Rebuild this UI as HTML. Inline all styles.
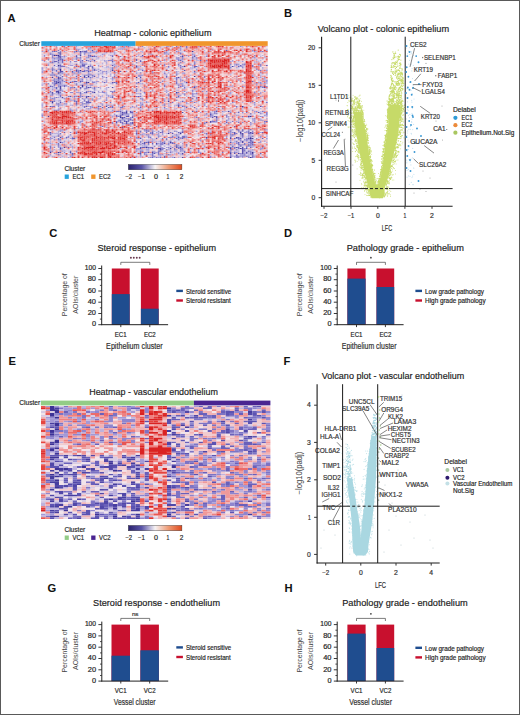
<!DOCTYPE html>
<html><head><meta charset="utf-8"><style>
html,body{margin:0;padding:0;background:#fff;}
body{width:520px;height:715px;overflow:hidden;}
svg{display:block;font-family:"Liberation Sans",sans-serif;}
</style></head><body>
<svg width="520" height="715" viewBox="0 0 520 715">
<rect width="520" height="715" fill="#fff"/>
<text x="7.6" y="21.8" font-size="11.2" text-anchor="start" font-weight="bold" fill="#111">A</text>
<text x="284.0" y="17.3" font-size="11.2" text-anchor="start" font-weight="bold" fill="#111">B</text>
<text x="49.3" y="236.8" font-size="11.2" text-anchor="start" font-weight="bold" fill="#111">C</text>
<text x="284.0" y="236.6" font-size="11.2" text-anchor="start" font-weight="bold" fill="#111">D</text>
<text x="8.5" y="365.0" font-size="11.2" text-anchor="start" font-weight="bold" fill="#111">E</text>
<text x="283.6" y="365.0" font-size="11.2" text-anchor="start" font-weight="bold" fill="#111">F</text>
<text x="47.6" y="592.1" font-size="11.2" text-anchor="start" font-weight="bold" fill="#111">G</text>
<text x="284.4" y="592.0" font-size="11.2" text-anchor="start" font-weight="bold" fill="#111">H</text>
<text x="94.2" y="35.9" font-size="9.6" text-anchor="start" textLength="117.3" lengthAdjust="spacingAndGlyphs" fill="#222" stroke="#222" stroke-width="0.18">Heatmap - colonic epithelium</text>
<text x="317.7" y="31.6" font-size="9.6" text-anchor="start" textLength="131.4" lengthAdjust="spacingAndGlyphs" fill="#222" stroke="#222" stroke-width="0.18">Volcano plot - colonic epithelium</text>
<text x="97.5" y="250.9" font-size="9.6" text-anchor="start" textLength="118.5" lengthAdjust="spacingAndGlyphs" fill="#222" stroke="#222" stroke-width="0.18">Steroid response - epithelium</text>
<text x="346.7" y="250.9" font-size="9.6" text-anchor="start" textLength="117.2" lengthAdjust="spacingAndGlyphs" fill="#222" stroke="#222" stroke-width="0.18">Pathology grade - epithelium</text>
<text x="89.2" y="394.5" font-size="9.6" text-anchor="start" textLength="128.7" lengthAdjust="spacingAndGlyphs" fill="#222" stroke="#222" stroke-width="0.18">Heatmap - vascular endothelium</text>
<text x="321.8" y="379.1" font-size="9.6" text-anchor="start" textLength="142.4" lengthAdjust="spacingAndGlyphs" fill="#222" stroke="#222" stroke-width="0.18">Volcano plot - vascular endothelium</text>
<text x="93.1" y="606.1" font-size="9.6" text-anchor="start" textLength="126.9" lengthAdjust="spacingAndGlyphs" fill="#222" stroke="#222" stroke-width="0.18">Steroid response - endothelium</text>
<text x="342.2" y="606.1" font-size="9.6" text-anchor="start" textLength="125.5" lengthAdjust="spacingAndGlyphs" fill="#222" stroke="#222" stroke-width="0.18">Pathology grade - endothelium</text>
<rect x="111.8" y="268.5" width="17.9" height="56.2" fill="#c8102e"/>
<rect x="111.8" y="294.1" width="17.9" height="30.6" fill="#1f4d8f"/>
<rect x="140.9" y="268.5" width="17.8" height="56.2" fill="#c8102e"/>
<rect x="140.9" y="308.7" width="17.8" height="16.0" fill="#1f4d8f"/>
<line x1="101.7" y1="265.5" x2="101.7" y2="325.1" stroke="#222" stroke-width="1.0"/>
<line x1="101.2" y1="324.7" x2="168.1" y2="324.7" stroke="#222" stroke-width="1.0"/>
<line x1="98.3" y1="324.7" x2="101.7" y2="324.7" stroke="#222" stroke-width="0.9"/>
<line x1="99.9" y1="319.1" x2="101.7" y2="319.1" stroke="#222" stroke-width="0.8"/>
<line x1="98.3" y1="313.5" x2="101.7" y2="313.5" stroke="#222" stroke-width="0.9"/>
<line x1="99.9" y1="307.8" x2="101.7" y2="307.8" stroke="#222" stroke-width="0.8"/>
<line x1="98.3" y1="302.2" x2="101.7" y2="302.2" stroke="#222" stroke-width="0.9"/>
<line x1="99.9" y1="296.6" x2="101.7" y2="296.6" stroke="#222" stroke-width="0.8"/>
<line x1="98.3" y1="291.0" x2="101.7" y2="291.0" stroke="#222" stroke-width="0.9"/>
<line x1="99.9" y1="285.4" x2="101.7" y2="285.4" stroke="#222" stroke-width="0.8"/>
<line x1="98.3" y1="279.7" x2="101.7" y2="279.7" stroke="#222" stroke-width="0.9"/>
<line x1="99.9" y1="274.1" x2="101.7" y2="274.1" stroke="#222" stroke-width="0.8"/>
<line x1="98.3" y1="268.5" x2="101.7" y2="268.5" stroke="#222" stroke-width="0.9"/>
<text x="91.9" y="326.4" font-size="6.3" text-anchor="start" textLength="4.1" lengthAdjust="spacingAndGlyphs" fill="#262626" stroke="#262626" stroke-width="0.18">0</text>
<text x="87.7" y="315.2" font-size="6.3" text-anchor="start" textLength="8.3" lengthAdjust="spacingAndGlyphs" fill="#262626" stroke="#262626" stroke-width="0.18">20</text>
<text x="87.7" y="303.9" font-size="6.3" text-anchor="start" textLength="8.3" lengthAdjust="spacingAndGlyphs" fill="#262626" stroke="#262626" stroke-width="0.18">40</text>
<text x="87.7" y="292.7" font-size="6.3" text-anchor="start" textLength="8.3" lengthAdjust="spacingAndGlyphs" fill="#262626" stroke="#262626" stroke-width="0.18">60</text>
<text x="87.7" y="281.4" font-size="6.3" text-anchor="start" textLength="8.3" lengthAdjust="spacingAndGlyphs" fill="#262626" stroke="#262626" stroke-width="0.18">80</text>
<text x="84.8" y="270.2" font-size="6.3" text-anchor="start" textLength="11.2" lengthAdjust="spacingAndGlyphs" fill="#262626" stroke="#262626" stroke-width="0.18">100</text>
<line x1="120.8" y1="324.7" x2="120.8" y2="327.1" stroke="#222" stroke-width="0.9"/>
<text x="114.8" y="336.8" font-size="6.3" text-anchor="start" textLength="11.8" lengthAdjust="spacingAndGlyphs" fill="#262626" stroke="#262626" stroke-width="0.18">EC1</text>
<line x1="149.8" y1="324.7" x2="149.8" y2="327.1" stroke="#222" stroke-width="0.9"/>
<text x="143.9" y="336.8" font-size="6.3" text-anchor="start" textLength="11.8" lengthAdjust="spacingAndGlyphs" fill="#262626" stroke="#262626" stroke-width="0.18">EC2</text>
<text x="106.1" y="348.6" font-size="8.4" text-anchor="start" textLength="56.6" lengthAdjust="spacingAndGlyphs" fill="#303030" stroke="#303030" stroke-width="0.18">Epithelium cluster</text>
<text transform="translate(66.6,294.7) rotate(-90)" x="0" y="0" font-size="7.2" text-anchor="middle" textLength="43.0" lengthAdjust="spacingAndGlyphs" fill="#444">Percentage of</text>
<text transform="translate(77.6,294.7) rotate(-90)" x="0" y="0" font-size="7.2" text-anchor="middle" textLength="38.0" lengthAdjust="spacingAndGlyphs" fill="#444">AOIs/cluster</text>
<path d="M120.8,264.9 V262.3 H149.8 V264.9" fill="none" stroke="#444" stroke-width="0.7"/>
<circle cx="130.9" cy="257.7" r="0.95" fill="#6a3b50"/>
<circle cx="133.8" cy="257.7" r="0.95" fill="#6a3b50"/>
<circle cx="136.8" cy="257.7" r="0.95" fill="#6a3b50"/>
<circle cx="139.7" cy="257.7" r="0.95" fill="#6a3b50"/>
<rect x="176.3" y="289.7" width="6.6" height="2.4" fill="#1f4d8f"/>
<text x="186.0" y="293.7" font-size="6.6" text-anchor="start" textLength="45.2" lengthAdjust="spacingAndGlyphs" fill="#262626" stroke="#262626" stroke-width="0.18">Steroid sensitive</text>
<rect x="176.3" y="299.3" width="6.6" height="2.4" fill="#c8102e"/>
<text x="186.0" y="303.3" font-size="6.6" text-anchor="start" textLength="44.8" lengthAdjust="spacingAndGlyphs" fill="#262626" stroke="#262626" stroke-width="0.18">Steroid resistant</text>
<rect x="347.4" y="268.5" width="18.2" height="56.2" fill="#c8102e"/>
<rect x="347.4" y="278.6" width="18.2" height="46.1" fill="#1f4d8f"/>
<rect x="376.5" y="268.5" width="17.7" height="56.2" fill="#c8102e"/>
<rect x="376.5" y="287.0" width="17.7" height="37.7" fill="#1f4d8f"/>
<line x1="337.2" y1="265.5" x2="337.2" y2="325.1" stroke="#222" stroke-width="1.0"/>
<line x1="336.7" y1="324.7" x2="403.6" y2="324.7" stroke="#222" stroke-width="1.0"/>
<line x1="333.8" y1="324.7" x2="337.2" y2="324.7" stroke="#222" stroke-width="0.9"/>
<line x1="335.4" y1="319.1" x2="337.2" y2="319.1" stroke="#222" stroke-width="0.8"/>
<line x1="333.8" y1="313.5" x2="337.2" y2="313.5" stroke="#222" stroke-width="0.9"/>
<line x1="335.4" y1="307.8" x2="337.2" y2="307.8" stroke="#222" stroke-width="0.8"/>
<line x1="333.8" y1="302.2" x2="337.2" y2="302.2" stroke="#222" stroke-width="0.9"/>
<line x1="335.4" y1="296.6" x2="337.2" y2="296.6" stroke="#222" stroke-width="0.8"/>
<line x1="333.8" y1="291.0" x2="337.2" y2="291.0" stroke="#222" stroke-width="0.9"/>
<line x1="335.4" y1="285.4" x2="337.2" y2="285.4" stroke="#222" stroke-width="0.8"/>
<line x1="333.8" y1="279.7" x2="337.2" y2="279.7" stroke="#222" stroke-width="0.9"/>
<line x1="335.4" y1="274.1" x2="337.2" y2="274.1" stroke="#222" stroke-width="0.8"/>
<line x1="333.8" y1="268.5" x2="337.2" y2="268.5" stroke="#222" stroke-width="0.9"/>
<text x="327.4" y="326.4" font-size="6.3" text-anchor="start" textLength="4.1" lengthAdjust="spacingAndGlyphs" fill="#262626" stroke="#262626" stroke-width="0.18">0</text>
<text x="323.2" y="315.2" font-size="6.3" text-anchor="start" textLength="8.3" lengthAdjust="spacingAndGlyphs" fill="#262626" stroke="#262626" stroke-width="0.18">20</text>
<text x="323.2" y="303.9" font-size="6.3" text-anchor="start" textLength="8.3" lengthAdjust="spacingAndGlyphs" fill="#262626" stroke="#262626" stroke-width="0.18">40</text>
<text x="323.2" y="292.7" font-size="6.3" text-anchor="start" textLength="8.3" lengthAdjust="spacingAndGlyphs" fill="#262626" stroke="#262626" stroke-width="0.18">60</text>
<text x="323.2" y="281.4" font-size="6.3" text-anchor="start" textLength="8.3" lengthAdjust="spacingAndGlyphs" fill="#262626" stroke="#262626" stroke-width="0.18">80</text>
<text x="320.3" y="270.2" font-size="6.3" text-anchor="start" textLength="11.2" lengthAdjust="spacingAndGlyphs" fill="#262626" stroke="#262626" stroke-width="0.18">100</text>
<line x1="356.5" y1="324.7" x2="356.5" y2="327.1" stroke="#222" stroke-width="0.9"/>
<text x="350.6" y="336.8" font-size="6.3" text-anchor="start" textLength="11.8" lengthAdjust="spacingAndGlyphs" fill="#262626" stroke="#262626" stroke-width="0.18">EC1</text>
<line x1="385.4" y1="324.7" x2="385.4" y2="327.1" stroke="#222" stroke-width="0.9"/>
<text x="379.5" y="336.8" font-size="6.3" text-anchor="start" textLength="11.8" lengthAdjust="spacingAndGlyphs" fill="#262626" stroke="#262626" stroke-width="0.18">EC2</text>
<text x="341.8" y="348.6" font-size="8.4" text-anchor="start" textLength="54.7" lengthAdjust="spacingAndGlyphs" fill="#303030" stroke="#303030" stroke-width="0.18">Epithelium cluster</text>
<text transform="translate(302.3,294.7) rotate(-90)" x="0" y="0" font-size="7.2" text-anchor="middle" textLength="43.0" lengthAdjust="spacingAndGlyphs" fill="#444">Percentage of</text>
<text transform="translate(313.3,294.7) rotate(-90)" x="0" y="0" font-size="7.2" text-anchor="middle" textLength="38.0" lengthAdjust="spacingAndGlyphs" fill="#444">AOIs/cluster</text>
<path d="M356.5,264.9 V262.3 H385.4 V264.9" fill="none" stroke="#444" stroke-width="0.7"/>
<circle cx="370.9" cy="257.7" r="0.9" fill="#444"/>
<rect x="415.4" y="289.7" width="6.6" height="2.4" fill="#1f4d8f"/>
<text x="425.1" y="293.7" font-size="6.6" text-anchor="start" textLength="58.9" lengthAdjust="spacingAndGlyphs" fill="#262626" stroke="#262626" stroke-width="0.18">Low grade pathology</text>
<rect x="415.4" y="299.3" width="6.6" height="2.4" fill="#c8102e"/>
<text x="425.1" y="303.3" font-size="6.6" text-anchor="start" textLength="60.5" lengthAdjust="spacingAndGlyphs" fill="#262626" stroke="#262626" stroke-width="0.18">High grade pathology</text>
<rect x="111.5" y="624.6" width="18.5" height="56.5" fill="#c8102e"/>
<rect x="111.5" y="655.7" width="18.5" height="25.4" fill="#1f4d8f"/>
<rect x="140.4" y="624.6" width="18.5" height="56.5" fill="#c8102e"/>
<rect x="140.4" y="650.3" width="18.5" height="30.8" fill="#1f4d8f"/>
<line x1="101.8" y1="621.6" x2="101.8" y2="681.5" stroke="#222" stroke-width="1.0"/>
<line x1="101.3" y1="681.1" x2="168.2" y2="681.1" stroke="#222" stroke-width="1.0"/>
<line x1="98.4" y1="681.1" x2="101.8" y2="681.1" stroke="#222" stroke-width="0.9"/>
<line x1="100.0" y1="675.5" x2="101.8" y2="675.5" stroke="#222" stroke-width="0.8"/>
<line x1="98.4" y1="669.8" x2="101.8" y2="669.8" stroke="#222" stroke-width="0.9"/>
<line x1="100.0" y1="664.1" x2="101.8" y2="664.1" stroke="#222" stroke-width="0.8"/>
<line x1="98.4" y1="658.5" x2="101.8" y2="658.5" stroke="#222" stroke-width="0.9"/>
<line x1="100.0" y1="652.9" x2="101.8" y2="652.9" stroke="#222" stroke-width="0.8"/>
<line x1="98.4" y1="647.2" x2="101.8" y2="647.2" stroke="#222" stroke-width="0.9"/>
<line x1="100.0" y1="641.6" x2="101.8" y2="641.6" stroke="#222" stroke-width="0.8"/>
<line x1="98.4" y1="635.9" x2="101.8" y2="635.9" stroke="#222" stroke-width="0.9"/>
<line x1="100.0" y1="630.2" x2="101.8" y2="630.2" stroke="#222" stroke-width="0.8"/>
<line x1="98.4" y1="624.6" x2="101.8" y2="624.6" stroke="#222" stroke-width="0.9"/>
<text x="92.0" y="682.8" font-size="6.3" text-anchor="start" textLength="4.1" lengthAdjust="spacingAndGlyphs" fill="#262626" stroke="#262626" stroke-width="0.18">0</text>
<text x="87.8" y="671.5" font-size="6.3" text-anchor="start" textLength="8.3" lengthAdjust="spacingAndGlyphs" fill="#262626" stroke="#262626" stroke-width="0.18">20</text>
<text x="87.8" y="660.2" font-size="6.3" text-anchor="start" textLength="8.3" lengthAdjust="spacingAndGlyphs" fill="#262626" stroke="#262626" stroke-width="0.18">40</text>
<text x="87.8" y="648.9" font-size="6.3" text-anchor="start" textLength="8.3" lengthAdjust="spacingAndGlyphs" fill="#262626" stroke="#262626" stroke-width="0.18">60</text>
<text x="87.8" y="637.6" font-size="6.3" text-anchor="start" textLength="8.3" lengthAdjust="spacingAndGlyphs" fill="#262626" stroke="#262626" stroke-width="0.18">80</text>
<text x="84.9" y="626.3" font-size="6.3" text-anchor="start" textLength="11.2" lengthAdjust="spacingAndGlyphs" fill="#262626" stroke="#262626" stroke-width="0.18">100</text>
<line x1="120.8" y1="681.1" x2="120.8" y2="683.5" stroke="#222" stroke-width="0.9"/>
<text x="114.8" y="693.2" font-size="6.3" text-anchor="start" textLength="11.8" lengthAdjust="spacingAndGlyphs" fill="#262626" stroke="#262626" stroke-width="0.18">VC1</text>
<line x1="149.7" y1="681.1" x2="149.7" y2="683.5" stroke="#222" stroke-width="0.9"/>
<text x="143.8" y="693.2" font-size="6.3" text-anchor="start" textLength="11.8" lengthAdjust="spacingAndGlyphs" fill="#262626" stroke="#262626" stroke-width="0.18">VC2</text>
<text x="113.8" y="705.0" font-size="8.4" text-anchor="start" textLength="41.6" lengthAdjust="spacingAndGlyphs" fill="#303030" stroke="#303030" stroke-width="0.18">Vessel cluster</text>
<text transform="translate(66.8,651.0) rotate(-90)" x="0" y="0" font-size="7.2" text-anchor="middle" textLength="43.0" lengthAdjust="spacingAndGlyphs" fill="#444">Percentage of</text>
<text transform="translate(77.8,651.0) rotate(-90)" x="0" y="0" font-size="7.2" text-anchor="middle" textLength="38.0" lengthAdjust="spacingAndGlyphs" fill="#444">AOIs/cluster</text>
<path d="M120.8,621.0 V618.4 H149.7 V621.0" fill="none" stroke="#444" stroke-width="0.7"/>
<text x="131.9" y="615.8" font-size="6.0" text-anchor="start" textLength="6.6" lengthAdjust="spacingAndGlyphs" fill="#303030" stroke="#303030" stroke-width="0.18">ns</text>
<rect x="176.3" y="646.2" width="6.6" height="2.4" fill="#1f4d8f"/>
<text x="186.0" y="650.2" font-size="6.6" text-anchor="start" textLength="45.2" lengthAdjust="spacingAndGlyphs" fill="#262626" stroke="#262626" stroke-width="0.18">Steroid sensitive</text>
<rect x="176.3" y="655.8" width="6.6" height="2.4" fill="#c8102e"/>
<text x="186.0" y="659.8" font-size="6.6" text-anchor="start" textLength="44.8" lengthAdjust="spacingAndGlyphs" fill="#262626" stroke="#262626" stroke-width="0.18">Steroid resistant</text>
<rect x="347.4" y="624.6" width="18.2" height="56.5" fill="#c8102e"/>
<rect x="347.4" y="633.6" width="18.2" height="47.5" fill="#1f4d8f"/>
<rect x="376.5" y="624.6" width="17.7" height="56.5" fill="#c8102e"/>
<rect x="376.5" y="648.0" width="17.7" height="33.1" fill="#1f4d8f"/>
<line x1="337.2" y1="621.6" x2="337.2" y2="681.5" stroke="#222" stroke-width="1.0"/>
<line x1="336.7" y1="681.1" x2="403.6" y2="681.1" stroke="#222" stroke-width="1.0"/>
<line x1="333.8" y1="681.1" x2="337.2" y2="681.1" stroke="#222" stroke-width="0.9"/>
<line x1="335.4" y1="675.5" x2="337.2" y2="675.5" stroke="#222" stroke-width="0.8"/>
<line x1="333.8" y1="669.8" x2="337.2" y2="669.8" stroke="#222" stroke-width="0.9"/>
<line x1="335.4" y1="664.1" x2="337.2" y2="664.1" stroke="#222" stroke-width="0.8"/>
<line x1="333.8" y1="658.5" x2="337.2" y2="658.5" stroke="#222" stroke-width="0.9"/>
<line x1="335.4" y1="652.9" x2="337.2" y2="652.9" stroke="#222" stroke-width="0.8"/>
<line x1="333.8" y1="647.2" x2="337.2" y2="647.2" stroke="#222" stroke-width="0.9"/>
<line x1="335.4" y1="641.6" x2="337.2" y2="641.6" stroke="#222" stroke-width="0.8"/>
<line x1="333.8" y1="635.9" x2="337.2" y2="635.9" stroke="#222" stroke-width="0.9"/>
<line x1="335.4" y1="630.2" x2="337.2" y2="630.2" stroke="#222" stroke-width="0.8"/>
<line x1="333.8" y1="624.6" x2="337.2" y2="624.6" stroke="#222" stroke-width="0.9"/>
<text x="327.4" y="682.8" font-size="6.3" text-anchor="start" textLength="4.1" lengthAdjust="spacingAndGlyphs" fill="#262626" stroke="#262626" stroke-width="0.18">0</text>
<text x="323.2" y="671.5" font-size="6.3" text-anchor="start" textLength="8.3" lengthAdjust="spacingAndGlyphs" fill="#262626" stroke="#262626" stroke-width="0.18">20</text>
<text x="323.2" y="660.2" font-size="6.3" text-anchor="start" textLength="8.3" lengthAdjust="spacingAndGlyphs" fill="#262626" stroke="#262626" stroke-width="0.18">40</text>
<text x="323.2" y="648.9" font-size="6.3" text-anchor="start" textLength="8.3" lengthAdjust="spacingAndGlyphs" fill="#262626" stroke="#262626" stroke-width="0.18">60</text>
<text x="323.2" y="637.6" font-size="6.3" text-anchor="start" textLength="8.3" lengthAdjust="spacingAndGlyphs" fill="#262626" stroke="#262626" stroke-width="0.18">80</text>
<text x="320.3" y="626.3" font-size="6.3" text-anchor="start" textLength="11.2" lengthAdjust="spacingAndGlyphs" fill="#262626" stroke="#262626" stroke-width="0.18">100</text>
<line x1="356.5" y1="681.1" x2="356.5" y2="683.5" stroke="#222" stroke-width="0.9"/>
<text x="350.6" y="693.2" font-size="6.3" text-anchor="start" textLength="11.8" lengthAdjust="spacingAndGlyphs" fill="#262626" stroke="#262626" stroke-width="0.18">VC1</text>
<line x1="385.4" y1="681.1" x2="385.4" y2="683.5" stroke="#222" stroke-width="0.9"/>
<text x="379.5" y="693.2" font-size="6.3" text-anchor="start" textLength="11.8" lengthAdjust="spacingAndGlyphs" fill="#262626" stroke="#262626" stroke-width="0.18">VC2</text>
<text x="349.2" y="705.0" font-size="8.4" text-anchor="start" textLength="42.8" lengthAdjust="spacingAndGlyphs" fill="#303030" stroke="#303030" stroke-width="0.18">Vessel cluster</text>
<text transform="translate(302.3,651.0) rotate(-90)" x="0" y="0" font-size="7.2" text-anchor="middle" textLength="43.0" lengthAdjust="spacingAndGlyphs" fill="#444">Percentage of</text>
<text transform="translate(313.3,651.0) rotate(-90)" x="0" y="0" font-size="7.2" text-anchor="middle" textLength="38.0" lengthAdjust="spacingAndGlyphs" fill="#444">AOIs/cluster</text>
<path d="M356.5,621.0 V618.4 H385.4 V621.0" fill="none" stroke="#444" stroke-width="0.7"/>
<circle cx="370.9" cy="613.8" r="0.9" fill="#444"/>
<rect x="415.4" y="646.6" width="6.6" height="2.4" fill="#1f4d8f"/>
<text x="425.1" y="650.6" font-size="6.6" text-anchor="start" textLength="58.9" lengthAdjust="spacingAndGlyphs" fill="#262626" stroke="#262626" stroke-width="0.18">Low grade pathology</text>
<rect x="415.4" y="656.2" width="6.6" height="2.4" fill="#c8102e"/>
<text x="425.1" y="660.2" font-size="6.6" text-anchor="start" textLength="60.5" lengthAdjust="spacingAndGlyphs" fill="#262626" stroke="#262626" stroke-width="0.18">High grade pathology</text>
<path d="M361.1 128.4h0M392.9 102.5h0M387.3 101.0h0M352.2 139.7h0M385.7 138.7h0M403.0 118.0h0M371.7 154.4h0M391.8 99.8h0M352.0 109.9h0M369.6 179.1h0M364.8 160.8h0M349.8 101.5h0M361.6 165.1h0M358.9 155.3h0M381.9 176.8h0M398.2 154.2h0M374.5 170.1h0M359.2 107.2h0M347.4 110.7h0M390.3 163.8h0M373.5 185.2h0M389.6 156.2h0M384.4 181.5h0M368.2 163.4h0M395.4 161.7h0M360.7 124.3h0M349.1 97.3h0M359.3 107.1h0M353.2 108.3h0M368.9 184.8h0M397.7 151.6h0M368.0 184.0h0M403.2 132.0h0M350.7 110.5h0M358.2 119.0h0M355.6 122.1h0M403.1 133.0h0M390.7 166.1h0M371.9 164.6h0M392.2 175.3h0M351.2 135.4h0M355.7 160.3h0M353.3 116.5h0M349.0 100.4h0M347.1 105.5h0M377.2 185.1h0M354.4 121.0h0M403.9 107.7h0M352.7 143.0h0M351.0 105.5h0M360.0 180.4h0M376.4 193.0h0M362.5 150.9h0M385.9 195.8h0M350.8 121.9h0M392.1 174.5h0M364.3 129.0h0M387.5 196.4h0M380.7 179.3h0M352.5 148.3h0M350.5 97.9h0M387.6 166.3h0M390.8 191.5h0M353.3 132.6h0M358.2 115.3h0M382.5 187.7h0M381.7 162.3h0M394.3 163.0h0M360.7 172.3h0M372.7 176.3h0M369.7 195.1h0M376.8 192.5h0M361.8 108.1h0M373.7 178.1h0M379.9 196.0h0M352.7 151.5h0M383.2 195.0h0M377.5 191.2h0M364.0 180.1h0M359.3 125.2h0M350.1 121.7h0M370.0 188.7h0M389.1 155.1h0M383.3 189.5h0M360.5 148.9h0M361.1 113.9h0M359.5 112.8h0M362.6 152.3h0M383.3 152.2h0M358.0 152.7h0M388.2 174.5h0M386.3 173.3h0M390.3 158.1h0M365.8 166.4h0M396.8 144.2h0M379.1 185.3h0M397.9 152.6h0M354.2 109.1h0M347.8 102.5h0M396.1 164.0h0M397.8 110.9h0M403.4 109.7h0M392.9 117.6h0M399.3 145.2h0M355.7 111.6h0M354.8 129.9h0M366.8 169.4h0M357.1 140.4h0M381.6 159.3h0M390.4 196.5h0M347.3 105.8h0M360.5 175.2h0M400.2 138.5h0M364.9 121.6h0M382.8 153.8h0M394.0 100.9h0M397.6 102.5h0M374.0 177.6h0M394.5 101.9h0M402.6 129.9h0M357.7 122.6h0M350.4 119.6h0M351.4 100.2h0M390.5 126.4h0M358.3 146.5h0M346.9 96.9h0M382.3 170.5h0M384.5 143.9h0M368.1 179.3h0M368.8 181.0h0M385.8 165.8h0M387.6 180.7h0M350.6 136.7h0M359.1 108.4h0M349.1 121.3h0M387.9 181.7h0M353.4 124.0h0M359.6 142.3h0M403.5 122.1h0M371.0 151.3h0M348.1 126.9h0M359.1 134.3h0M385.7 115.7h0M355.2 122.2h0M351.2 99.3h0M395.3 119.0h0M391.3 172.3h0M366.9 185.5h0M375.3 196.4h0M370.2 161.3h0M387.2 186.9h0M368.4 178.7h0M398.4 147.0h0M392.3 180.1h0M383.9 165.3h0M352.0 98.2h0M396.2 105.8h0M393.2 159.7h0M366.9 145.4h0M388.2 172.1h0M368.7 162.9h0M352.5 121.0h0M370.2 170.1h0M369.5 195.5h0M398.1 144.3h0M381.9 158.5h0M359.4 110.2h0M385.3 126.4h0M356.9 101.2h0M384.8 166.3h0M360.9 148.2h0M389.7 107.2h0M374.1 195.7h0M402.8 142.3h0M354.8 141.3h0M372.5 192.4h0M403.1 109.6h0M395.2 108.7h0M378.2 186.3h0M361.8 187.5h0M353.1 95.4h0M354.7 126.1h0M384.9 127.6h0M380.7 172.3h0M389.8 190.4h0M355.5 124.9h0M379.7 197.9h0M351.2 139.1h0M391.4 105.5h0M366.8 191.4h0M359.0 147.6h0M388.3 193.5h0M398.0 160.0h0M382.3 151.6h0M370.5 170.4h0M355.7 161.4h0M370.4 190.5h0M363.2 130.4h0M374.1 195.6h0M392.5 126.0h0M350.4 112.2h0M365.6 188.3h0M381.8 188.3h0M348.2 109.4h0M353.2 130.2h0M401.9 121.6h0M364.9 172.2h0M358.6 149.0h0M361.4 101.4h0M397.4 108.0h0M365.4 183.9h0M355.8 120.6h0M389.3 193.3h0M356.9 97.2h0M372.2 187.3h0M360.0 95.0h0M393.8 180.0h0M350.4 120.6h0M400.7 148.8h0M392.7 169.3h0M383.4 142.1h0M374.6 175.6h0M357.2 161.5h0M398.4 120.9h0M355.3 106.5h0M357.3 155.0h0M359.1 156.9h0M396.0 142.5h0M365.4 186.0h0M398.5 120.4h0M357.8 126.7h0M360.4 164.5h0M384.1 163.7h0M352.8 98.5h0M370.3 165.3h0M382.4 171.1h0M376.8 194.9h0M361.4 118.8h0M394.5 125.4h0M354.3 114.3h0M382.7 163.5h0M368.9 135.5h0M347.7 109.6h0M401.7 135.5h0M395.5 170.5h0M366.8 128.9h0M369.3 171.9h0M355.6 134.0h0M351.7 112.4h0M386.9 131.2h0M368.8 194.3h0M384.3 179.6h0M352.3 100.1h0M368.4 189.7h0M368.9 187.4h0M377.6 178.6h0M360.2 98.6h0M402.1 121.5h0M367.4 129.9h0M367.4 158.5h0M348.3 127.6h0M389.8 172.8h0M366.4 192.2h0M402.1 143.9h0M357.7 134.8h0M385.8 145.8h0M391.9 177.7h0M384.0 174.6h0M363.6 127.9h0M358.5 103.1h0M348.1 120.5h0M371.4 151.9h0M378.9 186.0h0M354.5 103.7h0M360.8 168.1h0M397.3 137.9h0M390.5 172.0h0M391.4 107.5h0M367.0 153.4h0M351.4 115.5h0M396.4 110.8h0M367.8 128.6h0M367.4 147.3h0M382.0 162.3h0M399.8 143.9h0M367.0 189.2h0M362.7 107.3h0M388.1 155.1h0M365.3 184.2h0M379.9 175.1h0M384.9 156.4h0M352.9 133.0h0M397.5 121.3h0M353.0 116.0h0M361.5 164.9h0M395.7 116.0h0M352.7 101.5h0M383.1 151.7h0M393.3 111.9h0M366.1 124.2h0M391.8 127.2h0M403.9 137.9h0M363.3 132.5h0M363.4 116.0h0M391.6 138.6h0M364.0 185.9h0M397.9 96.5h0M372.9 188.7h0M387.2 133.2h0M402.6 124.2h0M359.8 106.2h0M365.0 194.6h0M382.4 192.1h0M393.4 100.5h0M388.6 188.1h0M389.9 111.5h0M400.5 136.7h0M354.0 113.8h0M354.3 148.3h0M402.1 120.4h0M399.8 99.2h0M388.9 98.9h0M392.8 156.8h0M359.4 126.5h0M392.4 138.9h0M362.7 140.2h0M366.3 145.4h0M361.4 175.3h0M353.6 143.7h0M359.0 139.4h0M364.1 147.5h0M400.1 103.5h0M361.6 147.7h0M386.9 133.9h0M388.4 183.3h0M376.7 178.9h0M400.9 145.7h0M402.7 112.0h0M358.3 101.7h0M390.8 111.4h0M368.1 179.0h0M366.6 189.8h0M352.4 147.1h0M363.5 113.8h0M382.9 165.0h0M367.8 175.8h0M370.7 160.5h0M398.8 152.2h0M397.4 105.8h0M389.3 135.6h0M379.8 197.0h0M361.0 173.8h0M372.0 171.6h0M403.7 121.1h0M386.9 155.3h0M348.8 95.2h0M363.5 158.5h0M365.5 187.2h0M355.2 162.3h0M355.8 131.6h0M396.4 118.1h0M394.4 116.0h0M390.4 108.9h0M357.6 110.4h0M382.0 184.7h0M359.9 122.2h0M365.1 152.9h0M398.2 140.7h0M386.3 120.6h0M356.8 149.7h0M386.9 101.0h0M384.1 151.7h0M395.0 115.6h0M383.5 161.1h0M349.1 126.9h0M387.0 186.6h0M399.7 95.7h0M391.9 142.9h0M351.5 118.3h0M357.7 99.0h0M392.3 166.6h0M393.5 122.4h0M382.4 176.2h0M384.3 161.1h0M365.7 185.6h0M403.0 119.3h0M373.1 171.9h0M366.2 128.8h0M392.9 160.0h0M377.2 195.8h0M387.3 166.9h0M384.5 169.6h0M387.0 116.8h0M362.1 188.8h0M392.4 106.0h0M347.4 109.6h0M392.1 166.3h0M367.7 170.9h0M400.5 132.4h0M377.3 186.8h0M375.7 189.2h0M347.7 116.2h0M387.0 182.3h0M381.6 180.0h0M358.9 105.3h0M354.7 116.1h0M350.8 97.2h0M362.5 168.7h0M389.0 194.3h0M361.7 158.7h0M390.2 140.0h0M383.3 167.6h0M375.2 183.8h0M350.3 112.5h0M378.4 173.5h0M366.9 145.6h0M353.1 114.0h0M376.5 180.7h0M361.3 124.2h0M363.9 146.3h0M398.7 103.3h0M384.1 176.1h0M367.3 136.3h0M386.9 103.9h0M363.4 116.2h0M368.8 146.6h0M357.2 119.1h0M390.0 172.7h0M351.6 130.9h0M389.1 181.8h0M360.3 112.5h0M361.9 154.7h0M364.6 186.2h0M401.0 126.1h0M351.0 110.9h0M387.9 128.6h0M367.5 128.8h0M374.2 170.1h0M362.5 105.5h0M385.2 176.9h0M387.6 115.2h0M347.7 116.3h0M397.8 136.1h0M391.5 146.6h0M393.3 109.6h0M386.4 171.3h0M389.3 154.1h0M401.8 118.5h0M393.3 174.7h0M388.0 165.0h0M386.8 127.2h0M398.1 138.2h0M362.2 159.9h0M391.2 141.9h0M383.2 164.6h0M387.2 162.4h0M382.9 145.5h0M367.4 151.0h0M375.6 191.9h0M395.1 154.2h0M398.7 147.8h0M370.3 148.7h0M392.8 116.6h0M375.3 173.6h0M354.1 131.6h0M357.8 136.2h0M390.5 138.3h0M361.7 122.3h0M377.7 191.8h0M362.6 177.6h0M400.6 108.3h0M364.9 160.3h0M392.1 118.3h0M395.5 160.8h0M361.7 143.2h0M392.5 107.9h0M366.9 182.6h0M351.0 121.1h0M391.9 95.3h0M356.4 120.2h0M396.9 139.1h0M401.1 132.3h0M402.4 100.9h0M373.1 175.8h0M354.7 160.2h0M378.3 193.0h0M350.5 105.5h0M360.8 175.0h0M376.8 188.1h0M388.1 186.8h0M394.2 163.9h0M372.2 181.4h0M390.4 149.7h0M379.0 185.9h0M356.5 119.1h0M348.9 101.0h0M361.9 145.6h0M375.6 183.9h0M396.3 143.2h0M367.4 181.6h0M373.6 193.9h0M365.8 160.5h0M385.7 165.3h0M382.1 196.1h0M374.6 187.4h0M370.3 159.4h0M359.3 132.7h0M365.7 174.4h0M400.4 138.5h0M392.8 125.2h0M361.5 146.9h0M387.7 195.4h0M354.3 129.1h0M396.2 155.4h0M402.0 99.1h0M358.2 151.2h0M359.9 95.6h0M395.7 157.7h0M384.8 188.7h0M391.6 159.6h0M367.9 165.1h0M384.6 142.2h0M360.6 113.7h0M380.4 189.2h0M386.6 179.7h0M355.5 121.6h0M360.8 127.8h0M372.2 191.2h0M358.6 99.1h0M389.7 154.3h0M355.2 96.5h0M382.3 191.6h0M362.6 137.5h0M347.4 116.9h0M389.2 95.5h0M377.6 194.5h0M358.7 108.3h0M388.9 120.0h0M399.1 100.2h0M376.9 183.1h0M389.0 159.7h0M379.2 191.0h0M357.1 168.9h0M381.6 162.0h0M388.1 127.0h0M361.5 183.7h0M393.0 132.9h0M370.1 164.7h0M396.7 132.4h0M365.5 138.1h0M383.9 192.3h0M366.7 125.1h0M385.4 167.4h0M396.6 157.4h0M361.6 156.9h0M373.9 186.5h0M396.3 157.0h0M352.9 124.2h0M400.2 138.5h0M376.6 186.4h0M387.1 178.6h0M400.4 123.2h0M386.0 165.5h0M400.4 103.8h0M402.7 115.6h0M398.0 119.1h0M356.0 142.9h0M386.8 172.4h0M400.0 104.0h0M402.1 119.0h0M382.7 186.2h0M356.9 155.7h0M392.4 113.6h0M362.7 153.1h0M363.8 110.3h0M361.6 133.5h0M369.0 176.1h0M385.0 130.5h0M401.7 98.5h0M387.5 145.1h0M375.0 175.3h0M395.4 174.0h0M351.3 121.2h0M347.8 113.6h0M390.3 152.4h0M374.9 192.6h0M355.6 156.6h0M372.3 193.8h0M392.7 161.0h0M352.4 135.5h0M377.7 194.5h0M351.9 99.0h0M388.9 188.0h0M399.0 99.8h0M381.2 161.6h0M402.9 109.9h0M366.5 164.7h0M363.5 173.1h0M356.6 121.5h0M349.2 112.4h0M368.7 164.8h0M363.6 115.1h0M401.5 117.7h0M369.5 186.5h0M401.2 105.0h0M360.6 159.7h0M370.6 179.8h0M347.7 109.7h0M381.8 168.5h0M368.2 184.7h0M361.2 111.0h0M358.1 129.5h0M387.1 127.8h0M378.1 195.8h0M364.2 163.8h0M351.7 124.5h0M404.0 132.5h0M367.1 190.3h0M374.7 187.3h0M385.5 125.2h0M361.5 178.1h0M396.0 95.2h0M363.1 114.1h0M388.1 117.5h0M398.7 113.6h0M348.6 115.3h0M358.8 157.7h0M398.6 116.2h0M380.5 178.6h0M393.7 101.8h0M371.3 169.3h0M401.4 129.5h0M369.2 145.8h0M387.8 144.1h0M392.4 114.2h0M357.1 111.8h0M394.6 95.5h0M365.7 148.1h0M382.5 179.1h0M370.1 168.3h0M403.2 101.3h0M392.9 146.0h0M370.9 150.3h0M349.1 118.0h0M386.0 120.8h0M389.8 104.9h0M396.8 96.8h0M383.7 148.9h0M375.6 184.6h0M355.0 107.7h0M355.6 123.8h0M401.5 109.1h0M399.4 110.2h0M402.9 111.9h0M366.1 135.0h0M370.3 149.1h0M362.4 175.0h0M367.8 129.5h0M391.7 177.9h0M369.3 182.3h0M378.2 193.7h0M390.8 138.5h0M360.5 149.7h0M354.4 147.0h0M390.5 194.9h0M396.9 160.2h0M372.9 186.1h0M390.5 122.4h0M393.9 150.9h0M393.5 120.8h0M367.8 192.9h0M365.8 161.7h0M378.6 193.5h0M385.5 143.0h0M351.6 107.8h0M354.4 136.9h0M401.2 104.0h0M393.0 157.8h0M394.1 115.7h0M390.7 151.4h0M352.4 127.0h0M363.2 147.8h0M359.0 96.2h0M394.6 119.6h0M390.8 124.3h0M359.2 174.5h0M361.8 184.7h0M363.9 135.0h0M362.3 106.3h0M363.3 171.1h0M396.5 131.3h0M384.9 182.5h0M392.3 171.1h0M397.0 143.9h0M377.5 189.2h0M397.0 95.4h0M393.7 146.3h0M401.4 138.0h0M362.2 157.6h0M388.7 142.2h0" fill="none" stroke="#d4e38e" stroke-width="1.00" stroke-linecap="round"/>
<path d="M397.4 75.3h0M396.2 83.0h0M390.4 115.1h0M388.0 111.7h0M391.3 84.8h0M400.9 109.6h0M395.0 105.8h0M397.2 110.6h0M399.4 117.3h0M392.7 83.3h0M397.3 92.1h0M396.0 117.6h0M400.4 76.8h0M389.1 96.3h0M396.0 107.0h0M395.2 117.8h0M389.2 104.5h0M392.8 101.9h0M392.7 72.8h0M393.6 115.2h0M392.3 105.1h0M394.3 115.2h0M400.9 81.9h0M391.5 116.0h0M391.3 76.2h0M392.9 105.8h0M398.2 58.9h0M400.2 66.9h0M402.4 74.4h0M394.5 114.6h0M400.2 62.9h0M397.6 83.9h0M393.6 102.0h0M393.9 87.7h0M398.5 70.5h0M394.7 87.3h0M394.1 57.3h0M397.5 95.6h0M391.8 92.0h0M397.8 111.9h0M392.1 98.2h0M393.5 95.9h0M398.5 106.4h0M389.8 100.5h0M399.3 99.7h0M398.6 56.9h0M399.1 97.2h0M393.3 86.1h0M395.6 73.0h0M392.2 94.9h0M395.5 105.1h0M392.7 73.4h0M391.2 87.5h0M393.7 65.6h0M400.5 107.2h0M399.3 102.9h0M400.7 73.8h0M394.4 114.1h0M403.0 79.0h0M398.6 107.9h0M394.5 87.4h0M399.8 116.0h0M400.5 116.2h0M389.2 104.8h0M393.4 90.6h0M394.1 114.7h0M397.8 85.1h0M397.2 63.9h0M398.2 83.9h0M395.4 108.4h0M400.3 87.4h0M389.3 102.3h0M390.3 109.0h0M389.9 105.8h0M400.8 99.6h0M400.8 86.4h0M396.9 112.8h0M391.2 88.7h0M387.9 114.4h0M388.9 104.0h0M397.2 105.3h0M395.9 110.6h0M394.9 88.4h0M401.0 115.0h0M396.7 102.2h0M400.6 109.1h0M398.9 83.6h0M395.4 86.6h0M395.1 81.7h0M394.8 64.4h0M397.8 79.2h0M392.3 113.6h0M390.7 88.8h0M402.9 88.6h0M393.8 67.3h0M395.4 63.3h0M392.6 109.3h0M401.3 92.8h0M399.0 76.4h0M395.3 52.0h0M393.8 91.8h0M393.0 89.8h0M388.3 117.1h0M393.0 98.7h0M397.0 94.0h0M392.0 99.9h0M398.6 101.4h0M401.2 102.1h0M399.2 93.9h0M390.6 117.3h0M390.0 112.5h0M398.8 82.9h0M394.4 104.0h0M389.3 111.2h0M388.9 108.5h0M392.3 91.9h0M395.8 66.4h0M402.2 68.9h0M391.6 108.8h0M392.0 105.6h0M402.3 82.0h0M396.6 95.8h0M401.5 88.5h0M392.8 109.8h0M390.5 108.4h0M391.5 117.6h0M400.5 55.8h0M389.9 111.8h0M389.5 96.3h0M395.7 64.2h0M389.6 109.5h0M391.6 83.1h0M402.7 82.7h0M392.3 99.2h0M391.8 66.5h0M396.3 93.7h0M393.9 98.2h0M402.9 77.3h0M395.6 75.0h0M387.6 117.9h0M391.2 112.8h0M393.5 74.4h0M388.5 111.6h0M402.0 70.1h0M399.6 100.2h0M402.9 89.5h0M399.1 92.1h0M393.9 97.9h0M398.4 90.9h0M396.5 92.0h0M393.1 81.4h0M394.9 112.9h0M401.2 84.9h0M388.6 108.7h0M399.0 106.2h0M393.9 58.8h0M391.4 79.7h0M396.8 117.8h0M393.3 84.4h0M395.2 71.8h0M397.1 62.1h0M394.3 91.3h0M393.0 104.8h0M402.1 88.5h0M397.1 116.0h0M393.4 94.6h0M393.5 100.9h0M401.4 80.4h0M402.2 81.2h0M398.6 94.9h0M398.5 101.8h0M395.0 97.8h0M394.3 96.4h0M398.4 117.9h0M394.4 66.4h0M395.5 108.1h0M391.0 77.4h0M398.8 108.7h0M393.2 66.0h0M395.0 85.6h0M398.1 82.2h0M390.5 86.9h0M401.8 79.1h0M398.6 78.4h0M389.0 108.4h0M394.9 104.0h0M392.9 95.2h0M392.3 62.5h0M400.8 102.9h0M391.0 96.0h0M397.3 70.3h0M392.2 111.8h0M390.9 75.4h0M392.2 92.9h0M399.1 78.1h0M400.0 117.7h0M402.9 82.8h0M391.1 85.9h0M400.8 63.9h0M402.4 89.9h0M396.6 114.1h0M396.0 71.3h0M395.7 89.7h0M398.7 74.2h0M399.8 107.0h0M396.9 85.5h0M395.4 61.8h0M402.4 83.1h0M394.3 114.0h0M399.0 87.9h0M390.7 100.5h0M400.9 68.4h0M397.7 102.9h0M392.8 105.0h0M402.5 80.3h0M393.3 113.8h0M391.0 95.5h0M394.7 103.4h0M400.3 102.5h0M391.9 92.5h0M398.6 107.2h0M393.3 98.2h0M396.7 115.6h0M397.9 111.3h0M396.1 104.2h0M389.3 114.2h0M398.0 96.0h0M398.8 102.9h0M398.9 113.9h0M388.5 103.5h0M396.4 107.1h0M397.9 56.4h0M390.7 105.6h0M392.5 115.0h0M396.2 110.3h0M403.8 83.5h0M390.4 106.1h0M401.0 79.8h0M394.9 108.4h0M399.9 113.0h0M392.5 115.0h0M394.3 92.2h0M400.6 95.4h0M402.5 73.5h0M397.3 106.4h0M398.3 99.0h0M389.9 110.4h0M390.3 88.4h0M396.9 100.3h0M392.4 101.4h0M397.2 104.3h0M397.2 115.4h0M398.7 105.8h0M398.6 59.4h0M391.4 69.8h0M402.5 75.0h0M396.6 106.6h0M392.2 100.7h0M395.0 112.2h0M402.0 72.8h0M397.4 100.8h0M389.8 104.5h0M401.8 93.1h0M398.8 96.4h0M397.7 113.8h0M400.6 75.5h0M394.7 57.3h0M396.5 94.7h0M399.4 103.2h0M398.8 95.0h0M400.0 110.9h0M393.1 90.9h0M400.5 90.2h0M393.5 62.9h0M399.1 73.2h0M392.5 106.7h0M391.2 92.0h0M388.9 104.5h0M399.4 63.3h0M398.9 106.8h0M398.2 50.1h0M395.9 83.3h0M398.8 92.1h0M400.9 104.3h0M388.5 117.0h0M394.7 97.6h0M400.1 114.4h0M389.7 98.4h0M392.8 92.1h0M391.4 69.4h0M391.6 79.9h0M399.7 117.3h0M401.3 81.3h0M393.8 62.7h0M397.5 111.6h0M393.4 116.6h0M394.7 89.0h0M398.6 106.1h0M394.5 110.0h0M398.2 95.1h0M398.2 93.5h0M396.6 105.7h0M388.9 104.2h0M401.0 64.8h0M401.0 95.0h0M391.4 112.3h0M397.1 116.1h0M390.5 104.5h0M387.8 112.1h0M401.0 86.9h0M395.4 68.4h0M394.4 104.8h0M391.9 93.5h0M399.4 107.5h0M388.7 101.8h0M396.3 84.4h0M397.7 106.6h0M399.9 95.7h0M399.6 78.9h0M401.4 106.6h0M392.2 112.5h0M400.0 102.2h0M403.2 85.6h0M398.9 85.2h0M393.2 113.7h0M401.2 96.3h0M389.9 117.3h0M391.9 100.7h0M398.4 89.4h0M392.8 96.6h0M396.8 115.9h0M390.9 101.9h0M399.9 79.1h0M392.4 113.3h0M398.8 107.9h0M391.1 67.4h0M390.0 111.3h0M398.5 89.1h0M391.9 63.6h0M399.4 73.5h0M391.8 103.2h0M391.5 84.6h0M392.2 103.7h0M391.5 101.5h0M393.3 84.7h0M390.9 108.5h0M389.8 99.2h0M392.6 81.7h0M395.9 93.7h0M397.7 114.2h0M401.6 73.7h0M393.7 53.7h0M392.1 78.7h0M399.0 76.1h0M390.8 114.4h0M403.3 83.8h0M395.8 117.4h0M389.5 94.8h0M399.4 59.3h0M392.9 90.5h0M399.4 87.3h0M401.6 88.7h0M399.3 115.7h0M395.9 93.7h0M399.4 84.7h0M396.7 99.9h0M399.3 95.0h0M391.5 103.0h0M390.5 115.1h0M399.7 115.3h0M393.4 99.5h0M390.3 101.7h0M394.0 63.0h0M396.7 106.5h0M401.1 97.3h0M392.5 101.6h0M396.2 105.5h0M395.9 109.3h0M391.8 67.1h0M398.2 60.1h0M387.8 117.1h0M400.9 113.4h0M396.9 71.5h0M396.5 77.2h0M396.5 71.9h0M395.3 113.0h0M389.7 104.1h0M391.5 103.4h0M396.4 94.4h0M397.2 61.5h0M392.5 92.4h0M401.4 91.0h0M398.4 69.8h0M392.5 103.6h0M389.6 98.5h0M392.9 80.3h0M397.3 83.5h0M398.6 97.9h0M390.8 91.3h0M393.0 92.6h0M399.7 116.7h0M398.5 80.6h0M391.4 78.6h0M400.2 54.6h0M399.5 68.2h0M401.5 85.2h0M392.2 71.7h0M389.2 116.0h0M390.5 99.4h0M389.1 115.1h0M393.7 71.7h0M403.5 80.8h0M392.4 107.8h0M393.1 100.1h0M395.2 72.7h0M397.3 117.3h0M391.7 104.9h0M400.9 74.6h0M397.4 100.1h0M399.8 102.8h0M393.7 71.8h0M391.9 63.9h0M391.3 99.9h0M396.7 84.3h0M396.9 109.6h0M394.3 98.2h0M393.3 117.5h0M400.6 97.7h0M395.0 118.0h0M399.8 101.2h0M390.6 112.7h0M394.5 114.8h0M393.9 104.2h0M396.6 83.9h0M391.8 100.4h0M390.6 111.3h0M398.3 98.5h0M388.5 112.8h0M391.4 79.0h0M397.3 103.8h0M399.8 71.5h0M393.4 91.3h0M392.1 63.3h0M396.6 70.1h0M403.0 82.0h0M397.3 61.9h0M393.0 115.7h0M393.3 99.0h0M393.2 112.4h0M400.8 99.5h0M398.7 89.3h0M395.1 114.1h0M388.8 104.0h0M396.9 81.6h0M392.6 110.7h0M396.4 113.1h0M391.9 103.0h0M393.7 85.7h0M390.4 105.5h0M390.3 104.4h0M402.4 86.6h0M393.7 112.8h0M399.7 100.4h0M402.6 89.8h0M392.9 51.9h0M396.9 97.6h0M401.5 95.1h0M393.4 116.5h0M396.9 117.6h0M389.5 99.6h0M389.5 95.6h0M396.0 103.4h0M396.1 109.7h0M395.4 112.0h0M400.2 114.9h0M395.2 70.1h0M398.6 111.3h0M401.3 105.5h0M399.6 70.3h0M395.8 111.5h0M388.9 113.3h0M394.2 55.2h0M394.0 109.0h0M393.2 117.9h0M398.3 104.6h0M397.9 58.1h0M394.8 117.2h0M399.8 65.4h0M388.4 110.5h0M401.8 72.0h0M399.2 57.6h0M397.9 116.0h0M401.7 85.3h0M398.5 95.7h0M390.0 112.6h0M395.3 86.8h0M396.2 101.3h0M389.5 116.7h0M392.8 115.7h0M391.2 70.0h0M398.0 73.2h0M390.9 115.8h0M396.4 62.4h0M397.1 106.6h0M401.2 112.9h0M388.9 97.9h0M402.9 77.9h0M389.8 87.8h0M395.8 111.2h0M389.1 116.7h0M395.8 117.6h0M401.5 73.1h0M393.0 57.9h0M400.3 89.2h0M397.3 76.9h0M391.9 90.3h0M394.7 53.8h0M394.7 93.4h0M403.1 83.9h0M397.4 111.7h0M391.9 59.6h0M396.8 107.3h0M390.2 91.8h0M395.3 98.2h0M394.7 94.9h0M399.7 54.4h0M395.3 63.6h0M392.4 78.1h0M394.6 105.0h0M394.6 55.9h0M399.4 88.8h0M393.6 96.7h0M396.6 108.5h0M397.6 109.0h0M398.8 74.6h0M391.8 117.7h0M399.7 103.0h0M396.3 115.9h0M392.4 87.6h0M394.7 81.8h0M398.2 83.7h0M398.9 77.3h0M398.8 97.3h0M399.2 97.6h0M391.5 99.2h0M394.3 73.1h0M398.1 100.8h0M397.2 95.3h0M394.7 64.1h0M398.0 103.7h0M393.9 108.7h0M402.1 70.0h0M392.5 107.7h0M393.7 110.4h0M393.4 102.1h0M393.8 111.2h0M393.0 89.7h0M395.2 75.3h0M399.9 74.0h0M397.0 95.6h0M391.0 111.6h0M394.0 88.2h0M391.7 83.7h0M400.2 64.8h0M394.7 89.1h0M399.0 103.7h0M403.3 78.8h0M393.1 80.3h0M396.9 78.3h0M401.1 74.0h0M392.8 109.4h0M396.9 91.0h0M395.5 73.3h0M397.7 94.4h0M401.3 80.0h0M389.2 99.3h0M396.8 115.2h0M396.6 82.8h0M398.0 66.1h0M391.7 90.9h0M397.2 70.0h0M398.5 81.8h0M399.7 91.2h0M399.9 87.7h0M390.6 93.7h0M397.3 106.1h0M391.0 71.7h0M401.3 108.9h0M397.9 104.7h0M400.9 90.9h0M392.8 109.3h0M397.1 76.4h0M394.2 112.3h0M391.1 103.1h0M400.4 72.7h0M397.7 74.4h0M397.9 90.1h0M392.1 83.7h0M393.2 108.7h0M397.1 60.8h0M397.4 81.3h0M401.6 83.3h0M390.5 113.1h0M395.9 101.7h0M391.7 98.9h0M394.1 93.4h0M393.7 56.0h0M401.4 102.6h0M393.1 113.2h0M394.5 106.2h0M401.7 76.4h0M396.4 94.3h0M393.0 88.2h0M389.1 108.5h0M401.1 109.6h0M391.9 80.9h0M398.1 97.9h0M397.8 93.0h0M394.0 89.8h0M398.3 56.1h0M388.1 113.5h0M395.8 83.1h0M395.9 74.8h0M391.9 115.8h0M393.4 106.3h0M392.2 67.5h0M401.8 79.4h0M400.3 78.8h0M399.8 113.7h0M395.4 87.3h0M402.3 79.1h0M399.1 89.0h0M389.3 112.7h0M389.2 98.1h0M396.0 56.9h0M393.6 58.6h0M393.2 114.1h0M389.4 108.4h0M396.5 67.4h0M400.0 83.3h0M401.8 76.9h0M399.5 116.7h0M391.2 114.0h0M399.7 93.3h0M397.7 66.1h0M399.7 80.4h0M390.6 94.2h0M398.1 93.5h0M397.0 99.8h0M396.7 87.9h0M400.7 114.5h0M393.8 117.5h0M399.0 113.7h0M399.4 107.0h0M394.7 62.8h0M392.5 107.4h0M391.3 65.7h0M396.2 97.7h0M399.4 56.7h0M399.1 97.8h0M401.0 86.5h0M393.5 85.8h0M396.7 102.5h0M398.8 112.5h0M396.5 113.2h0M398.2 113.6h0M400.4 80.3h0M400.9 60.1h0M395.7 53.3h0M392.8 89.0h0M390.2 117.8h0M398.9 115.6h0M389.8 88.6h0M397.8 66.3h0M395.0 86.0h0M396.2 104.0h0" fill="none" stroke="#c6da68" stroke-width="1.20" stroke-linecap="round"/>
<path d="M360.9 114.2h0M356.3 108.7h0M358.5 112.7h0M359.9 107.9h0M358.6 116.1h0M361.0 112.0h0M357.7 106.5h0M360.7 111.5h0M358.6 103.0h0M354.1 113.4h0M355.7 113.6h0M356.0 109.3h0M360.6 117.0h0M358.3 103.6h0M355.5 116.6h0M355.1 97.4h0M355.6 114.1h0M355.6 113.8h0M360.5 115.1h0M359.7 112.9h0M361.6 114.3h0M361.1 114.3h0M358.7 111.0h0M355.6 108.5h0M356.0 115.6h0M354.6 110.8h0M356.1 112.9h0M355.1 113.9h0M358.7 103.7h0M357.0 97.6h0M354.3 110.7h0M360.0 110.6h0M353.9 105.9h0M357.9 113.3h0M357.7 102.2h0M357.1 110.0h0M361.7 116.3h0M359.5 108.5h0M355.0 112.9h0M358.2 117.8h0M360.9 114.5h0M359.4 116.3h0M355.6 107.3h0M358.0 116.4h0M357.3 115.2h0M358.5 104.2h0M357.3 112.6h0M361.6 115.6h0M354.3 104.0h0M357.5 107.4h0M357.6 117.6h0M357.4 109.0h0M359.8 105.8h0M354.0 100.6h0M357.2 107.8h0M355.3 110.4h0M355.7 109.8h0M354.7 101.1h0M357.4 113.9h0M356.5 110.4h0M357.9 107.7h0M359.3 113.2h0M357.3 101.1h0M356.3 111.9h0M359.5 104.3h0M354.2 115.3h0M358.2 104.5h0M357.5 112.6h0M355.5 113.0h0M358.6 112.8h0M358.7 112.1h0M354.9 108.7h0M357.2 98.6h0M354.3 117.0h0M354.8 103.1h0M354.2 115.8h0M354.8 102.0h0M354.4 104.1h0M358.2 113.4h0M354.3 115.5h0M355.8 117.6h0M354.9 96.9h0M356.2 99.3h0M354.6 113.5h0M355.0 114.9h0M357.4 112.8h0M358.3 112.5h0M355.0 117.1h0M356.1 111.9h0M358.2 105.0h0M357.2 116.5h0M358.8 106.4h0M353.9 108.0h0M354.8 117.0h0M358.2 112.0h0M357.7 116.3h0M356.0 113.9h0M356.3 116.3h0M357.9 110.6h0M359.4 105.1h0M354.0 112.1h0M356.8 106.8h0M358.9 107.3h0M357.3 115.3h0M359.7 108.5h0M360.1 107.3h0M355.7 98.7h0M358.0 116.3h0M359.1 111.3h0M357.7 102.6h0M361.4 113.7h0M358.6 112.4h0M358.4 110.3h0M358.5 106.9h0M357.1 105.5h0M356.2 104.6h0M354.9 117.4h0M356.7 111.9h0M356.2 109.0h0M356.2 102.3h0M357.5 113.5h0M354.9 114.9h0M360.2 117.7h0M354.4 109.6h0M354.6 112.1h0M357.0 103.5h0M358.7 105.7h0M356.8 116.9h0M356.1 110.0h0M356.3 98.7h0M355.4 107.3h0M357.9 102.1h0M354.6 99.6h0M356.8 112.7h0M359.3 105.4h0M358.6 117.5h0" fill="none" stroke="#c6da68" stroke-width="1.20" stroke-linecap="round"/>
<path d="M353.7,112.0 L354.8,124.0 L356.0,135.0 L357.5,140.0 L360.4,157.0 L363.0,165.0 L365.1,175.0 L367.3,183.0 L368.6,188.6 L369.9,195.0 L371.6,198.3 L382.9,198.3 L384.6,195.0 L384.6,188.6 L386.3,183.0 L388.9,175.0 L390.7,165.0 L393.0,157.0 L397.0,140.0 L398.1,135.0 L399.2,124.0 L400.4,112.0 L400.4,105.0 L389.4,105.0 L388.8,112.0 L388.3,124.0 L387.1,135.0 L385.8,140.0 L383.6,157.0 L382.9,165.0 L381.1,175.0 L378.5,183.0 L376.8,186.6 L375.1,183.0 L372.9,175.0 L370.8,165.0 L369.5,157.0 L367.1,140.0 L366.3,135.0 L364.0,124.0 L361.2,112.0Z" fill="#c6da68"/>
<path d="M367.7 137.0h0M385.9 134.9h0M385.1 144.7h0M386.9 132.6h0M359.2 152.7h0M360.9 106.7h0M401.1 120.5h0M364.2 124.1h0M365.0 127.2h0M393.3 167.7h0M361.5 163.4h0M388.1 125.0h0M379.0 179.7h0M385.1 195.2h0M354.4 133.1h0M366.9 182.2h0M371.0 163.3h0M352.7 109.8h0M389.6 178.2h0M365.7 127.4h0M402.8 108.4h0M355.2 133.9h0M396.5 142.3h0M382.8 161.1h0M358.5 149.5h0M353.5 116.9h0M369.7 149.8h0M402.0 104.1h0M388.6 113.9h0M364.4 175.8h0M360.0 166.8h0M391.3 166.6h0M370.9 163.9h0M353.0 113.0h0M386.2 137.4h0M369.1 153.6h0M399.1 132.0h0M386.3 183.8h0M379.7 176.4h0M362.4 111.4h0M366.5 131.2h0M358.7 152.2h0M391.3 177.2h0M355.3 130.8h0M367.7 136.0h0M403.3 114.9h0M366.2 133.0h0M384.0 149.8h0M371.8 167.3h0M387.7 183.6h0M399.5 126.6h0M374.1 177.7h0M369.0 193.5h0M379.0 178.6h0M385.5 139.8h0M401.2 108.7h0M382.6 165.2h0M379.8 178.3h0M353.5 101.0h0M362.2 175.6h0M388.4 115.2h0M400.1 127.0h0M380.4 175.9h0M398.1 147.2h0M398.8 135.3h0M395.4 154.6h0M398.2 151.3h0M371.8 169.3h0M365.7 182.4h0M375.3 179.9h0M389.1 107.4h0M365.8 131.2h0M385.0 188.2h0M369.5 154.2h0M400.5 133.6h0M361.5 112.0h0M362.8 112.2h0M369.2 193.0h0M354.5 121.5h0M369.0 151.2h0M382.3 165.4h0M381.4 171.3h0M372.3 169.3h0M359.6 103.9h0M358.9 159.8h0M389.2 182.8h0M358.4 147.4h0M367.2 195.5h0M359.4 100.6h0M402.4 110.9h0M399.1 132.8h0M401.2 117.1h0M395.0 157.2h0M390.5 171.1h0M364.5 190.9h0M398.9 151.9h0M353.5 124.6h0M369.3 154.4h0M396.7 156.0h0M400.3 124.9h0M359.6 101.8h0M386.7 135.6h0M388.1 123.0h0M368.1 189.3h0M371.5 167.6h0M384.3 196.8h0M400.0 144.5h0M369.1 151.7h0M394.9 150.3h0M375.9 181.8h0M394.8 154.2h0M388.1 102.4h0M358.5 155.8h0M363.0 118.0h0M369.9 157.4h0M363.9 169.2h0M401.5 124.8h0M351.3 116.9h0M381.3 173.2h0M357.6 141.9h0M393.2 157.0h0M362.8 167.4h0M364.2 121.6h0M365.4 130.6h0M362.3 115.7h0M364.2 177.2h0M387.3 109.8h0M388.4 110.2h0M371.6 165.0h0M373.4 173.6h0M384.4 145.8h0M363.1 118.1h0M396.2 153.3h0M355.6 131.9h0M383.2 161.2h0M364.3 119.7h0M369.4 195.5h0M380.7 172.3h0M359.4 103.5h0M389.2 102.6h0M375.5 183.0h0M400.6 125.5h0M352.1 100.4h0M355.6 148.6h0M387.6 129.0h0M373.4 175.6h0M370.9 150.8h0M386.7 189.1h0M381.6 171.4h0M379.1 180.6h0M370.4 161.2h0M355.4 151.6h0M367.9 133.0h0M387.0 187.6h0M359.7 100.4h0M389.6 178.5h0M364.8 176.8h0M386.8 181.7h0M358.6 150.1h0M354.9 131.5h0M396.4 156.4h0M389.6 175.1h0M364.5 172.8h0M365.8 131.5h0M357.8 142.2h0M373.7 174.4h0M385.3 140.1h0M402.2 130.0h0M380.9 171.5h0M352.4 107.5h0M352.7 130.2h0M381.4 170.9h0M388.0 120.0h0M387.4 122.1h0M367.8 138.3h0M394.6 161.3h0M362.6 116.7h0M387.7 129.3h0M397.7 146.7h0M394.3 156.8h0M353.0 135.5h0M353.3 112.3h0M388.3 121.6h0M358.6 147.9h0M364.2 125.1h0M354.8 125.2h0M366.0 131.5h0M401.7 101.9h0M372.8 171.6h0M400.3 119.9h0M384.4 148.6h0M361.9 111.4h0M382.4 161.0h0M353.1 136.7h0M386.4 183.9h0M401.2 107.4h0M401.1 119.4h0M390.6 179.4h0M386.9 125.2h0M362.5 165.3h0M365.2 177.3h0M362.2 113.2h0M396.4 150.9h0M363.6 173.0h0M354.5 123.5h0M361.1 107.5h0M352.0 108.5h0M383.2 157.4h0M383.8 154.9h0M400.6 107.8h0M369.8 151.4h0M387.8 181.4h0M380.9 174.6h0M387.1 193.1h0M363.1 173.7h0M400.2 122.4h0M387.6 121.5h0M382.2 168.5h0M384.5 196.0h0M371.4 164.9h0M384.9 145.6h0M354.8 129.9h0M362.3 116.7h0M386.5 133.8h0M353.5 113.0h0M394.0 154.3h0M386.8 131.0h0M396.1 147.8h0M363.1 120.0h0M367.7 138.7h0M393.7 155.8h0M382.8 162.3h0M401.9 103.5h0M383.1 151.8h0M386.2 136.3h0M399.8 127.5h0M367.1 186.7h0M364.9 126.3h0M399.7 120.4h0M360.5 107.3h0M362.9 176.9h0M354.3 125.0h0M400.0 115.9h0M394.5 155.7h0M356.8 145.5h0M399.4 125.6h0M394.5 159.1h0M352.9 116.0h0M388.0 113.3h0M357.5 145.6h0M381.5 169.7h0M387.8 191.1h0M368.7 195.5h0M387.6 124.9h0M363.7 187.8h0M362.2 110.2h0M362.8 118.0h0M369.5 195.5h0M372.7 172.8h0M367.9 189.8h0M352.8 104.6h0M361.0 107.4h0M363.7 169.5h0M383.6 150.0h0M368.2 143.3h0M379.0 180.6h0M360.0 105.1h0M395.2 161.7h0M401.1 112.1h0M373.8 173.9h0M353.6 111.5h0M387.7 112.6h0M351.2 101.0h0M404.0 110.8h0M383.4 158.8h0M380.7 174.8h0M361.6 163.3h0M361.1 110.4h0M400.3 134.6h0M357.0 156.4h0M367.0 135.7h0M394.0 156.0h0M369.8 156.5h0M384.1 145.9h0M387.5 130.5h0M374.6 179.6h0M387.7 124.8h0M359.3 151.7h0M367.1 134.5h0M388.2 181.2h0M389.0 106.9h0M401.2 102.4h0M384.8 142.8h0M362.3 115.5h0M357.7 156.8h0M364.4 121.1h0M393.8 155.6h0M395.9 153.8h0M364.9 127.3h0M388.5 119.2h0M369.6 149.4h0M352.4 108.5h0M381.8 168.0h0M360.2 103.5h0M378.7 181.0h0M387.2 116.0h0M393.0 162.6h0M360.7 108.5h0M401.7 114.0h0M361.6 168.3h0M366.7 185.0h0M355.2 132.2h0M356.9 145.0h0M387.0 187.8h0M404.5 107.3h0M357.7 147.7h0M361.5 168.3h0M387.2 131.7h0M365.4 126.7h0M362.8 169.3h0M360.9 163.8h0M399.3 126.3h0M352.3 129.6h0M395.4 147.2h0M382.1 168.2h0M384.4 146.8h0M363.4 167.5h0M400.6 130.1h0M372.0 168.9h0M385.8 137.3h0M400.7 103.8h0M401.8 127.4h0M383.0 163.2h0M378.5 180.9h0M389.2 173.4h0M354.2 135.1h0M376.6 184.9h0M367.7 185.3h0M386.2 134.7h0M354.5 125.1h0M372.4 165.0h0M358.7 149.9h0M395.5 148.7h0M373.0 174.0h0M404.6 105.1h0M364.8 183.0h0M367.1 137.7h0M382.3 159.0h0M352.8 131.7h0M380.8 175.5h0M401.0 107.4h0M366.9 135.3h0M361.7 161.6h0M383.2 154.4h0M387.1 194.0h0M388.8 176.7h0M389.5 180.0h0M382.9 161.0h0M399.9 131.6h0M373.4 175.8h0M359.9 106.0h0M401.6 107.5h0M377.9 182.9h0M372.1 161.2h0M387.5 126.9h0M357.3 146.4h0M374.3 177.5h0M402.9 105.7h0M388.1 104.4h0M362.9 114.2h0M368.0 142.2h0M385.7 139.0h0M349.9 118.5h0M369.0 153.2h0M371.2 165.6h0M369.0 151.7h0M371.0 165.0h0M384.6 144.3h0M381.7 169.7h0M353.4 110.9h0M353.4 117.8h0M367.1 188.1h0M353.1 123.8h0M370.3 156.1h0M378.9 178.6h0M371.1 163.7h0M361.3 108.9h0M361.4 162.0h0M390.1 175.1h0M369.0 149.8h0M353.6 120.4h0M386.6 192.8h0M386.0 184.8h0M400.7 112.6h0M377.0 184.8h0M356.4 141.2h0M370.1 153.2h0M395.8 155.7h0M387.6 128.5h0M387.0 120.3h0M369.9 153.8h0M395.5 150.7h0M353.3 119.7h0M387.0 122.5h0M353.2 103.1h0M361.9 110.9h0M358.4 149.0h0M376.9 185.6h0M401.0 118.1h0M375.5 181.6h0M353.0 119.4h0M364.0 171.3h0M353.6 102.1h0M381.9 163.4h0M359.2 150.6h0M374.7 181.0h0M364.2 121.0h0M387.9 121.2h0M387.7 116.8h0M372.2 166.2h0M380.3 174.1h0M403.4 125.4h0M399.2 132.8h0M391.2 165.9h0M399.2 138.3h0M382.9 163.5h0M359.1 101.3h0M403.6 109.4h0M352.6 121.8h0M380.5 173.1h0M395.1 153.6h0M383.8 149.2h0M363.0 166.9h0M390.5 167.2h0M353.7 134.3h0M387.9 109.0h0M387.5 117.8h0M374.1 178.3h0M387.0 132.5h0M372.5 170.5h0M368.3 138.0h0M363.7 121.7h0M371.4 164.2h0M401.0 101.2h0M367.3 193.0h0M351.7 106.2h0M356.4 150.2h0M387.7 126.3h0M387.6 122.6h0M360.9 162.8h0M369.0 153.2h0M353.3 117.8h0M361.3 106.1h0M365.4 127.4h0M391.1 172.2h0M387.3 126.9h0M383.7 151.5h0M400.8 116.3h0M387.8 182.4h0M402.3 135.6h0M353.3 119.5h0M364.9 173.9h0M361.3 112.0h0M361.1 108.2h0M397.6 147.8h0M363.7 181.8h0M383.0 154.8h0M362.3 116.5h0M370.4 159.6h0M381.0 174.5h0M378.5 182.2h0M361.2 161.3h0M381.2 170.0h0M361.6 113.6h0M383.1 161.3h0M372.6 169.3h0M364.3 172.7h0M369.0 149.5h0M353.7 120.0h0M387.2 126.1h0M401.1 100.8h0M368.8 150.3h0M371.8 165.1h0M401.8 107.1h0M376.8 185.8h0M364.4 185.5h0M365.9 181.2h0M398.4 145.2h0M390.2 177.9h0M381.5 171.3h0M367.5 138.8h0M399.1 125.3h0M378.4 182.1h0M382.9 155.6h0M359.3 100.7h0M358.2 145.3h0M402.3 124.7h0M388.8 177.4h0M400.5 124.9h0M361.8 166.0h0M400.5 110.3h0M399.7 124.2h0M372.1 168.9h0M357.8 151.1h0M382.5 156.3h0M354.4 133.0h0M357.4 154.6h0M364.1 123.4h0M358.1 143.6h0M368.0 186.2h0M386.2 130.6h0M402.3 125.2h0M365.7 130.1h0M376.2 185.6h0M400.2 117.7h0M365.0 182.4h0M393.2 158.0h0M361.1 106.1h0M387.4 126.1h0M383.7 152.2h0M401.5 110.9h0M366.2 189.2h0M389.1 183.8h0M358.4 148.7h0M364.3 124.6h0M361.6 111.9h0M351.1 108.8h0M365.9 185.3h0M388.8 178.0h0M365.1 179.5h0M401.2 104.5h0M360.8 173.2h0M388.3 109.2h0M360.9 165.2h0M356.8 146.2h0M381.7 167.0h0M400.8 105.9h0M370.5 157.3h0M381.2 173.3h0M352.4 120.7h0M394.8 150.5h0M384.1 149.3h0M370.6 156.2h0M377.3 185.5h0M380.3 176.1h0M365.8 130.4h0M369.5 147.6h0M386.8 136.0h0M365.7 189.7h0M401.1 136.4h0M374.6 178.0h0M368.3 140.3h0M383.8 145.0h0M362.5 174.3h0M355.7 135.8h0M363.1 117.2h0M388.3 112.8h0M371.4 166.5h0M400.6 102.3h0M366.6 128.5h0M361.0 167.5h0M359.2 153.2h0M365.2 127.5h0M360.4 157.4h0M351.4 117.4h0M389.0 103.8h0M400.5 116.9h0M373.8 176.6h0M361.7 113.6h0M365.4 178.1h0M374.5 177.4h0M353.3 104.1h0M362.8 174.1h0M353.5 127.1h0M387.7 115.0h0M359.5 103.8h0M380.7 169.7h0M352.6 119.1h0M402.6 100.9h0M395.1 150.0h0M369.0 153.1h0M365.9 132.5h0M390.9 172.5h0M397.5 144.3h0M390.9 172.2h0M354.4 137.6h0M370.8 163.4h0M387.5 111.0h0M393.0 164.3h0M397.4 155.3h0M381.7 156.3h0M353.5 118.4h0M372.0 164.7h0M397.8 147.2h0M403.5 108.7h0M389.4 101.3h0M385.7 140.6h0M364.4 184.1h0M400.6 111.3h0M363.8 121.3h0M394.2 168.6h0M384.9 141.4h0M359.1 100.0h0M365.9 178.4h0M387.6 129.1h0M388.9 110.7h0M355.6 139.3h0M370.7 197.0h0M349.9 117.5h0M363.8 175.4h0M370.1 152.3h0M369.9 158.6h0M384.7 142.4h0M361.2 108.7h0M379.8 178.8h0M386.2 137.0h0M351.3 101.5h0M362.4 117.0h0M367.4 185.0h0M387.2 192.2h0M366.8 183.0h0M362.6 175.3h0M388.2 108.1h0M387.8 117.4h0M372.7 165.3h0M367.4 140.6h0M354.6 127.1h0M386.7 187.1h0M371.7 169.0h0M400.9 130.2h0M389.0 104.1h0M395.6 152.6h0M383.8 151.0h0M402.7 119.2h0M381.9 167.4h0M352.2 106.1h0M388.7 105.8h0M352.0 122.1h0M388.3 101.3h0M369.5 156.5h0M387.1 134.1h0M400.2 132.5h0M390.7 178.6h0M368.4 147.7h0M353.8 121.8h0M370.0 147.7h0M367.5 139.4h0M401.5 110.2h0M367.6 185.1h0M363.2 118.7h0M399.0 125.9h0M399.7 132.6h0M398.8 130.1h0M387.3 109.9h0M362.8 178.2h0M357.7 146.9h0M381.4 171.3h0M363.0 112.7h0M373.2 173.2h0M385.0 193.2h0M387.9 118.6h0M383.4 157.7h0M386.6 130.5h0M368.3 192.1h0M372.4 172.5h0M378.0 181.4h0M393.4 157.8h0M375.1 177.9h0M402.9 106.2h0M381.2 172.3h0M354.5 121.6h0M387.9 112.1h0M365.1 125.7h0M391.1 172.6h0M368.1 142.4h0M389.4 175.5h0M387.7 128.9h0M390.7 166.5h0M398.7 132.0h0M390.7 173.7h0M401.6 113.6h0M386.4 136.6h0M369.7 151.1h0M381.7 169.6h0M398.3 138.5h0M389.6 101.8h0M359.2 150.7h0M400.5 103.5h0M366.8 185.9h0M395.9 152.2h0M393.2 162.2h0M404.0 111.3h0M399.7 131.0h0M374.5 173.3h0M396.6 150.8h0M383.5 155.1h0M387.2 133.2h0M392.3 166.1h0M385.4 135.8h0M364.6 126.2h0M385.0 138.1h0M382.8 148.8h0M355.7 140.0h0M402.0 108.8h0M370.1 156.9h0M387.2 132.7h0M362.5 116.9h0M381.6 166.7h0M380.5 172.8h0M396.7 146.9h0M361.3 163.1h0M375.2 180.0h0M355.7 136.1h0M381.9 167.1h0M386.5 128.5h0M366.9 195.3h0M353.2 121.8h0M391.1 165.4h0M352.5 106.9h0M361.9 113.0h0M384.9 135.3h0M385.2 140.8h0M387.5 112.8h0M351.3 113.6h0M360.7 160.0h0M389.6 171.5h0M389.7 171.1h0M370.7 160.2h0M401.2 121.4h0M387.2 130.1h0M398.2 140.9h0M385.5 194.2h0M387.8 189.2h0M369.7 151.6h0M355.8 134.5h0M398.2 134.9h0M382.5 165.3h0M387.1 180.6h0M384.7 146.3h0M368.8 146.1h0M381.0 171.4h0M385.5 136.4h0M400.6 136.6h0M367.1 137.0h0M384.6 142.0h0M368.4 190.1h0M389.9 169.7h0M355.4 140.9h0M361.1 170.0h0M384.1 148.4h0M397.5 144.4h0M392.8 160.8h0M373.1 174.8h0M383.5 157.9h0M371.6 165.8h0M374.8 175.9h0M350.4 127.2h0M367.8 135.2h0M367.7 135.6h0M402.3 105.9h0M380.1 176.7h0M390.2 174.2h0M366.7 137.0h0M378.0 182.6h0M385.3 143.4h0M387.1 134.7h0M388.3 117.9h0M372.8 171.8h0M381.5 172.0h0M378.8 181.8h0M382.0 156.3h0M401.7 100.9h0M371.4 159.8h0M358.6 157.9h0M371.4 160.5h0M401.8 112.8h0M365.7 130.1h0M388.0 126.0h0M368.7 191.2h0M371.1 162.1h0M360.7 165.0h0M363.4 170.2h0M387.7 104.7h0M361.8 167.0h0M356.0 139.7h0M386.5 185.1h0M380.6 173.1h0M371.1 163.6h0M397.9 138.6h0M392.3 165.9h0M366.4 133.4h0M398.9 134.4h0M362.9 118.2h0M362.8 175.0h0M357.1 147.2h0M352.4 121.5h0M366.4 129.4h0M374.4 176.8h0M354.0 144.4h0M361.0 108.9h0M400.4 119.0h0M388.5 105.0h0M395.2 149.9h0M365.6 125.5h0M358.1 158.0h0M368.7 147.9h0M389.1 107.5h0M388.6 109.6h0M400.0 145.6h0M377.1 184.6h0M382.8 152.0h0M391.1 168.4h0M387.2 124.5h0M401.1 101.6h0M356.7 143.5h0M380.9 171.8h0M393.5 160.4h0M388.4 115.9h0M353.8 121.3h0M369.2 152.4h0M357.0 145.1h0M353.5 108.9h0M362.3 114.6h0M387.9 115.9h0M377.9 185.0h0M388.2 108.2h0M372.9 173.4h0M390.5 169.9h0M387.1 187.0h0M375.3 182.3h0M354.6 124.8h0M398.9 134.2h0M361.6 110.2h0M403.0 128.2h0M352.7 126.2h0M367.7 187.2h0M401.2 127.5h0M400.7 141.6h0M382.4 167.1h0M390.7 166.7h0" fill="none" stroke="#c6da68" stroke-width="1.20" stroke-linecap="round"/>
<path d="M407.5 53.8h0M406.5 118.9h0M406.8 162.9h0M409.3 184.4h0M411.9 102.1h0M407.5 101.8h0M410.9 164.9h0M413.1 87.1h0M406.2 136.4h0M411.5 133.9h0M412.4 157.8h0M411.0 159.1h0M407.0 177.2h0M411.3 53.7h0M407.3 133.0h0M408.4 175.9h0M408.2 110.5h0M410.0 176.3h0M408.4 169.4h0M411.8 122.5h0M413.6 168.1h0M412.0 119.1h0M406.4 72.0h0M411.2 57.0h0M411.1 90.3h0M409.1 159.3h0M412.7 148.4h0M409.6 117.7h0M413.9 174.3h0M410.9 51.4h0M413.2 46.6h0M406.9 135.5h0M407.6 149.3h0M411.5 64.0h0M413.3 184.7h0M411.3 182.4h0M412.4 108.6h0M412.6 176.1h0M411.6 52.1h0M409.0 142.1h0M408.9 64.2h0M409.6 60.4h0M409.8 54.4h0M411.8 70.9h0M413.5 55.5h0M411.1 133.3h0M407.6 130.9h0M410.4 129.3h0M407.5 109.1h0M412.7 129.6h0M407.9 88.4h0M413.0 47.7h0M409.8 114.4h0M409.4 40.4h0M406.9 162.1h0M409.6 82.3h0M409.6 47.6h0M406.7 160.2h0M412.1 68.6h0M408.5 51.1h0M408.5 115.6h0M412.0 113.4h0M412.8 184.7h0M410.5 46.3h0M407.1 137.5h0M407.0 170.4h0M406.4 48.0h0M414.0 99.0h0M410.4 126.4h0M406.9 88.7h0M409.0 147.0h0M412.3 140.7h0M407.4 106.9h0M413.3 65.3h0M408.8 129.3h0M414.0 43.7h0M411.5 106.9h0M410.2 161.9h0M406.8 126.7h0M408.5 149.5h0M411.7 100.3h0M407.2 150.9h0M411.6 121.7h0M412.0 177.6h0M408.0 140.0h0M412.5 78.6h0M413.2 85.5h0M413.6 124.4h0M413.8 168.2h0M412.3 93.7h0" fill="none" stroke="#c9e3f2" stroke-width="1.20" stroke-linecap="round"/>
<line x1="350.8" y1="36.7" x2="350.8" y2="206.2" stroke="#1a1a1a" stroke-width="1.0"/>
<line x1="405.2" y1="36.7" x2="405.2" y2="206.2" stroke="#1a1a1a" stroke-width="1.0"/>
<line x1="321.6" y1="188.6" x2="365.0" y2="188.6" stroke="#1a1a1a" stroke-width="1.0"/>
<line x1="365.0" y1="188.6" x2="389.0" y2="188.6" stroke="#1a1a1a" stroke-width="1.0" stroke-dasharray="3,2"/>
<line x1="389.0" y1="188.6" x2="452.6" y2="188.6" stroke="#1a1a1a" stroke-width="1.0"/>
<path d="M407.3 56.1h0M416.2 56.1h0M418.5 62.3h0M406.7 67.3h0M408.4 76.8h0M407.8 87.5h0M409.5 89.7h0M412.9 88.0h0M411.7 94.7h0M407.8 107.0h0M412.3 107.0h0M406.5 46.0h0M409.5 52.0h0M406.2 72.0h0M410.5 82.0h0M407.5 98.0h0M406.8 113.0h0M413.0 117.0h0M409.2 121.0h0M406.5 127.0h0M411.0 125.0h0M417.0 128.5h0M406.3 137.0h0M408.5 146.0h0M414.5 152.0h0M407.3 156.0h0M406.5 168.0h0M410.5 171.0h0M418.5 181.0h0M412.5 115.5h0M421.0 136.0h0M419.0 84.0h0M406.0 93.0h0M406.5 150.0h0M410.0 160.0h0M415.0 143.0h0" fill="none" stroke="#3a98d4" stroke-width="1.90" stroke-linecap="round"/>
<path d="M422.9 57.3h0M426.0 63.4h0M435.8 75.7h0M442.0 106.0h0M442.5 140.0h0M423.0 171.0h0M420.0 189.5h0M426.0 191.5h0M436.0 121.0h0M331.0 122.0h0M336.0 100.0h0M345.0 139.0h0M336.0 182.0h0M352.8 165.0h0M342.0 192.0h0M414.0 193.0h0M430.0 178.0h0" fill="none" stroke="#a8a8a8" stroke-width="1.20" stroke-linecap="round"/>
<text x="410.0" y="46.9" font-size="6.4" text-anchor="start" textLength="16.6" lengthAdjust="spacingAndGlyphs" fill="#333" stroke="#333" stroke-width="0.18">CES2</text>
<text x="424.0" y="60.0" font-size="6.4" text-anchor="start" textLength="31.8" lengthAdjust="spacingAndGlyphs" fill="#333" stroke="#333" stroke-width="0.18">SELENBP1</text>
<text x="413.8" y="71.8" font-size="6.4" text-anchor="start" textLength="19.2" lengthAdjust="spacingAndGlyphs" fill="#333" stroke="#333" stroke-width="0.18">KRT19</text>
<text x="437.7" y="78.2" font-size="6.4" text-anchor="start" textLength="19.5" lengthAdjust="spacingAndGlyphs" fill="#333" stroke="#333" stroke-width="0.18">FABP1</text>
<text x="422.3" y="86.6" font-size="6.4" text-anchor="start" textLength="20.3" lengthAdjust="spacingAndGlyphs" fill="#333" stroke="#333" stroke-width="0.18">FXYD3</text>
<text x="421.5" y="94.3" font-size="6.4" text-anchor="start" textLength="23.4" lengthAdjust="spacingAndGlyphs" fill="#333" stroke="#333" stroke-width="0.18">LGALS4</text>
<text x="420.8" y="118.5" font-size="6.4" text-anchor="start" textLength="19.0" lengthAdjust="spacingAndGlyphs" fill="#333" stroke="#333" stroke-width="0.18">KRT20</text>
<text x="433.2" y="131.4" font-size="6.4" text-anchor="start" textLength="12.4" lengthAdjust="spacingAndGlyphs" fill="#333" stroke="#333" stroke-width="0.18">CA1</text>
<text x="410.2" y="143.8" font-size="6.4" text-anchor="start" textLength="27.3" lengthAdjust="spacingAndGlyphs" fill="#333" stroke="#333" stroke-width="0.18">GUCA2A</text>
<text x="419.0" y="166.9" font-size="6.4" text-anchor="start" textLength="27.2" lengthAdjust="spacingAndGlyphs" fill="#333" stroke="#333" stroke-width="0.18">SLC26A2</text>
<text x="330.0" y="99.2" font-size="6.4" text-anchor="start" textLength="18.5" lengthAdjust="spacingAndGlyphs" fill="#333" stroke="#333" stroke-width="0.18">L1TD1</text>
<text x="325.0" y="115.0" font-size="6.4" text-anchor="start" textLength="24.2" lengthAdjust="spacingAndGlyphs" fill="#333" stroke="#333" stroke-width="0.18">RETNLB</text>
<text x="325.0" y="125.8" font-size="6.4" text-anchor="start" textLength="22.0" lengthAdjust="spacingAndGlyphs" fill="#333" stroke="#333" stroke-width="0.18">SPINK4</text>
<text x="321.5" y="137.2" font-size="6.4" text-anchor="start" textLength="18.5" lengthAdjust="spacingAndGlyphs" fill="#333" stroke="#333" stroke-width="0.18">CCL24</text>
<text x="323.5" y="155.4" font-size="6.4" text-anchor="start" textLength="20.3" lengthAdjust="spacingAndGlyphs" fill="#333" stroke="#333" stroke-width="0.18">REG3A</text>
<text x="326.6" y="170.5" font-size="6.4" text-anchor="start" textLength="22.2" lengthAdjust="spacingAndGlyphs" fill="#333" stroke="#333" stroke-width="0.18">REG3G</text>
<text x="325.7" y="195.7" font-size="6.4" text-anchor="start" textLength="27.7" lengthAdjust="spacingAndGlyphs" fill="#333" stroke="#333" stroke-width="0.18">SINHCAF</text>
<line x1="414.6" y1="48.2" x2="410.0" y2="66.9" stroke="#333" stroke-width="0.6"/>
<line x1="420.8" y1="73.8" x2="414.6" y2="81.0" stroke="#333" stroke-width="0.6"/>
<line x1="412.8" y1="84.6" x2="421.5" y2="84.6" stroke="#333" stroke-width="0.6"/>
<line x1="413.0" y1="87.7" x2="420.8" y2="91.5" stroke="#333" stroke-width="0.6"/>
<line x1="420.2" y1="106.3" x2="430.2" y2="113.3" stroke="#333" stroke-width="0.6"/>
<line x1="424.2" y1="145.6" x2="434.0" y2="153.1" stroke="#333" stroke-width="0.6"/>
<line x1="413.6" y1="158.8" x2="418.5" y2="163.5" stroke="#333" stroke-width="0.6"/>
<line x1="338.5" y1="99.6" x2="338.5" y2="101.8" stroke="#333" stroke-width="0.6"/>
<line x1="327.7" y1="130.0" x2="332.3" y2="126.9" stroke="#333" stroke-width="0.6"/>
<line x1="338.5" y1="140.0" x2="333.4" y2="148.5" stroke="#333" stroke-width="0.6"/>
<line x1="344.2" y1="139.2" x2="345.4" y2="166.0" stroke="#333" stroke-width="0.6"/>
<path d="M422.6 57.7h0M435.8 75.8h0M342.3 132.3h0M446.8 129.5h0" fill="none" stroke="#555" stroke-width="1.00" stroke-linecap="round"/>
<line x1="321.6" y1="36.7" x2="321.6" y2="206.7" stroke="#1a1a1a" stroke-width="1.1"/>
<line x1="321.1" y1="206.2" x2="452.6" y2="206.2" stroke="#1a1a1a" stroke-width="1.1"/>
<line x1="318.6" y1="47.8" x2="321.6" y2="47.8" stroke="#333" stroke-width="1.0"/>
<text x="307.9" y="50.0" font-size="6.5" text-anchor="start" textLength="7.3" lengthAdjust="spacingAndGlyphs" fill="#303030" stroke="#303030" stroke-width="0.18">20</text>
<line x1="318.6" y1="85.3" x2="321.6" y2="85.3" stroke="#333" stroke-width="1.0"/>
<text x="308.2" y="87.5" font-size="6.5" text-anchor="start" textLength="7.0" lengthAdjust="spacingAndGlyphs" fill="#303030" stroke="#303030" stroke-width="0.18">15</text>
<line x1="318.6" y1="122.8" x2="321.6" y2="122.8" stroke="#333" stroke-width="1.0"/>
<text x="307.9" y="125.0" font-size="6.5" text-anchor="start" textLength="7.3" lengthAdjust="spacingAndGlyphs" fill="#303030" stroke="#303030" stroke-width="0.18">10</text>
<line x1="318.6" y1="160.3" x2="321.6" y2="160.3" stroke="#333" stroke-width="1.0"/>
<text x="311.6" y="162.5" font-size="6.5" text-anchor="start" textLength="3.6" lengthAdjust="spacingAndGlyphs" fill="#303030" stroke="#303030" stroke-width="0.18">5</text>
<line x1="318.6" y1="197.7" x2="321.6" y2="197.7" stroke="#333" stroke-width="1.0"/>
<text x="311.4" y="199.9" font-size="6.5" text-anchor="start" textLength="3.8" lengthAdjust="spacingAndGlyphs" fill="#303030" stroke="#303030" stroke-width="0.18">0</text>
<line x1="324.0" y1="206.2" x2="324.0" y2="208.8" stroke="#333" stroke-width="1.0"/>
<text x="320.5" y="217.8" font-size="6.4" text-anchor="start" textLength="7.0" lengthAdjust="spacingAndGlyphs" fill="#303030" stroke="#303030" stroke-width="0.18">−2</text>
<line x1="351.0" y1="206.2" x2="351.0" y2="208.8" stroke="#333" stroke-width="1.0"/>
<text x="347.7" y="217.8" font-size="6.4" text-anchor="start" textLength="6.6" lengthAdjust="spacingAndGlyphs" fill="#303030" stroke="#303030" stroke-width="0.18">−1</text>
<line x1="377.8" y1="206.2" x2="377.8" y2="208.8" stroke="#333" stroke-width="1.0"/>
<text x="375.9" y="217.8" font-size="6.4" text-anchor="start" textLength="3.8" lengthAdjust="spacingAndGlyphs" fill="#303030" stroke="#303030" stroke-width="0.18">0</text>
<line x1="404.9" y1="206.2" x2="404.9" y2="208.8" stroke="#333" stroke-width="1.0"/>
<text x="403.5" y="217.8" font-size="6.4" text-anchor="start" textLength="2.8" lengthAdjust="spacingAndGlyphs" fill="#303030" stroke="#303030" stroke-width="0.18">1</text>
<line x1="432.0" y1="206.2" x2="432.0" y2="208.8" stroke="#333" stroke-width="1.0"/>
<text x="430.1" y="217.8" font-size="6.4" text-anchor="start" textLength="3.8" lengthAdjust="spacingAndGlyphs" fill="#303030" stroke="#303030" stroke-width="0.18">2</text>
<text transform="translate(302.6,120.8) rotate(-90)" x="0" y="0" font-size="8.2" text-anchor="middle" textLength="42.4" lengthAdjust="spacingAndGlyphs" fill="#444">−log10(padj)</text>
<text x="381.8" y="230.8" font-size="9.0" text-anchor="start" textLength="10.4" lengthAdjust="spacingAndGlyphs" fill="#303030" stroke="#303030" stroke-width="0.18">LFC</text>
<text x="453.0" y="111.6" font-size="6.8" text-anchor="start" textLength="22.7" lengthAdjust="spacingAndGlyphs" fill="#262626" stroke="#262626" stroke-width="0.18">Delabel</text>
<circle cx="455.4" cy="117.8" r="2.1" fill="#2e9bd6"/>
<text x="461.5" y="119.9" font-size="6.4" text-anchor="start" textLength="10.8" lengthAdjust="spacingAndGlyphs" fill="#262626" stroke="#262626" stroke-width="0.18">EC1</text>
<circle cx="455.4" cy="125.2" r="2.1" fill="#ec8a3a"/>
<text x="461.5" y="127.3" font-size="6.4" text-anchor="start" textLength="10.8" lengthAdjust="spacingAndGlyphs" fill="#262626" stroke="#262626" stroke-width="0.18">EC2</text>
<circle cx="455.4" cy="132.7" r="2.1" fill="#a9c760"/>
<text x="461.5" y="134.8" font-size="6.4" text-anchor="start" textLength="52.7" lengthAdjust="spacingAndGlyphs" fill="#262626" stroke="#262626" stroke-width="0.18">Epithelium.Not.Sig</text>
<path d="M373.5 498.6h0M364.7 494.1h0M348.7 505.2h0M350.5 480.8h0M358.5 515.7h0M361.3 507.9h0M346.2 484.9h0M357.9 540.1h0M375.0 490.0h0M371.1 537.9h0M373.3 492.2h0M349.8 479.5h0M362.4 539.6h0M364.6 521.1h0M353.7 490.4h0M374.7 496.9h0M352.7 459.2h0M368.7 470.5h0M347.9 473.8h0M347.5 513.6h0M373.3 480.5h0M348.2 477.2h0M353.5 525.1h0M351.9 503.4h0M358.3 529.3h0M365.3 487.0h0M367.1 491.1h0M364.1 469.4h0M357.4 546.1h0M355.0 507.8h0M349.9 543.6h0M371.4 471.2h0M353.3 529.9h0M372.6 523.2h0M350.3 467.0h0M360.9 546.1h0M368.3 461.6h0M351.0 523.5h0M372.8 478.5h0M350.2 546.8h0M359.7 535.7h0M346.6 501.8h0M369.3 474.0h0M364.3 543.5h0M355.4 554.2h0M358.1 506.6h0M367.2 465.9h0M348.4 490.5h0M371.9 468.2h0M365.7 458.6h0M347.2 473.6h0M362.4 502.0h0M363.6 510.9h0M355.3 487.7h0M349.6 532.3h0M368.3 487.9h0M362.1 491.4h0M360.2 518.7h0M365.4 494.2h0M353.8 506.2h0M356.4 491.4h0M363.2 523.4h0M356.9 499.5h0M364.3 488.9h0M358.8 507.5h0M370.3 488.8h0M375.9 486.2h0M366.9 523.5h0M359.0 515.6h0M363.4 517.9h0M362.3 530.9h0M365.8 555.1h0M362.5 539.0h0M365.7 551.3h0M361.9 496.1h0M365.1 544.2h0M361.3 499.4h0M352.6 492.4h0M375.4 487.5h0M345.4 493.5h0M355.5 538.6h0M342.0 453.2h0M353.9 544.9h0M364.3 500.2h0M374.2 518.4h0M343.4 459.9h0M344.2 480.7h0M360.1 535.6h0M357.4 536.3h0M369.3 512.2h0M358.6 514.0h0M353.2 506.6h0M354.5 500.0h0M357.2 538.4h0M363.4 492.9h0M368.8 503.6h0M352.7 485.0h0M370.5 467.6h0M362.5 526.6h0M360.3 529.3h0M358.5 526.3h0M361.9 524.0h0M354.5 496.5h0M368.0 466.0h0M350.9 544.1h0M353.2 512.6h0M373.3 471.2h0M348.9 522.7h0M356.8 511.8h0M372.7 508.0h0M366.5 519.5h0M352.1 480.8h0M366.4 520.6h0M366.9 498.2h0M373.8 464.8h0M362.9 545.0h0M348.0 466.5h0M365.4 491.1h0M353.8 552.9h0M359.8 538.0h0M349.1 479.0h0M376.1 476.1h0M349.7 548.0h0M369.6 496.7h0M365.8 551.8h0M344.2 477.7h0M366.4 491.7h0M375.6 469.6h0M353.8 518.4h0M368.7 474.3h0M365.7 497.0h0M365.8 497.6h0M365.3 507.2h0M359.1 516.7h0M368.8 509.0h0M350.4 523.9h0M344.9 488.5h0M364.6 531.5h0M350.2 524.7h0M361.0 526.0h0M373.8 503.9h0M350.6 493.3h0M359.3 531.6h0M363.6 555.1h0M357.0 528.7h0M376.6 494.6h0M361.2 510.2h0M363.5 509.9h0M359.3 532.1h0M373.7 479.9h0M371.3 453.4h0M349.6 475.9h0M349.5 528.6h0M368.5 474.5h0M363.0 530.9h0M355.5 512.5h0M357.1 518.6h0M371.0 464.7h0M359.8 547.7h0M363.5 527.6h0M368.8 523.4h0M375.7 473.1h0M376.6 496.0h0M347.4 486.5h0M349.2 501.9h0M357.4 527.6h0M365.4 493.2h0M346.3 500.7h0M353.4 541.6h0M357.3 549.1h0M352.3 464.9h0M370.4 537.4h0M344.6 474.5h0M364.3 519.0h0M357.1 525.5h0M355.0 494.2h0M373.7 469.5h0M348.1 496.3h0M368.6 464.8h0M350.5 509.7h0M369.3 467.3h0M365.6 466.2h0M349.5 474.3h0M362.5 532.4h0M364.5 524.5h0M348.8 496.3h0M362.5 542.3h0M359.0 538.4h0M366.1 494.8h0M349.4 475.9h0M350.3 508.3h0M358.6 517.1h0M350.9 542.5h0M348.5 510.5h0M362.0 525.2h0M375.8 476.2h0M365.1 487.3h0M365.7 499.3h0M359.8 514.1h0M344.0 462.6h0M369.7 507.9h0M367.5 543.8h0M376.1 462.2h0M368.0 512.7h0M351.5 496.1h0M371.9 525.6h0M366.2 504.9h0M347.9 452.0h0M349.0 531.9h0M360.8 526.6h0M353.9 510.0h0M362.9 531.9h0M348.7 456.0h0M372.9 521.7h0M348.8 471.3h0M349.3 487.3h0M359.4 543.5h0M359.2 510.2h0M345.6 477.1h0M363.6 524.3h0M368.3 462.5h0M359.9 508.4h0M375.4 454.8h0M347.0 459.3h0M363.3 538.3h0M365.0 459.6h0M370.6 513.8h0M363.3 546.9h0M360.6 545.8h0M355.0 547.3h0M371.3 531.7h0M347.6 496.0h0M366.1 479.1h0M364.7 545.0h0M345.3 482.0h0M371.1 537.8h0M368.7 479.7h0M374.2 489.0h0M349.7 521.9h0M344.8 469.4h0M349.9 510.5h0M349.0 543.0h0M365.7 451.0h0M353.1 509.1h0M362.3 515.6h0M368.7 538.9h0M361.8 548.8h0M357.1 507.6h0M347.7 467.8h0M365.2 507.7h0M351.5 450.4h0M371.9 460.2h0M358.0 538.9h0M364.3 551.0h0M372.9 485.9h0M364.1 522.1h0M351.8 525.9h0M366.3 460.6h0M348.1 479.9h0M369.5 494.2h0M354.1 508.2h0M364.6 536.3h0M347.1 487.2h0M342.7 459.5h0M363.1 494.1h0M357.8 530.1h0M371.7 495.6h0M367.3 462.8h0M351.8 529.1h0M366.5 453.6h0M363.2 476.6h0M353.7 493.5h0M362.0 532.9h0M342.3 459.0h0M375.4 478.5h0M352.2 460.5h0M348.2 512.2h0M348.9 456.0h0M374.8 456.1h0M346.4 450.2h0M369.8 514.6h0M353.4 496.0h0M369.2 498.7h0M367.0 512.1h0M370.0 502.2h0M356.8 555.8h0M364.1 553.3h0M348.9 482.3h0M348.6 495.2h0M362.4 500.9h0M361.4 519.8h0M348.8 476.4h0M356.5 521.6h0M348.1 514.1h0M371.5 503.8h0M347.3 497.2h0M364.7 518.5h0M350.1 459.0h0M361.8 531.7h0M347.5 491.3h0M358.2 544.4h0M349.4 480.4h0M371.4 452.7h0M350.1 478.0h0M368.3 548.9h0M357.8 542.6h0M368.2 483.0h0M352.8 473.0h0M354.7 520.7h0M358.4 542.5h0M374.1 474.7h0M356.9 550.5h0M355.6 484.1h0M368.7 552.8h0M374.8 501.9h0M373.5 495.7h0M351.8 480.1h0M344.7 467.4h0M377.0 461.3h0M368.0 537.0h0M355.7 522.8h0M346.3 463.5h0M365.4 487.8h0M373.9 475.2h0M359.6 548.8h0M373.2 501.7h0M349.8 474.2h0M350.1 451.2h0M356.1 520.7h0M347.7 505.9h0M364.3 528.7h0M367.9 531.6h0M357.6 535.7h0M360.8 549.8h0M357.0 528.1h0M368.6 459.5h0M354.7 489.9h0M358.1 517.9h0M371.5 469.6h0M372.5 531.2h0M356.7 523.7h0M351.1 510.1h0M371.6 534.7h0M364.2 522.7h0M372.8 524.8h0M352.6 529.2h0M370.1 454.8h0M351.1 491.8h0M360.2 545.2h0M366.6 530.4h0M371.0 476.4h0M361.6 552.5h0M361.6 546.0h0M350.5 518.9h0M361.0 543.7h0M345.6 472.8h0M363.0 535.0h0M347.5 490.8h0M349.8 523.2h0M357.1 490.9h0M356.9 490.8h0M354.2 526.4h0M348.4 473.9h0M354.4 517.9h0M368.0 468.4h0M364.7 520.6h0M347.5 490.6h0M361.0 515.9h0M361.7 553.5h0M365.2 507.1h0M369.1 488.8h0M363.0 496.3h0M348.1 499.9h0M368.5 505.6h0M367.2 502.9h0M349.8 554.1h0M365.6 510.3h0M348.1 492.3h0M361.3 533.9h0M348.7 509.8h0M373.1 527.8h0M360.5 546.4h0M365.4 461.6h0M358.3 522.9h0M351.7 455.7h0M359.1 504.6h0M359.2 533.1h0M348.8 490.9h0M346.2 474.1h0M368.4 470.0h0M370.4 509.4h0M376.1 466.6h0M361.4 539.0h0M353.0 518.0h0M373.0 524.0h0M372.0 533.8h0M361.8 486.4h0M356.3 534.7h0M353.6 496.8h0M352.3 533.5h0M357.5 531.7h0M366.2 482.5h0M354.2 480.7h0M358.9 535.8h0M346.1 452.9h0M348.3 517.2h0M349.7 540.4h0M345.4 459.1h0M364.0 511.4h0M354.0 504.6h0M364.0 461.6h0M357.5 547.8h0M345.6 470.0h0M372.0 517.9h0M357.6 553.3h0M350.7 487.3h0M360.4 553.2h0M365.9 484.2h0M352.9 526.2h0M346.9 497.5h0M355.1 546.2h0M361.2 521.0h0M369.0 471.9h0M360.8 512.1h0M372.8 503.7h0M359.5 527.9h0M362.0 493.4h0M357.0 531.2h0M354.6 478.3h0M368.5 515.7h0M360.7 509.8h0M352.2 490.1h0M365.1 491.8h0M372.9 478.5h0M354.6 495.5h0M366.6 465.8h0M362.6 535.5h0M351.3 541.4h0M360.9 546.9h0M360.8 534.9h0M350.3 522.9h0M360.5 540.2h0M367.0 495.3h0M376.3 477.3h0M347.7 460.1h0M357.1 554.4h0M350.7 518.0h0M353.6 464.4h0M362.5 552.4h0M361.1 523.0h0M364.2 479.0h0M363.9 545.4h0M351.2 469.4h0M368.2 509.0h0M360.1 545.8h0M364.5 513.6h0M364.9 499.1h0M371.6 489.4h0M356.0 501.9h0M350.1 494.0h0M374.3 464.6h0M359.1 552.4h0M361.3 494.8h0M346.5 486.3h0M363.2 479.2h0M351.5 541.9h0M368.6 460.7h0M350.9 503.1h0M352.8 503.6h0M358.9 539.1h0M349.7 516.9h0M367.4 451.0h0M354.1 479.5h0M374.4 465.4h0M366.2 497.6h0M358.2 536.8h0M355.2 524.6h0M350.0 469.4h0M349.3 527.7h0M369.6 497.7h0M369.0 515.7h0M366.6 550.6h0M352.7 535.6h0M371.4 525.4h0M351.2 532.0h0M354.9 519.7h0M351.3 479.2h0M359.6 517.2h0M369.3 544.8h0M373.1 514.9h0M358.0 529.1h0M375.2 452.5h0M350.4 491.0h0M358.9 539.2h0M351.2 471.4h0M368.5 476.6h0M344.3 470.5h0M355.2 543.2h0M347.6 490.1h0M362.4 554.8h0M368.9 542.6h0M365.6 527.0h0M373.1 525.9h0M373.6 469.1h0M365.5 496.9h0M376.5 491.5h0M372.1 475.7h0M359.1 547.5h0M366.5 544.2h0M365.0 539.0h0M376.7 470.4h0M353.9 550.3h0M365.2 475.4h0M353.6 531.2h0M358.0 553.1h0M363.2 479.1h0M361.7 521.8h0M362.3 484.9h0M369.0 549.6h0M359.4 528.8h0M355.8 490.4h0M349.0 520.4h0M351.2 518.8h0M350.3 455.1h0M366.4 478.4h0M366.7 534.7h0M358.7 514.1h0M359.5 547.8h0M353.0 459.1h0M350.4 483.6h0M374.4 453.7h0M354.7 482.6h0M360.2 535.8h0M357.4 551.1h0M359.4 554.0h0M365.6 544.4h0M350.7 453.0h0M342.7 451.5h0M357.7 511.8h0M375.2 497.9h0M354.9 553.0h0M362.9 534.2h0M365.7 485.6h0M354.5 526.6h0M359.8 526.6h0M351.2 468.3h0M371.1 521.4h0M343.2 474.8h0M365.7 487.3h0M355.4 534.3h0M357.7 522.5h0M346.4 492.4h0M369.3 519.1h0M367.9 541.5h0M364.7 538.8h0M343.5 467.1h0M345.6 461.8h0M363.9 509.7h0M359.6 544.8h0M348.1 512.5h0M343.1 473.4h0M375.4 452.7h0M349.3 541.5h0M354.1 540.9h0M363.0 524.3h0M350.5 465.9h0M352.5 546.0h0M352.9 505.6h0M347.8 503.2h0M363.4 494.4h0M369.0 507.0h0M373.7 486.8h0M356.6 555.7h0M370.6 497.7h0M373.8 508.3h0M346.7 487.4h0M354.5 475.8h0M366.9 508.9h0M358.1 505.3h0M354.6 494.6h0M363.7 542.1h0M367.8 494.9h0M346.2 471.5h0M367.5 477.3h0M349.2 516.3h0M367.9 532.8h0M354.3 514.6h0M365.6 538.3h0M348.5 516.9h0M352.7 539.7h0M372.2 492.4h0M360.8 541.9h0M347.1 476.4h0M371.5 460.9h0M357.9 502.1h0M365.5 476.0h0M349.8 478.7h0M372.8 480.1h0M348.9 473.9h0M349.7 492.4h0M350.7 467.5h0M368.8 517.2h0M358.3 504.4h0M350.1 506.5h0M367.8 490.0h0M357.8 535.2h0M347.1 478.8h0M367.8 492.0h0M361.8 541.3h0M367.3 496.3h0M371.7 477.3h0M368.8 526.6h0M369.6 551.4h0M355.2 487.0h0M363.3 538.4h0M364.5 493.8h0M346.0 467.6h0M351.0 494.3h0M347.6 453.7h0M352.1 455.7h0M372.1 519.2h0M347.0 502.4h0M364.7 511.1h0M370.9 464.0h0M353.0 499.6h0M373.7 510.8h0M368.5 458.0h0M355.3 494.1h0M351.6 496.8h0M343.1 465.7h0M344.9 490.3h0M370.9 464.5h0M369.3 553.9h0M349.0 523.3h0M372.5 465.7h0M351.4 481.5h0M364.0 548.6h0M349.1 506.6h0M360.9 525.4h0M345.6 475.2h0M345.7 473.9h0M351.8 520.3h0M346.0 494.4h0M349.8 459.6h0M351.9 455.2h0M353.0 515.1h0M346.1 495.3h0M344.9 466.6h0M351.7 485.1h0M372.7 471.2h0" fill="none" stroke="#c4e4ea" stroke-width="1.10" stroke-linecap="round"/>
<path d="M375.0 444.3h0M371.9 441.3h0M371.5 456.3h0M375.7 442.8h0M375.6 466.6h0M372.4 427.7h0M372.0 470.3h0M369.1 472.4h0M372.8 430.7h0M375.5 474.7h0M375.5 443.4h0M370.5 468.7h0M376.2 445.3h0M369.2 467.2h0M372.3 469.9h0M371.6 463.3h0M372.1 456.2h0M375.3 463.4h0M374.9 436.4h0M369.7 466.0h0M373.8 414.4h0M375.0 450.1h0M372.4 440.3h0M376.0 428.2h0M372.9 457.5h0M368.5 470.0h0M375.8 457.8h0M374.3 422.9h0M374.7 431.1h0M373.6 452.5h0M375.6 432.2h0M376.2 453.9h0M371.0 455.2h0M371.4 469.7h0M375.5 455.8h0M374.2 470.6h0M375.3 429.3h0M373.8 473.9h0M368.3 464.2h0M374.4 417.9h0M371.4 466.4h0M372.7 443.8h0M375.5 473.3h0M375.7 441.0h0M373.9 418.0h0M374.1 459.1h0M368.5 462.2h0M370.2 454.2h0M375.6 447.1h0M371.7 435.6h0M374.0 453.6h0M376.3 419.4h0M374.9 415.6h0M373.9 442.7h0M376.0 466.4h0M368.7 467.9h0M373.4 421.2h0M373.5 436.1h0M370.9 471.2h0M373.1 439.1h0M373.7 462.7h0M372.0 439.1h0M372.2 474.9h0M373.2 446.6h0M369.9 468.3h0M376.6 427.5h0M370.4 443.4h0M370.6 442.1h0M373.3 444.5h0M375.3 420.3h0M374.7 446.4h0M374.3 444.4h0M375.2 456.1h0M376.2 443.7h0M370.4 469.4h0M369.3 462.6h0M374.2 427.4h0M371.7 470.9h0M374.2 430.6h0M374.5 450.0h0M371.7 449.6h0M374.7 473.3h0M371.2 471.5h0M373.7 453.5h0M370.1 468.8h0M375.1 433.3h0M371.3 452.9h0M371.8 454.6h0M375.1 415.0h0M367.6 475.0h0M370.7 447.1h0M373.9 449.0h0M374.0 423.4h0M374.6 426.3h0M369.3 460.4h0M374.6 445.9h0M372.9 426.6h0M375.6 437.1h0M375.4 434.8h0M373.1 433.3h0M371.7 457.4h0M368.7 471.1h0M375.2 439.0h0M375.1 417.9h0M375.8 441.9h0M373.0 430.2h0M376.0 445.1h0M373.2 442.4h0M371.4 471.3h0M375.3 435.4h0M373.4 450.9h0M375.2 435.0h0M371.5 446.3h0M370.4 443.2h0M376.3 463.0h0M372.3 456.8h0M371.9 456.9h0M369.3 460.9h0M370.1 452.9h0M372.8 470.6h0M375.0 448.3h0M373.5 453.6h0M373.6 461.3h0M372.7 468.3h0M372.2 432.9h0M376.7 427.6h0M370.3 468.6h0M371.9 449.2h0M370.0 451.7h0M375.1 433.3h0M373.6 464.0h0M367.9 464.6h0M376.2 465.3h0M367.4 468.9h0M371.2 462.4h0M372.2 460.8h0M371.3 446.0h0M374.9 423.2h0M369.2 467.8h0M375.9 470.0h0M369.3 455.6h0M369.0 456.2h0M370.7 462.1h0M372.7 474.7h0M374.1 448.1h0M371.4 435.8h0M372.8 425.4h0M376.4 460.1h0M369.5 464.7h0M375.9 437.2h0M374.4 432.2h0M372.9 474.0h0M374.1 442.6h0M372.3 470.0h0M373.2 443.1h0M374.1 433.8h0M371.4 440.8h0M375.5 467.9h0M372.9 449.9h0M374.4 432.1h0M370.1 448.8h0M370.7 451.3h0M375.2 471.0h0M375.0 445.8h0M371.5 457.1h0M373.1 458.8h0M373.1 437.4h0M373.3 441.2h0M374.0 452.9h0M376.0 452.4h0M371.6 453.8h0M374.8 441.7h0M367.8 474.7h0M371.1 450.3h0M371.6 474.9h0M372.5 436.2h0M368.2 468.3h0M376.5 447.6h0M370.8 440.6h0M376.3 428.6h0M370.3 467.9h0M375.9 457.6h0M372.7 436.0h0M374.1 420.3h0M367.8 464.2h0M371.2 445.0h0M375.7 426.6h0M370.2 467.6h0M373.5 423.2h0M376.6 433.2h0M375.3 438.0h0M376.4 419.3h0M370.5 473.6h0M371.8 442.2h0M370.5 453.8h0M376.1 465.4h0M369.5 463.9h0M370.1 450.4h0M370.1 465.5h0M375.0 445.3h0M369.6 457.0h0M372.5 458.3h0M374.0 434.3h0M373.4 439.7h0M373.6 474.3h0M372.1 432.6h0M375.1 444.5h0M374.2 469.8h0M375.4 467.1h0M374.1 461.2h0M376.4 441.0h0M376.5 448.8h0M372.7 460.9h0M374.9 425.8h0M372.1 434.5h0M374.7 471.4h0M373.4 444.4h0M375.6 417.9h0M368.7 473.3h0M370.7 452.7h0M371.9 439.8h0M372.6 447.1h0M374.4 420.3h0M368.7 456.8h0M376.3 418.0h0M374.7 446.3h0M368.8 467.4h0M371.7 440.2h0M367.2 471.2h0M375.8 447.1h0M376.1 429.2h0M371.0 456.0h0M376.2 424.2h0M368.5 470.0h0M376.0 450.4h0M372.0 474.6h0M371.8 442.7h0M376.5 448.2h0M374.1 459.7h0M373.9 464.6h0M373.5 418.2h0M374.5 460.6h0M376.4 436.5h0M374.2 427.9h0M375.1 458.9h0M374.6 433.7h0M373.4 447.5h0M374.7 465.6h0M373.1 463.3h0M372.1 440.0h0M375.3 433.7h0M375.4 453.5h0M367.0 474.7h0M375.8 426.1h0M373.9 454.6h0M371.7 451.5h0M373.8 453.4h0M369.1 457.4h0M375.6 468.1h0M373.6 474.7h0M373.5 446.3h0M370.9 473.0h0M372.7 446.8h0M372.7 470.3h0M370.8 446.6h0M373.5 463.9h0M370.6 443.8h0M373.3 438.5h0M372.9 445.6h0M371.2 444.7h0M374.3 448.1h0M371.2 459.5h0M371.3 449.6h0M375.4 452.2h0M374.8 463.8h0M374.3 430.7h0M373.8 415.1h0M374.6 462.6h0M376.8 423.9h0M372.9 462.8h0M369.1 459.0h0M368.8 457.6h0M374.1 431.8h0M373.7 447.9h0M372.1 466.1h0M371.4 444.7h0M374.5 457.9h0M376.6 431.5h0M375.1 425.3h0M375.6 418.5h0M376.0 418.2h0M373.2 417.6h0M375.7 458.6h0M372.8 423.2h0M375.4 420.4h0M370.0 453.9h0M369.2 474.3h0M376.5 454.3h0M372.2 449.6h0M374.2 470.0h0M374.5 437.4h0M373.3 422.5h0M368.4 469.6h0M374.0 471.6h0M373.3 426.6h0M375.8 450.5h0M375.5 430.3h0M372.8 449.3h0M375.1 442.5h0M370.6 443.9h0M374.1 425.5h0M369.8 471.0h0M375.9 447.3h0M372.2 453.3h0M371.4 441.4h0M368.4 462.6h0M374.2 452.2h0M372.2 453.8h0M372.0 449.1h0M371.1 473.6h0M375.1 464.1h0M371.2 454.8h0M370.9 463.0h0M375.8 443.7h0M371.7 468.3h0M370.4 473.2h0M374.8 446.1h0M369.7 454.8h0M371.6 467.2h0M370.5 453.3h0M376.4 455.5h0M372.7 454.6h0M376.4 460.0h0M373.9 447.7h0M373.8 455.6h0M369.0 453.8h0M369.5 463.8h0M371.0 473.9h0M375.5 450.4h0M373.6 468.8h0M371.5 451.5h0M370.6 443.6h0M376.0 465.4h0M374.1 424.1h0M376.1 422.6h0M371.7 446.9h0M374.1 415.0h0M373.5 465.0h0M368.8 468.9h0M373.2 458.5h0M370.0 468.8h0M370.6 452.7h0M374.2 470.0h0M375.0 461.5h0M368.6 458.0h0M376.6 441.1h0M374.9 441.6h0M369.4 451.6h0M374.8 452.3h0M371.6 460.0h0M373.1 434.4h0M374.2 439.2h0M367.1 470.7h0M376.4 435.2h0M373.5 463.9h0M374.1 454.3h0M376.4 451.0h0M373.7 427.5h0M374.4 463.5h0M373.4 460.8h0M376.5 414.4h0M375.4 471.7h0M371.7 465.6h0M372.8 428.3h0M374.1 422.2h0M376.1 432.0h0M375.7 445.0h0M372.8 458.4h0M374.4 468.3h0M372.2 472.6h0M370.0 457.5h0M371.8 449.0h0M372.4 467.0h0M374.3 456.6h0M371.3 472.2h0M374.3 417.4h0M373.8 440.2h0M369.1 456.2h0M369.7 449.7h0M374.1 463.4h0M370.3 456.3h0M375.1 451.1h0M351.1 482.3h0M348.3 477.4h0M351.2 472.9h0M349.7 485.2h0M349.4 470.9h0M347.3 473.3h0M349.6 467.1h0M348.8 493.4h0M352.7 490.6h0M348.4 472.9h0M351.0 483.0h0M347.4 465.1h0M347.0 471.6h0M348.9 482.6h0M352.6 494.4h0M349.6 457.4h0M346.3 470.8h0M351.1 497.3h0M348.5 460.9h0M352.0 494.9h0M351.1 488.5h0M350.2 483.9h0M346.5 460.7h0M352.9 498.4h0M355.0 499.4h0M353.8 489.1h0M351.5 497.4h0M351.7 482.4h0M350.3 489.9h0M351.8 477.4h0M351.5 478.7h0M348.3 483.1h0M348.9 461.8h0M348.0 480.9h0M350.5 497.0h0M352.0 492.0h0M348.4 484.1h0M347.7 456.3h0M353.8 492.2h0M355.4 500.0h0M354.2 493.0h0M348.1 463.0h0M349.1 452.7h0M349.9 483.3h0M350.6 471.8h0M348.2 468.4h0M352.7 496.6h0M354.1 498.2h0M351.2 487.5h0M347.9 446.0h0M350.2 473.1h0M348.7 468.5h0M348.4 455.3h0M349.5 494.3h0M346.2 467.0h0M347.4 480.4h0M351.7 497.2h0M350.0 464.9h0M347.9 484.3h0M353.4 490.0h0M348.7 453.9h0M348.6 481.8h0M351.2 491.2h0M354.5 496.9h0M348.9 478.5h0M347.5 451.9h0M349.9 455.6h0M349.0 474.2h0M354.1 499.6h0M350.2 496.7h0M348.0 484.8h0M351.0 497.7h0M349.5 485.5h0M350.8 499.8h0M353.8 498.5h0M353.0 489.4h0M348.0 481.2h0M354.8 495.6h0M348.2 471.7h0M348.2 477.2h0M349.8 469.2h0M352.5 498.9h0M349.3 487.2h0M352.2 489.5h0M349.3 488.8h0M352.1 479.9h0M349.0 492.5h0M350.0 475.0h0M349.2 448.0h0M350.1 493.8h0M348.1 477.2h0M348.1 457.5h0M348.0 474.5h0M349.0 483.0h0M351.0 494.5h0M350.5 462.6h0M348.6 479.0h0M347.8 466.9h0M349.9 474.5h0M350.2 493.3h0M348.9 476.6h0M349.8 462.5h0M350.5 488.3h0M348.2 476.2h0M355.2 499.4h0M352.1 489.2h0M348.0 451.3h0M351.2 486.3h0M353.5 487.5h0M352.0 498.3h0M351.2 473.3h0M346.1 465.5h0M347.8 483.8h0M350.5 468.3h0M354.0 496.4h0M348.3 483.3h0M347.5 463.9h0M347.4 444.5h0M348.3 461.9h0M348.9 494.6h0M349.1 456.6h0M350.5 492.3h0M346.6 469.5h0M349.3 473.3h0M349.4 471.0h0M348.4 483.3h0M350.1 461.2h0M348.1 484.0h0M353.5 492.8h0M355.4 499.8h0M347.1 449.0h0M349.6 478.3h0M348.3 466.7h0M351.4 483.1h0M349.5 453.6h0M347.6 478.8h0M350.3 476.2h0M349.2 484.7h0M351.2 489.5h0M346.4 466.5h0M348.2 489.2h0M351.3 495.6h0M350.2 488.5h0M348.1 468.7h0M347.1 478.0h0M349.4 497.4h0M351.8 492.7h0M346.6 456.8h0M349.5 486.0h0M353.4 487.5h0M352.4 479.9h0M352.1 497.4h0M350.2 479.9h0M349.4 489.9h0M350.5 484.0h0M349.6 482.8h0M350.1 465.8h0M346.7 454.1h0M352.2 489.3h0M349.9 456.5h0M351.5 499.9h0M351.6 489.9h0M350.3 470.3h0M348.1 487.4h0M348.2 488.4h0M352.5 484.9h0M349.3 493.8h0M352.9 489.9h0M349.0 475.9h0M349.5 483.0h0M348.0 458.7h0M347.9 463.3h0M347.5 461.5h0M346.4 460.6h0M353.2 493.6h0M351.3 494.8h0M347.3 448.8h0M351.0 496.8h0M346.1 447.5h0M350.5 469.6h0M354.0 498.9h0" fill="none" stroke="#a9d7e1" stroke-width="1.20" stroke-linecap="round"/>
<path d="M347.0,478.3 L348.3,490.0 L349.7,502.0 L350.8,513.0 L351.8,523.0 L352.1,533.0 L352.5,544.0 L353.2,552.0 L356.0,555.5 L365.0,555.5 L367.9,552.0 L368.6,544.0 L370.4,533.0 L372.0,523.0 L373.0,513.0 L374.2,502.0 L375.1,490.0 L376.0,478.3 L376.2,470.0 L376.4,461.5 L376.6,450.0 L376.7,436.0 L371.3,436.0 L369.5,450.0 L368.0,461.5 L367.1,470.0 L366.3,478.3 L365.6,490.0 L364.8,502.0 L363.2,513.0 L361.8,523.0 L361.2,533.0 L360.2,538.0 L360.7,533.0 L359.5,523.0 L357.8,513.0 L356.0,502.0 L354.1,490.0 L352.2,478.3Z" fill="#a9d7e1"/>
<line x1="342.6" y1="384.2" x2="342.6" y2="563.0" stroke="#1a1a1a" stroke-width="1.0"/>
<line x1="377.7" y1="384.2" x2="377.7" y2="563.0" stroke="#1a1a1a" stroke-width="1.0"/>
<line x1="317.1" y1="506.2" x2="347.0" y2="506.2" stroke="#1a1a1a" stroke-width="1.0"/>
<line x1="347.0" y1="506.2" x2="376.0" y2="506.2" stroke="#1a1a1a" stroke-width="1.0" stroke-dasharray="3,2.2"/>
<line x1="376.0" y1="506.2" x2="439.7" y2="506.2" stroke="#1a1a1a" stroke-width="1.0"/>
<path d="M378.6 397.0h0M379.8 410.0h0M378.9 414.0h0M379.5 418.0h0M378.7 422.0h0M380.2 426.0h0M379.2 430.0h0M378.9 434.0h0M380.5 437.0h0M379.0 441.0h0M380.8 445.0h0M379.4 449.0h0" fill="none" stroke="#9ccc7c" stroke-width="1.40" stroke-linecap="round"/>
<path d="M378.8 452.0h0M378.6 458.0h0M379.0 464.0h0M378.7 470.0h0M378.8 476.0h0M379.1 482.0h0M378.6 488.0h0M379.0 494.0h0M378.7 500.0h0" fill="none" stroke="#3a5a3a" stroke-width="1.10" stroke-linecap="round"/>
<path d="M396.0 409.0h0M402.0 395.0h0M398.0 470.0h0M385.0 485.0h0M392.0 503.0h0M396.0 516.0h0M389.0 530.0h0M401.0 545.0h0M384.0 552.0h0M410.0 522.0h0M414.0 538.0h0M425.0 515.0h0M430.0 540.0h0M433.0 548.0h0M352.0 548.0h0M321.0 548.0h0M330.0 520.0h0M335.0 535.0h0M324.0 530.0h0M346.0 444.0h0" fill="none" stroke="#b9c9cc" stroke-width="1.10" stroke-linecap="round"/>
<text x="348.8" y="403.8" font-size="6.4" text-anchor="start" textLength="25.8" lengthAdjust="spacingAndGlyphs" fill="#333" stroke="#333" stroke-width="0.18">UNC5CL</text>
<text x="342.1" y="411.2" font-size="6.4" text-anchor="start" textLength="27.3" lengthAdjust="spacingAndGlyphs" fill="#333" stroke="#333" stroke-width="0.18">SLC39A5</text>
<text x="380.0" y="400.8" font-size="6.4" text-anchor="start" textLength="22.3" lengthAdjust="spacingAndGlyphs" fill="#333" stroke="#333" stroke-width="0.18">TRIM15</text>
<text x="381.2" y="411.5" font-size="6.4" text-anchor="start" textLength="21.8" lengthAdjust="spacingAndGlyphs" fill="#333" stroke="#333" stroke-width="0.18">OR9G4</text>
<text x="388.0" y="418.5" font-size="6.4" text-anchor="start" textLength="15.0" lengthAdjust="spacingAndGlyphs" fill="#333" stroke="#333" stroke-width="0.18">KLK2</text>
<text x="393.8" y="424.3" font-size="6.4" text-anchor="start" textLength="22.4" lengthAdjust="spacingAndGlyphs" fill="#333" stroke="#333" stroke-width="0.18">LAMA3</text>
<text x="387.7" y="431.2" font-size="6.4" text-anchor="start" textLength="23.8" lengthAdjust="spacingAndGlyphs" fill="#333" stroke="#333" stroke-width="0.18">HEXIM2</text>
<text x="390.8" y="437.0" font-size="6.4" text-anchor="start" textLength="20.0" lengthAdjust="spacingAndGlyphs" fill="#333" stroke="#333" stroke-width="0.18">CHST5</text>
<text x="392.0" y="442.8" font-size="6.4" text-anchor="start" textLength="27.7" lengthAdjust="spacingAndGlyphs" fill="#333" stroke="#333" stroke-width="0.18">NECTIN3</text>
<text x="391.2" y="452.3" font-size="6.4" text-anchor="start" textLength="24.5" lengthAdjust="spacingAndGlyphs" fill="#333" stroke="#333" stroke-width="0.18">SCUBE2</text>
<text x="384.3" y="457.7" font-size="6.4" text-anchor="start" textLength="24.7" lengthAdjust="spacingAndGlyphs" fill="#333" stroke="#333" stroke-width="0.18">CRABP2</text>
<text x="381.5" y="465.4" font-size="6.4" text-anchor="start" textLength="17.4" lengthAdjust="spacingAndGlyphs" fill="#333" stroke="#333" stroke-width="0.18">MAL2</text>
<text x="379.2" y="476.5" font-size="6.4" text-anchor="start" textLength="27.8" lengthAdjust="spacingAndGlyphs" fill="#333" stroke="#333" stroke-width="0.18">WNT10A</text>
<text x="405.8" y="487.0" font-size="6.4" text-anchor="start" textLength="22.7" lengthAdjust="spacingAndGlyphs" fill="#333" stroke="#333" stroke-width="0.18">VWA5A</text>
<text x="379.2" y="496.5" font-size="6.4" text-anchor="start" textLength="23.1" lengthAdjust="spacingAndGlyphs" fill="#333" stroke="#333" stroke-width="0.18">NKX1-2</text>
<text x="388.0" y="512.3" font-size="6.4" text-anchor="start" textLength="28.6" lengthAdjust="spacingAndGlyphs" fill="#333" stroke="#333" stroke-width="0.18">PLA2G10</text>
<text x="324.6" y="430.8" font-size="6.4" text-anchor="start" textLength="31.6" lengthAdjust="spacingAndGlyphs" fill="#333" stroke="#333" stroke-width="0.18">HLA-DRB1</text>
<text x="320.0" y="439.2" font-size="6.4" text-anchor="start" textLength="19.2" lengthAdjust="spacingAndGlyphs" fill="#333" stroke="#333" stroke-width="0.18">HLA-A</text>
<text x="315.0" y="453.0" font-size="6.4" text-anchor="start" textLength="25.0" lengthAdjust="spacingAndGlyphs" fill="#333" stroke="#333" stroke-width="0.18">COL6A2</text>
<text x="322.3" y="467.7" font-size="6.4" text-anchor="start" textLength="17.7" lengthAdjust="spacingAndGlyphs" fill="#333" stroke="#333" stroke-width="0.18">TIMP1</text>
<text x="323.0" y="480.0" font-size="6.4" text-anchor="start" textLength="17.8" lengthAdjust="spacingAndGlyphs" fill="#333" stroke="#333" stroke-width="0.18">SOD2</text>
<text x="327.7" y="490.0" font-size="6.4" text-anchor="start" textLength="11.5" lengthAdjust="spacingAndGlyphs" fill="#333" stroke="#333" stroke-width="0.18">IL32</text>
<text x="321.5" y="496.6" font-size="6.4" text-anchor="start" textLength="19.0" lengthAdjust="spacingAndGlyphs" fill="#333" stroke="#333" stroke-width="0.18">IGHG1</text>
<text x="322.6" y="510.0" font-size="6.4" text-anchor="start" textLength="12.4" lengthAdjust="spacingAndGlyphs" fill="#333" stroke="#333" stroke-width="0.18">TNC</text>
<text x="327.7" y="524.6" font-size="6.4" text-anchor="start" textLength="12.3" lengthAdjust="spacingAndGlyphs" fill="#333" stroke="#333" stroke-width="0.18">C1R</text>
<line x1="370.0" y1="404.6" x2="377.0" y2="414.6" stroke="#333" stroke-width="0.6"/>
<line x1="363.0" y1="410.8" x2="377.7" y2="436.2" stroke="#333" stroke-width="0.6"/>
<line x1="383.8" y1="402.3" x2="378.8" y2="407.0" stroke="#333" stroke-width="0.6"/>
<line x1="383.8" y1="413.0" x2="379.2" y2="420.8" stroke="#333" stroke-width="0.6"/>
<line x1="388.5" y1="418.5" x2="380.0" y2="425.4" stroke="#333" stroke-width="0.6"/>
<line x1="393.0" y1="423.0" x2="380.0" y2="428.5" stroke="#333" stroke-width="0.6"/>
<line x1="387.0" y1="430.0" x2="380.0" y2="434.6" stroke="#333" stroke-width="0.6"/>
<line x1="390.0" y1="434.6" x2="379.2" y2="436.2" stroke="#333" stroke-width="0.6"/>
<line x1="391.5" y1="439.7" x2="379.2" y2="437.7" stroke="#333" stroke-width="0.6"/>
<line x1="390.8" y1="448.5" x2="379.2" y2="441.5" stroke="#333" stroke-width="0.6"/>
<line x1="383.8" y1="453.5" x2="379.2" y2="447.0" stroke="#333" stroke-width="0.6"/>
<line x1="381.0" y1="462.0" x2="379.2" y2="460.5" stroke="#333" stroke-width="0.6"/>
<line x1="384.5" y1="490.5" x2="379.0" y2="488.0" stroke="#333" stroke-width="0.6"/>
<line x1="391.5" y1="506.0" x2="389.0" y2="503.5" stroke="#333" stroke-width="0.6"/>
<line x1="337.0" y1="442.3" x2="341.5" y2="447.0" stroke="#333" stroke-width="0.6"/>
<line x1="339.5" y1="433.0" x2="341.5" y2="440.0" stroke="#333" stroke-width="0.6"/>
<line x1="322.3" y1="502.0" x2="329.2" y2="498.5" stroke="#333" stroke-width="0.6"/>
<line x1="333.0" y1="520.0" x2="340.8" y2="505.4" stroke="#333" stroke-width="0.6"/>
<line x1="335.0" y1="507.5" x2="342.3" y2="502.3" stroke="#333" stroke-width="0.6"/>
<line x1="317.1" y1="384.2" x2="317.1" y2="563.5" stroke="#1a1a1a" stroke-width="1.1"/>
<line x1="316.6" y1="563.0" x2="439.7" y2="563.0" stroke="#1a1a1a" stroke-width="1.1"/>
<line x1="314.1" y1="405.2" x2="317.1" y2="405.2" stroke="#333" stroke-width="1.0"/>
<text x="306.9" y="407.4" font-size="6.5" text-anchor="start" textLength="3.8" lengthAdjust="spacingAndGlyphs" fill="#303030" stroke="#303030" stroke-width="0.18">4</text>
<line x1="314.1" y1="442.4" x2="317.1" y2="442.4" stroke="#333" stroke-width="1.0"/>
<text x="306.9" y="444.6" font-size="6.5" text-anchor="start" textLength="3.8" lengthAdjust="spacingAndGlyphs" fill="#303030" stroke="#303030" stroke-width="0.18">3</text>
<line x1="314.1" y1="479.8" x2="317.1" y2="479.8" stroke="#333" stroke-width="1.0"/>
<text x="306.9" y="482.0" font-size="6.5" text-anchor="start" textLength="3.8" lengthAdjust="spacingAndGlyphs" fill="#303030" stroke="#303030" stroke-width="0.18">2</text>
<line x1="314.1" y1="517.3" x2="317.1" y2="517.3" stroke="#333" stroke-width="1.0"/>
<text x="307.9" y="519.5" font-size="6.5" text-anchor="start" textLength="2.8" lengthAdjust="spacingAndGlyphs" fill="#303030" stroke="#303030" stroke-width="0.18">1</text>
<line x1="314.1" y1="554.4" x2="317.1" y2="554.4" stroke="#333" stroke-width="1.0"/>
<text x="306.9" y="556.6" font-size="6.5" text-anchor="start" textLength="3.8" lengthAdjust="spacingAndGlyphs" fill="#303030" stroke="#303030" stroke-width="0.18">0</text>
<line x1="325.7" y1="563.0" x2="325.7" y2="565.6" stroke="#333" stroke-width="1.0"/>
<text x="322.2" y="574.6" font-size="6.4" text-anchor="start" textLength="7.0" lengthAdjust="spacingAndGlyphs" fill="#303030" stroke="#303030" stroke-width="0.18">−2</text>
<line x1="360.8" y1="563.0" x2="360.8" y2="565.6" stroke="#333" stroke-width="1.0"/>
<text x="358.9" y="574.6" font-size="6.4" text-anchor="start" textLength="3.8" lengthAdjust="spacingAndGlyphs" fill="#303030" stroke="#303030" stroke-width="0.18">0</text>
<line x1="396.0" y1="563.0" x2="396.0" y2="565.6" stroke="#333" stroke-width="1.0"/>
<text x="394.1" y="574.6" font-size="6.4" text-anchor="start" textLength="3.8" lengthAdjust="spacingAndGlyphs" fill="#303030" stroke="#303030" stroke-width="0.18">2</text>
<line x1="431.2" y1="563.0" x2="431.2" y2="565.6" stroke="#333" stroke-width="1.0"/>
<text x="429.3" y="574.6" font-size="6.4" text-anchor="start" textLength="3.8" lengthAdjust="spacingAndGlyphs" fill="#303030" stroke="#303030" stroke-width="0.18">4</text>
<text transform="translate(301.8,473.1) rotate(-90)" x="0" y="0" font-size="8.2" text-anchor="middle" textLength="42.6" lengthAdjust="spacingAndGlyphs" fill="#444">−log10(padj)</text>
<text x="374.9" y="587.7" font-size="9.0" text-anchor="start" textLength="11.0" lengthAdjust="spacingAndGlyphs" fill="#303030" stroke="#303030" stroke-width="0.18">LFC</text>
<text x="444.3" y="463.8" font-size="6.8" text-anchor="start" textLength="22.7" lengthAdjust="spacingAndGlyphs" fill="#262626" stroke="#262626" stroke-width="0.18">Delabel</text>
<circle cx="447.4" cy="470.0" r="2.0" fill="#a9c8a0"/>
<text x="453.0" y="472.0" font-size="6.4" text-anchor="start" textLength="11.0" lengthAdjust="spacingAndGlyphs" fill="#262626" stroke="#262626" stroke-width="0.18">VC1</text>
<circle cx="447.4" cy="477.7" r="2.0" fill="#2d1a6e"/>
<text x="453.0" y="479.7" font-size="6.4" text-anchor="start" textLength="11.5" lengthAdjust="spacingAndGlyphs" fill="#262626" stroke="#262626" stroke-width="0.18">VC2</text>
<circle cx="447.4" cy="483.5" r="2.0" fill="#c3e0e6"/>
<text x="453.0" y="485.5" font-size="6.4" text-anchor="start" textLength="59.3" lengthAdjust="spacingAndGlyphs" fill="#262626" stroke="#262626" stroke-width="0.18">Vascular Endothelium</text>
<text x="453.0" y="493.4" font-size="6.4" text-anchor="start" textLength="21.2" lengthAdjust="spacingAndGlyphs" fill="#262626" stroke="#262626" stroke-width="0.18">Not.Sig</text>
<defs><filter id="hb11" x="0" y="0" width="1" height="1"><feGaussianBlur stdDeviation="0.55"/></filter></defs>
<g filter="url(#hb11)"><g transform="translate(41.50,46.00) scale(2.0018,1.2444)" stroke-width="1" fill="none"><path stroke="#3c3296" d="M75 4.5h1M8 5.5h1M4 6.5h1M9 6.5h1M6 7.5h1M8 7.5h1M9 10.5h1M17 14.5h1M8 15.5h1M71 16.5h1M25 17.5h1M9 18.5h1M9 19.5h1M19 19.5h1M5 21.5h1M8 21.5h1M23 24.5h1M76 24.5h1M47 25.5h1M10 27.5h1M8 29.5h1M23 29.5h1M20 31.5h1M20 32.5h1M9 35.5h1M26 37.5h1M75 42.5h1M5 45.5h1M17 46.5h1M100 48.5h1M104 54.5h1M104 56.5h1M39 57.5h1M40 58.5h1M45 59.5h1M45 62.5h1M100 67.5h1M104 67.5h1M49 68.5h1M53 68.5h1M63 70.5h1M69 70.5h1M100 71.5h1M8 72.5h1M105 72.5h1M104 74.5h1M9 77.5h1M105 79.5h1M99 80.5h1M52 81.5h1M99 82.5h1M103 84.5h1M4 85.5h1M8 85.5h1M105 85.5h1M8 87.5h1M63 87.5h1M102 88.5h1M94 89.5h1M104 89.5h1"/><path stroke="#463c9f" d="M19 4.5h1M9 5.5h1M7 7.5h1M75 9.5h1M5 13.5h1M8 13.5h1M23 16.5h1M35 19.5h1M8 22.5h1M21 24.5h1M5 25.5h1M9 26.5h1M17 26.5h1M22 29.5h1M3 30.5h1M8 37.5h1M67 37.5h1M23 40.5h1M67 43.5h1M63 44.5h1M42 53.5h1M39 55.5h1M3 56.5h1M99 69.5h1M4 71.5h1M97 73.5h1M105 74.5h1M64 77.5h1M72 79.5h1M103 79.5h1M67 80.5h1M95 80.5h1M11 81.5h1M69 81.5h1M64 82.5h1M62 83.5h1M98 86.5h1"/><path stroke="#5147a8" d="M61 5.5h1M19 7.5h1M25 8.5h1M70 8.5h1M19 9.5h1M17 10.5h1M26 11.5h1M10 13.5h1M47 13.5h1M69 13.5h1M20 14.5h1M68 14.5h1M101 14.5h1M47 16.5h1M95 16.5h1M5 18.5h1M17 19.5h1M71 19.5h1M9 21.5h1M24 22.5h1M6 23.5h1M22 23.5h1M25 23.5h1M8 25.5h1M68 25.5h1M8 26.5h1M14 29.5h1M6 31.5h1M9 32.5h1M9 33.5h1M23 33.5h1M35 33.5h1M76 33.5h1M111 33.5h1M9 34.5h1M26 34.5h1M47 34.5h1M49 35.5h1M7 36.5h2M22 37.5h1M5 38.5h1M63 39.5h1M10 41.5h1M22 41.5h1M5 42.5h1M20 42.5h1M49 42.5h1M21 43.5h1M32 43.5h1M8 46.5h1M21 46.5h1M32 48.5h1M93 52.5h1M40 53.5h1M70 53.5h1M42 54.5h1M87 54.5h1M39 56.5h1M103 56.5h1M40 57.5h1M87 57.5h1M43 58.5h1M42 60.5h1M84 60.5h1M81 62.5h1M4 67.5h1M16 67.5h1M51 67.5h1M97 67.5h2M66 68.5h1M100 68.5h1M104 69.5h1M100 70.5h1M105 70.5h1M95 71.5h1M65 72.5h1M100 72.5h1M9 73.5h1M82 73.5h1M94 74.5h1M99 74.5h1M62 75.5h1M68 75.5h1M101 75.5h1M97 76.5h1M100 76.5h1M53 77.5h1M100 77.5h1M57 78.5h1M61 78.5h1M67 79.5h1M94 79.5h1M56 80.5h1M97 81.5h1M100 81.5h1M9 82.5h1M58 82.5h2M94 82.5h1M59 83.5h1M97 83.5h1M14 84.5h1M55 85.5h1M70 86.5h1M94 86.5h1M105 86.5h1M15 87.5h1M105 88.5h1M70 89.5h1"/><path stroke="#5c52b1" d="M24 1.5h1M72 1.5h1M25 3.5h1M17 4.5h1M19 5.5h1M50 7.5h1M17 8.5h1M76 8.5h1M8 9.5h1M68 9.5h1M77 9.5h1M3 10.5h1M25 10.5h1M35 10.5h1M8 11.5h1M22 11.5h1M110 13.5h1M21 14.5h1M76 14.5h1M94 14.5h1M97 14.5h1M35 15.5h1M35 17.5h1M69 17.5h1M76 17.5h1M94 17.5h1M107 18.5h1M9 20.5h2M15 20.5h1M23 20.5h1M49 21.5h1M10 22.5h1M23 22.5h1M28 22.5h1M67 23.5h1M26 24.5h1M49 25.5h1M6 26.5h1M8 27.5h1M70 27.5h1M7 28.5h1M19 28.5h1M7 29.5h1M35 29.5h1M48 29.5h1M72 29.5h1M6 30.5h2M9 30.5h1M17 30.5h1M37 30.5h1M11 31.5h1M68 31.5h1M19 34.5h1M5 37.5h1M8 38.5h1M49 38.5h1M75 38.5h1M77 38.5h1M14 40.5h1M22 40.5h1M82 43.5h1M5 44.5h1M9 45.5h1M33 47.5h1M61 47.5h1M68 47.5h1M4 48.5h1M22 48.5h1M68 48.5h1M109 48.5h1M33 49.5h1M28 50.5h1M90 50.5h1M42 52.5h1M44 52.5h1M75 52.5h1M87 52.5h1M108 53.5h1M40 54.5h1M82 54.5h1M84 54.5h1M109 54.5h1M40 55.5h1M84 55.5h1M92 55.5h1M42 56.5h2M86 56.5h1M41 57.5h1M45 57.5h1M85 57.5h1M42 58.5h1M106 58.5h1M87 59.5h1M92 59.5h1M41 60.5h1M37 61.5h1M42 61.5h1M45 61.5h1M82 61.5h1M42 62.5h1M93 62.5h1M40 65.5h1M45 66.5h1M9 68.5h1M47 68.5h1M58 68.5h1M60 68.5h1M94 68.5h1M103 68.5h1M4 69.5h1M70 69.5h1M96 69.5h1M65 70.5h1M96 70.5h1M14 71.5h1M52 71.5h1M67 71.5h1M68 73.5h1M49 74.5h1M57 74.5h1M103 74.5h1M6 75.5h1M9 75.5h1M51 77.5h1M94 77.5h1M105 77.5h1M51 78.5h1M8 79.5h1M14 79.5h1M101 79.5h1M4 80.5h1M47 80.5h1M103 80.5h1M49 81.5h1M67 81.5h1M49 82.5h1M55 82.5h1M100 82.5h1M102 82.5h1M60 83.5h1M100 83.5h1M17 84.5h1M49 84.5h1M58 84.5h2M100 84.5h1M14 85.5h1M53 85.5h1M100 85.5h1M102 85.5h1M49 86.5h1M56 86.5h1M96 86.5h1M100 86.5h1M94 88.5h1"/><path stroke="#6b61ba" d="M23 2.5h1M92 3.5h1M6 4.5h1M21 4.5h2M24 5.5h1M19 6.5h1M21 6.5h1M30 6.5h1M63 6.5h1M75 6.5h1M24 7.5h1M8 8.5h2M26 8.5h1M35 8.5h1M5 9.5h1M9 9.5h1M23 9.5h1M67 9.5h1M106 9.5h1M10 10.5h1M47 10.5h1M70 10.5h1M10 11.5h1M20 11.5h1M47 11.5h1M69 11.5h1M79 11.5h1M6 12.5h2M10 12.5h1M35 12.5h1M49 12.5h1M4 13.5h1M19 13.5h1M76 13.5h1M22 14.5h1M45 14.5h1M50 14.5h1M100 14.5h1M6 15.5h1M9 15.5h1M20 15.5h2M99 15.5h1M112 15.5h1M17 16.5h1M76 16.5h2M98 16.5h1M5 17.5h1M19 17.5h1M22 17.5h2M47 17.5h1M100 17.5h1M8 18.5h1M23 18.5h1M26 18.5h1M35 18.5h1M7 19.5h1M26 19.5h1M50 19.5h1M17 20.5h1M20 20.5h2M36 20.5h1M39 20.5h1M76 20.5h1M15 21.5h1M18 21.5h1M109 21.5h1M17 22.5h1M68 22.5h1M4 23.5h2M9 23.5h1M21 23.5h1M10 24.5h1M17 24.5h1M19 24.5h1M62 24.5h1M21 25.5h1M77 26.5h1M50 27.5h1M6 28.5h1M16 28.5h2M105 28.5h1M31 29.5h1M36 29.5h1M22 30.5h1M47 30.5h1M12 31.5h1M17 31.5h1M19 31.5h1M4 32.5h1M11 32.5h1M47 32.5h1M7 33.5h1M16 33.5h1M19 33.5h1M24 33.5h1M7 34.5h1M21 34.5h2M47 35.5h1M75 35.5h1M24 38.5h1M71 38.5h1M5 39.5h1M19 39.5h1M48 40.5h1M68 40.5h1M35 41.5h1M74 41.5h1M6 42.5h1M11 42.5h1M45 42.5h1M50 42.5h1M16 43.5h1M25 43.5h1M57 43.5h1M98 43.5h1M17 44.5h1M23 44.5h1M70 44.5h1M22 45.5h3M7 46.5h1M11 46.5h1M20 46.5h1M68 46.5h1M17 47.5h1M19 47.5h1M30 47.5h1M81 47.5h1M28 48.5h1M70 48.5h1M30 49.5h1M35 49.5h1M49 49.5h1M72 49.5h1M76 49.5h1M9 50.5h1M23 50.5h1M32 50.5h1M6 51.5h1M8 51.5h1M49 51.5h1M105 51.5h1M39 52.5h1M44 53.5h2M98 53.5h1M41 54.5h1M86 54.5h1M0 55.5h1M37 55.5h1M111 55.5h1M37 56.5h1M87 56.5h1M44 58.5h1M98 58.5h1M41 59.5h1M44 59.5h1M78 59.5h1M112 60.5h1M39 61.5h1M84 61.5h1M92 61.5h1M41 62.5h1M44 62.5h1M91 62.5h1M30 64.5h1M47 64.5h1M96 64.5h1M95 67.5h1M111 67.5h1M67 68.5h1M70 68.5h1M77 68.5h1M98 68.5h1M11 69.5h1M52 69.5h1M55 69.5h1M59 69.5h1M68 69.5h1M110 69.5h1M47 70.5h1M55 70.5h1M99 70.5h1M49 71.5h1M53 71.5h1M84 71.5h1M94 71.5h1M96 71.5h1M58 72.5h1M12 73.5h1M94 73.5h1M98 73.5h1M104 73.5h1M15 74.5h2M67 74.5h1M70 74.5h1M96 74.5h1M110 74.5h1M98 75.5h1M104 75.5h1M59 76.5h1M64 76.5h1M104 76.5h2M52 77.5h1M98 77.5h1M55 78.5h1M65 78.5h1M11 79.5h1M49 79.5h1M53 79.5h1M57 79.5h1M63 79.5h1M8 80.5h1M102 80.5h1M13 81.5h1M50 81.5h2M53 81.5h1M94 81.5h1M98 81.5h1M104 81.5h1M9 83.5h1M66 83.5h1M94 83.5h2M105 83.5h1M5 84.5h1M47 84.5h1M50 84.5h1M69 84.5h1M9 85.5h1M94 85.5h1M15 86.5h1M109 86.5h1M49 87.5h1M52 87.5h1M58 87.5h1M60 87.5h1M94 87.5h1M97 87.5h1M101 87.5h1M105 87.5h1M56 88.5h1M61 88.5h1M97 88.5h2M100 88.5h1M55 89.5h1M61 89.5h1M66 89.5h1"/><path stroke="#7d73c4" d="M11 0.5h1M43 0.5h1M67 0.5h1M69 0.5h1M72 0.5h1M48 1.5h1M17 2.5h1M38 2.5h1M40 2.5h1M42 2.5h1M85 2.5h1M8 3.5h1M5 4.5h1M7 4.5h1M20 4.5h1M110 4.5h1M16 5.5h1M21 5.5h2M32 5.5h1M62 5.5h1M69 5.5h1M5 6.5h1M36 6.5h1M69 6.5h1M17 7.5h1M23 7.5h1M24 8.5h1M39 8.5h1M57 8.5h1M7 9.5h1M17 9.5h2M22 9.5h1M63 9.5h1M70 9.5h1M8 10.5h1M49 11.5h1M24 12.5h1M70 12.5h1M40 13.5h1M36 14.5h1M59 14.5h1M63 14.5h1M74 14.5h1M98 14.5h1M69 15.5h1M105 15.5h1M9 16.5h3M19 16.5h1M25 16.5h1M63 16.5h1M105 16.5h1M0 17.5h1M2 17.5h1M13 17.5h1M43 17.5h1M110 17.5h1M6 18.5h1M14 18.5h1M17 18.5h1M28 18.5h1M77 18.5h1M5 19.5h1M21 19.5h1M109 19.5h1M18 20.5h1M55 21.5h1M6 22.5h1M16 22.5h1M30 22.5h1M34 22.5h1M40 22.5h1M67 22.5h1M12 23.5h1M15 23.5h1M23 23.5h1M48 23.5h3M7 24.5h1M30 24.5h1M36 24.5h1M81 24.5h1M9 25.5h1M22 25.5h1M24 25.5h1M32 25.5h1M67 25.5h1M35 26.5h1M67 26.5h1M72 26.5h1M5 27.5h2M42 27.5h1M49 27.5h1M67 27.5h1M78 27.5h1M98 27.5h1M112 27.5h1M20 28.5h1M49 28.5h1M9 29.5h1M37 29.5h1M67 29.5h1M1 30.5h1M21 30.5h1M50 30.5h1M67 30.5h1M69 30.5h2M107 30.5h1M109 30.5h1M8 31.5h1M10 31.5h1M24 31.5h2M61 31.5h1M111 31.5h1M5 32.5h1M22 32.5h1M61 32.5h1M69 32.5h1M76 32.5h1M109 32.5h1M22 33.5h1M26 33.5h1M68 33.5h1M71 33.5h1M110 33.5h1M14 34.5h1M8 35.5h1M16 35.5h1M55 35.5h1M4 36.5h1M22 36.5h1M24 36.5h1M36 36.5h1M7 37.5h1M9 37.5h1M19 37.5h1M21 37.5h1M25 37.5h1M35 37.5h1M51 37.5h1M68 37.5h1M19 38.5h1M43 38.5h1M47 38.5h1M63 38.5h1M67 38.5h1M76 38.5h1M4 39.5h1M9 39.5h1M69 39.5h1M71 39.5h1M75 39.5h1M97 39.5h1M9 40.5h1M13 40.5h1M16 40.5h1M20 40.5h1M35 40.5h1M47 40.5h1M49 40.5h1M7 41.5h1M67 41.5h1M25 42.5h1M63 42.5h1M23 43.5h1M27 43.5h1M39 43.5h1M50 43.5h1M4 44.5h1M6 44.5h1M16 44.5h1M22 44.5h1M105 44.5h1M17 45.5h1M34 45.5h1M59 45.5h1M65 45.5h1M76 45.5h1M112 45.5h1M12 46.5h1M22 46.5h1M61 46.5h1M8 47.5h1M15 47.5h1M67 47.5h1M74 47.5h1M5 48.5h2M21 48.5h1M29 48.5h1M35 48.5h1M40 48.5h1M97 48.5h1M21 49.5h1M39 49.5h2M61 49.5h1M62 50.5h1M77 50.5h1M0 51.5h1M7 51.5h1M14 51.5h1M35 51.5h1M53 51.5h1M55 51.5h1M37 52.5h2M77 52.5h1M110 52.5h1M41 53.5h1M102 53.5h1M96 54.5h1M17 55.5h1M43 55.5h1M46 55.5h1M81 55.5h1M85 55.5h1M97 55.5h1M38 56.5h1M45 56.5h1M100 56.5h1M77 57.5h1M71 58.5h1M78 58.5h1M87 58.5h1M93 58.5h1M105 58.5h1M38 59.5h2M43 59.5h1M49 59.5h1M109 59.5h2M37 60.5h1M39 60.5h1M43 60.5h1M85 60.5h2M95 60.5h1M111 60.5h1M40 61.5h1M98 61.5h1M40 62.5h1M43 62.5h1M111 62.5h1M18 66.5h1M28 66.5h1M5 67.5h1M10 67.5h1M52 67.5h1M54 67.5h1M52 68.5h1M55 68.5h1M14 69.5h1M60 69.5h1M64 69.5h1M103 69.5h1M9 70.5h1M17 70.5h1M54 70.5h1M82 70.5h1M97 70.5h1M103 70.5h2M108 70.5h1M8 71.5h1M47 71.5h1M50 71.5h1M55 71.5h1M10 72.5h1M59 72.5h1M68 72.5h1M70 72.5h2M92 72.5h1M109 72.5h1M6 73.5h1M54 73.5h1M70 73.5h2M8 74.5h1M60 74.5h1M82 74.5h1M98 74.5h1M8 75.5h1M50 75.5h1M11 76.5h1M53 76.5h1M61 76.5h1M111 76.5h1M60 77.5h1M65 77.5h1M103 77.5h2M8 78.5h1M50 78.5h1M53 78.5h1M66 78.5h1M98 78.5h1M101 78.5h1M51 79.5h1M96 79.5h1M98 79.5h3M59 80.5h1M64 80.5h1M66 80.5h1M72 80.5h1M81 80.5h1M4 81.5h1M9 81.5h1M54 81.5h2M68 81.5h1M96 81.5h1M102 81.5h1M66 82.5h1M68 82.5h1M74 82.5h1M96 82.5h1M98 82.5h1M6 83.5h1M67 83.5h1M70 83.5h1M87 83.5h1M101 83.5h1M109 83.5h1M4 84.5h1M10 84.5h1M55 84.5h1M61 84.5h1M71 84.5h1M94 84.5h1M101 84.5h1M49 85.5h1M58 85.5h1M64 85.5h1M71 85.5h1M90 85.5h1M96 85.5h1M55 86.5h1M58 86.5h1M79 86.5h1M102 86.5h1M4 87.5h1M9 87.5h1M12 87.5h1M55 87.5h1M59 87.5h1M62 87.5h1M64 87.5h1M70 87.5h1M104 87.5h1M14 88.5h1M47 88.5h1M55 88.5h1M96 88.5h1M99 88.5h1M101 88.5h1M103 88.5h1M57 89.5h1M59 89.5h1M105 89.5h1"/><path stroke="#8f85ce" d="M50 0.5h1M99 0.5h1M51 1.5h1M39 2.5h1M53 2.5h1M105 3.5h1M9 4.5h1M16 4.5h1M27 4.5h1M67 4.5h1M106 4.5h1M109 4.5h1M4 5.5h1M23 5.5h1M34 5.5h1M36 5.5h1M31 6.5h1M53 6.5h1M61 6.5h1M98 6.5h1M1 7.5h1M5 7.5h1M9 7.5h1M35 7.5h1M70 7.5h1M72 7.5h1M76 7.5h1M106 7.5h1M5 8.5h1M11 8.5h1M23 8.5h1M27 8.5h1M47 8.5h1M69 8.5h1M82 8.5h1M6 9.5h1M28 9.5h1M93 9.5h1M6 10.5h1M15 10.5h1M19 10.5h1M67 10.5h2M75 10.5h1M77 10.5h1M107 10.5h1M23 11.5h1M33 11.5h3M68 11.5h1M82 11.5h1M14 12.5h1M16 12.5h2M19 12.5h1M45 12.5h1M59 12.5h1M20 13.5h1M32 13.5h1M81 13.5h1M3 14.5h1M9 14.5h1M61 14.5h1M96 14.5h1M109 14.5h1M24 15.5h1M47 15.5h1M61 15.5h1M109 15.5h1M8 16.5h1M20 16.5h2M24 16.5h1M36 16.5h1M51 16.5h1M70 16.5h1M9 17.5h1M63 17.5h1M74 17.5h1M97 17.5h1M106 17.5h1M0 18.5h1M15 18.5h1M25 18.5h1M49 18.5h1M62 18.5h1M67 18.5h1M18 19.5h1M22 19.5h2M29 19.5h1M63 19.5h1M7 20.5h1M24 20.5h1M28 20.5h1M32 20.5h1M10 21.5h1M16 21.5h1M23 21.5h1M37 21.5h1M61 21.5h1M63 21.5h1M67 21.5h1M76 21.5h1M5 22.5h1M12 22.5h1M20 22.5h1M61 22.5h2M70 22.5h1M81 22.5h1M106 22.5h1M110 22.5h1M7 23.5h1M24 23.5h1M74 23.5h1M78 23.5h1M35 25.5h1M37 25.5h1M62 25.5h1M81 25.5h1M16 26.5h1M19 26.5h2M111 26.5h1M20 27.5h1M24 27.5h1M32 27.5h1M35 27.5h1M47 27.5h1M8 28.5h2M11 28.5h1M15 28.5h1M60 28.5h1M67 28.5h1M81 28.5h1M93 28.5h1M100 28.5h1M6 29.5h1M25 29.5h2M59 29.5h1M75 29.5h1M94 29.5h1M109 29.5h1M111 29.5h1M8 30.5h1M35 30.5h1M49 30.5h1M0 31.5h1M9 31.5h1M70 31.5h1M107 31.5h1M8 32.5h1M70 32.5h1M100 32.5h1M112 32.5h1M14 33.5h2M28 33.5h1M33 33.5h1M75 33.5h1M79 33.5h1M0 34.5h1M3 34.5h1M17 34.5h1M45 34.5h1M71 34.5h1M10 35.5h1M17 35.5h1M26 35.5h1M62 35.5h1M23 36.5h1M30 36.5h1M34 36.5h2M47 36.5h1M71 36.5h1M75 36.5h1M80 36.5h1M82 36.5h1M111 36.5h1M14 37.5h2M30 37.5h2M106 37.5h1M3 38.5h1M6 38.5h1M9 38.5h1M20 38.5h1M48 38.5h1M70 38.5h1M94 38.5h1M32 39.5h1M35 39.5h1M62 39.5h1M68 39.5h1M17 40.5h1M19 40.5h1M26 40.5h1M77 41.5h1M82 41.5h1M4 42.5h1M23 42.5h1M39 42.5h1M61 42.5h1M77 42.5h1M6 43.5h1M14 43.5h2M47 43.5h1M63 43.5h1M87 43.5h1M31 44.5h1M52 45.5h1M82 45.5h1M95 45.5h1M106 45.5h1M5 46.5h1M23 46.5h1M29 46.5h2M50 46.5h1M63 46.5h1M72 46.5h1M81 46.5h1M87 46.5h1M94 46.5h1M0 47.5h1M2 47.5h1M9 47.5h2M14 47.5h1M20 47.5h1M32 47.5h1M49 47.5h2M60 47.5h1M69 47.5h1M96 47.5h1M8 48.5h1M24 48.5h1M41 48.5h1M45 48.5h1M71 48.5h1M89 48.5h1M25 49.5h1M34 49.5h1M87 49.5h1M100 49.5h1M3 50.5h1M8 50.5h1M14 50.5h1M22 50.5h1M53 50.5h1M67 50.5h1M109 50.5h1M15 51.5h1M17 51.5h1M21 51.5h1M28 51.5h1M32 51.5h1M42 51.5h1M70 51.5h2M87 51.5h1M86 52.5h1M90 52.5h1M107 52.5h1M86 53.5h1M94 53.5h1M100 53.5h1M112 53.5h1M43 54.5h1M45 54.5h1M93 54.5h1M112 54.5h1M34 55.5h1M90 55.5h1M98 55.5h1M112 55.5h1M84 56.5h1M92 56.5h1M95 56.5h1M109 56.5h1M44 57.5h1M70 58.5h1M90 58.5h1M112 58.5h1M20 59.5h1M40 59.5h1M80 59.5h1M87 60.5h1M35 61.5h1M44 61.5h1M100 61.5h1M104 61.5h1M35 62.5h1M37 62.5h1M28 63.5h1M32 63.5h1M44 63.5h1M58 63.5h1M35 66.5h1M49 66.5h1M9 67.5h1M12 67.5h1M47 67.5h1M53 67.5h1M55 67.5h1M60 67.5h1M70 67.5h1M94 67.5h1M103 67.5h1M112 67.5h1M8 68.5h1M51 68.5h1M56 68.5h1M63 68.5h1M99 68.5h1M105 68.5h1M17 69.5h1M47 69.5h1M54 69.5h1M69 69.5h1M80 69.5h1M93 69.5h1M95 69.5h1M105 69.5h1M4 70.5h1M57 71.5h2M60 71.5h1M66 71.5h1M82 71.5h1M99 71.5h1M5 72.5h1M7 72.5h1M13 72.5h1M53 72.5h1M61 72.5h1M67 72.5h1M94 72.5h2M104 72.5h1M4 73.5h1M13 73.5h1M15 73.5h1M44 73.5h1M47 73.5h1M53 73.5h1M63 73.5h3M100 73.5h1M62 74.5h1M69 74.5h1M97 74.5h1M102 74.5h1M107 74.5h1M55 75.5h1M65 75.5h1M81 75.5h1M99 75.5h1M102 75.5h2M1 76.5h1M47 76.5h1M49 76.5h1M99 76.5h1M102 76.5h1M10 77.5h1M47 77.5h1M49 77.5h1M61 77.5h1M59 78.5h2M63 78.5h1M97 78.5h1M104 78.5h2M55 79.5h1M59 79.5h2M104 79.5h1M12 80.5h1M15 80.5h1M43 80.5h1M52 80.5h1M58 80.5h1M61 80.5h1M69 80.5h1M78 80.5h1M104 80.5h1M6 81.5h1M63 81.5h1M65 81.5h1M110 81.5h1M4 82.5h1M60 82.5h2M69 82.5h2M101 82.5h1M48 83.5h1M52 83.5h2M58 83.5h1M63 83.5h1M69 83.5h1M78 83.5h1M56 84.5h1M64 84.5h1M70 84.5h1M78 84.5h1M81 84.5h1M104 84.5h1M11 85.5h1M51 85.5h2M62 85.5h1M74 85.5h1M78 85.5h1M97 85.5h1M104 85.5h1M6 86.5h1M51 86.5h1M68 86.5h1M99 86.5h1M104 86.5h1M51 87.5h1M54 87.5h1M100 87.5h1M5 88.5h1M10 88.5h1M15 88.5h1M49 88.5h1M84 88.5h1M95 88.5h1M106 88.5h1M54 89.5h1M84 89.5h1M97 89.5h2M103 89.5h1M110 89.5h1"/><path stroke="#a499d6" d="M7 0.5h1M17 0.5h1M41 0.5h1M62 0.5h2M78 0.5h1M1 1.5h1M23 1.5h1M39 1.5h3M59 1.5h1M69 1.5h1M18 2.5h2M24 2.5h1M64 2.5h1M69 2.5h1M77 2.5h1M104 2.5h1M3 3.5h1M18 3.5h1M22 3.5h1M58 3.5h1M61 3.5h1M63 3.5h1M69 3.5h1M112 3.5h1M0 4.5h1M11 4.5h1M18 4.5h1M25 4.5h2M47 4.5h1M62 4.5h1M68 4.5h1M71 4.5h1M25 5.5h2M28 5.5h1M41 5.5h1M81 5.5h1M83 5.5h1M6 6.5h1M8 6.5h1M23 6.5h1M54 6.5h2M62 6.5h1M76 6.5h1M82 6.5h1M26 7.5h1M34 7.5h1M1 8.5h1M10 8.5h1M45 8.5h1M49 8.5h2M73 8.5h1M75 8.5h1M11 9.5h1M42 9.5h1M105 9.5h1M111 9.5h1M5 10.5h1M7 10.5h1M16 10.5h1M27 10.5h1M39 10.5h1M45 10.5h1M50 10.5h1M61 10.5h1M63 10.5h1M69 10.5h1M76 10.5h1M110 10.5h1M0 11.5h1M9 11.5h1M19 11.5h1M31 11.5h1M61 11.5h1M95 11.5h1M1 12.5h1M5 12.5h1M8 12.5h1M20 12.5h1M26 12.5h1M76 12.5h1M94 12.5h1M100 12.5h1M6 13.5h1M14 13.5h1M35 13.5h1M71 13.5h1M107 13.5h1M16 14.5h1M24 14.5h1M32 14.5h1M3 15.5h1M14 15.5h2M19 15.5h1M28 15.5h1M68 15.5h1M75 15.5h1M97 15.5h1M108 15.5h1M16 16.5h1M30 16.5h1M38 16.5h1M45 16.5h1M49 16.5h1M69 16.5h1M81 16.5h1M99 16.5h2M109 16.5h1M8 17.5h1M12 17.5h1M21 17.5h1M32 17.5h1M34 17.5h1M37 17.5h1M48 17.5h1M4 18.5h1M50 18.5h1M69 18.5h1M25 19.5h1M27 19.5h1M48 19.5h1M108 19.5h1M112 19.5h1M0 20.5h1M19 20.5h1M30 20.5h2M34 20.5h1M42 20.5h1M45 20.5h1M55 20.5h1M67 20.5h1M0 21.5h1M11 21.5h1M19 21.5h1M30 21.5h1M32 21.5h1M47 21.5h1M52 21.5h1M70 21.5h2M77 21.5h1M100 21.5h1M4 22.5h1M18 22.5h1M32 22.5h1M36 22.5h1M47 22.5h1M71 22.5h1M94 22.5h1M101 22.5h1M112 22.5h1M13 23.5h1M26 23.5h1M28 23.5h1M34 23.5h1M36 23.5h1M62 23.5h1M65 23.5h1M105 23.5h1M109 23.5h1M8 24.5h1M25 24.5h1M48 24.5h2M72 24.5h1M97 24.5h1M105 24.5h1M2 25.5h1M23 25.5h1M25 25.5h1M71 25.5h1M109 25.5h1M111 25.5h1M7 26.5h1M10 26.5h1M15 26.5h1M24 26.5h1M30 26.5h1M34 26.5h1M36 26.5h1M49 26.5h1M63 26.5h1M66 26.5h1M69 26.5h1M97 26.5h1M100 26.5h1M107 26.5h1M0 27.5h1M7 27.5h1M9 27.5h1M19 27.5h1M54 27.5h1M61 27.5h1M69 27.5h1M75 27.5h1M82 27.5h1M110 27.5h2M10 28.5h1M12 28.5h1M22 28.5h1M25 28.5h1M27 28.5h2M30 28.5h1M32 28.5h1M69 28.5h1M71 28.5h1M112 28.5h1M5 29.5h1M19 29.5h1M32 29.5h1M47 29.5h1M101 29.5h1M108 29.5h1M5 30.5h1M34 30.5h1M52 30.5h1M61 30.5h1M68 30.5h1M74 30.5h1M110 30.5h1M4 31.5h1M22 31.5h2M13 32.5h1M77 32.5h1M110 32.5h1M6 33.5h1M20 33.5h1M51 33.5h1M81 33.5h1M107 33.5h1M5 34.5h1M25 34.5h1M61 34.5h1M70 34.5h1M77 34.5h1M107 34.5h1M1 35.5h1M5 35.5h1M36 35.5h1M46 35.5h1M67 35.5h2M81 35.5h1M87 35.5h1M94 35.5h1M99 35.5h1M10 36.5h1M25 36.5h1M28 36.5h1M54 36.5h1M1 37.5h1M4 37.5h1M17 37.5h2M62 37.5h1M72 37.5h1M94 37.5h1M109 37.5h1M10 38.5h1M32 38.5h1M51 38.5h1M107 38.5h1M109 38.5h1M2 39.5h1M8 39.5h1M28 39.5h1M30 39.5h1M33 39.5h1M53 39.5h1M67 39.5h1M87 39.5h1M100 39.5h1M24 40.5h1M29 40.5h1M33 40.5h1M75 40.5h2M107 40.5h1M110 40.5h1M1 41.5h1M4 41.5h1M6 41.5h1M8 41.5h1M12 41.5h1M16 41.5h1M18 41.5h2M26 41.5h1M32 41.5h1M34 41.5h1M68 41.5h1M14 42.5h1M17 42.5h1M21 42.5h2M28 42.5h2M32 42.5h1M71 42.5h1M92 42.5h1M98 42.5h1M1 43.5h1M8 43.5h2M19 43.5h1M24 43.5h1M61 43.5h1M76 43.5h2M92 43.5h1M96 43.5h1M110 43.5h1M9 44.5h1M11 44.5h1M21 44.5h1M52 44.5h1M61 44.5h1M74 44.5h2M19 45.5h2M49 45.5h1M72 45.5h1M104 45.5h1M0 46.5h1M9 46.5h1M32 46.5h1M49 46.5h1M64 46.5h1M73 46.5h1M106 46.5h1M7 47.5h1M12 47.5h1M22 47.5h1M34 47.5h2M38 47.5h1M47 47.5h1M66 47.5h1M70 47.5h1M106 47.5h1M23 48.5h1M25 48.5h1M47 48.5h1M49 48.5h1M75 48.5h1M78 48.5h1M82 48.5h1M110 48.5h1M24 49.5h1M28 49.5h1M44 49.5h1M46 49.5h1M97 49.5h1M17 50.5h1M24 50.5h1M26 50.5h2M39 50.5h1M50 50.5h1M61 50.5h1M66 50.5h1M96 50.5h1M2 51.5h1M19 51.5h1M39 51.5h1M57 51.5h1M63 51.5h1M100 51.5h1M3 52.5h1M15 52.5h1M45 52.5h1M106 52.5h1M111 52.5h1M19 53.5h1M39 53.5h1M47 53.5h1M79 53.5h1M84 53.5h1M0 54.5h1M36 54.5h1M39 54.5h1M71 54.5h1M85 54.5h1M106 54.5h1M110 54.5h1M36 55.5h1M41 55.5h2M45 55.5h1M82 55.5h1M0 56.5h1M35 56.5h1M71 56.5h1M77 56.5h1M85 56.5h1M93 56.5h1M110 56.5h1M76 57.5h1M82 57.5h1M92 57.5h1M103 57.5h1M34 58.5h1M37 58.5h1M41 58.5h1M72 58.5h1M88 58.5h1M109 58.5h1M0 59.5h1M85 59.5h1M93 59.5h1M105 59.5h2M19 60.5h2M38 60.5h1M92 60.5h1M97 60.5h1M106 60.5h1M19 61.5h1M81 61.5h1M94 61.5h1M106 61.5h1M111 61.5h1M0 62.5h1M71 62.5h2M78 62.5h2M104 62.5h2M19 63.5h1M37 63.5h1M40 63.5h1M54 63.5h1M104 63.5h1M21 64.5h1M29 64.5h1M38 64.5h1M32 65.5h1M108 65.5h1M59 67.5h1M63 67.5h2M80 67.5h1M84 67.5h1M10 68.5h1M17 68.5h1M102 68.5h1M49 69.5h1M57 69.5h1M84 69.5h1M94 69.5h1M101 69.5h2M109 69.5h1M5 70.5h1M58 70.5h1M60 70.5h1M81 70.5h1M94 70.5h1M9 71.5h1M51 71.5h1M103 71.5h2M110 71.5h1M6 72.5h1M72 72.5h1M81 72.5h1M99 72.5h1M103 72.5h1M112 72.5h1M10 73.5h1M49 73.5h1M51 73.5h1M58 73.5h1M69 73.5h1M72 73.5h1M92 73.5h1M103 73.5h1M109 73.5h1M4 74.5h2M12 74.5h1M14 74.5h1M47 74.5h2M68 74.5h1M91 74.5h1M112 74.5h1M4 75.5h1M15 75.5h1M52 75.5h1M56 75.5h1M79 75.5h1M92 75.5h1M94 75.5h1M106 75.5h1M8 76.5h2M13 76.5h1M50 76.5h1M54 76.5h2M58 76.5h1M63 76.5h1M66 76.5h1M71 76.5h1M79 76.5h1M94 76.5h1M96 76.5h1M109 76.5h1M1 77.5h1M3 77.5h1M55 77.5h1M59 77.5h1M97 77.5h1M108 77.5h2M4 78.5h1M58 78.5h1M64 78.5h1M70 78.5h1M80 78.5h1M62 79.5h1M68 79.5h1M0 80.5h1M51 80.5h1M68 80.5h1M92 80.5h1M98 80.5h1M105 80.5h2M109 80.5h1M111 80.5h1M8 81.5h1M15 81.5h1M59 81.5h2M62 81.5h1M95 81.5h1M10 82.5h1M47 82.5h2M53 82.5h1M93 82.5h1M109 82.5h2M4 83.5h1M8 83.5h1M47 83.5h1M49 83.5h2M64 83.5h1M104 83.5h1M0 84.5h1M53 84.5h1M66 84.5h2M74 84.5h1M96 84.5h1M98 84.5h1M56 85.5h2M68 85.5h1M79 85.5h1M7 86.5h1M14 86.5h1M84 86.5h1M101 86.5h1M3 87.5h1M13 87.5h1M66 87.5h1M69 87.5h1M73 87.5h1M89 87.5h1M99 87.5h1M103 87.5h1M6 88.5h1M50 88.5h1M59 88.5h1M72 88.5h1M86 88.5h1M9 89.5h1M13 89.5h1M45 89.5h1M53 89.5h1M58 89.5h1M65 89.5h1M77 89.5h2M100 89.5h1"/><path stroke="#beb2dd" d="M38 0.5h1M44 0.5h1M56 0.5h1M65 0.5h1M83 0.5h1M100 0.5h1M103 0.5h1M17 1.5h1M27 1.5h1M37 1.5h1M65 1.5h1M79 1.5h2M3 2.5h1M10 2.5h1M59 2.5h1M68 2.5h1M70 2.5h1M97 2.5h1M100 2.5h1M105 2.5h1M112 2.5h1M24 3.5h1M27 3.5h1M81 3.5h1M84 3.5h1M100 3.5h1M1 4.5h1M3 4.5h1M36 4.5h1M45 4.5h1M49 4.5h2M105 4.5h1M107 4.5h1M5 5.5h1M20 5.5h1M29 5.5h1M31 5.5h1M35 5.5h1M37 5.5h1M45 5.5h1M50 5.5h1M63 5.5h1M67 5.5h1M70 5.5h1M75 5.5h1M77 5.5h1M100 5.5h1M0 6.5h1M2 6.5h1M12 6.5h1M24 6.5h1M27 6.5h1M48 6.5h2M66 6.5h1M95 6.5h1M99 6.5h1M104 6.5h1M29 7.5h1M38 7.5h1M48 7.5h1M68 7.5h1M75 7.5h1M82 7.5h1M110 7.5h1M12 8.5h1M19 8.5h1M30 8.5h1M58 8.5h1M60 8.5h1M81 8.5h1M97 8.5h1M101 8.5h1M106 8.5h1M109 8.5h1M111 8.5h1M10 9.5h1M16 9.5h1M24 9.5h1M27 9.5h1M32 9.5h1M40 9.5h1M62 9.5h1M71 9.5h1M76 9.5h1M112 9.5h1M11 10.5h1M22 10.5h1M28 10.5h1M52 10.5h1M98 10.5h1M104 10.5h1M3 11.5h1M5 11.5h2M12 11.5h1M24 11.5h2M32 11.5h1M40 11.5h1M70 11.5h1M74 11.5h1M77 11.5h2M107 11.5h1M109 11.5h1M9 12.5h1M12 12.5h1M23 12.5h1M31 12.5h2M36 12.5h1M50 12.5h1M62 12.5h1M67 12.5h1M82 12.5h1M95 12.5h1M98 12.5h1M106 12.5h1M108 12.5h1M3 13.5h1M9 13.5h1M21 13.5h2M30 13.5h1M77 13.5h1M101 13.5h1M106 13.5h1M7 14.5h2M14 14.5h1M19 14.5h1M30 14.5h1M34 14.5h2M46 14.5h1M49 14.5h1M10 15.5h1M13 15.5h1M36 15.5h2M73 15.5h1M78 15.5h1M94 15.5h1M96 15.5h1M98 15.5h1M100 15.5h2M7 16.5h1M28 16.5h1M32 16.5h2M48 16.5h1M61 16.5h1M68 16.5h1M75 16.5h1M78 16.5h1M94 16.5h1M96 16.5h1M26 17.5h1M31 17.5h1M33 17.5h1M40 17.5h1M50 17.5h1M70 17.5h1M75 17.5h1M98 17.5h1M18 18.5h1M21 18.5h1M27 18.5h1M34 18.5h1M37 18.5h1M74 18.5h2M94 18.5h1M110 18.5h1M112 18.5h1M0 19.5h2M3 19.5h1M6 19.5h1M14 19.5h1M34 19.5h1M51 19.5h1M77 19.5h1M81 19.5h1M5 20.5h1M13 20.5h1M16 20.5h1M22 20.5h1M25 20.5h1M47 20.5h1M61 20.5h1M68 20.5h1M111 20.5h1M25 21.5h1M29 21.5h1M33 21.5h1M48 21.5h1M75 21.5h1M95 21.5h1M9 22.5h1M26 22.5h2M29 22.5h1M56 22.5h2M1 23.5h1M17 23.5h1M20 23.5h1M32 23.5h1M61 23.5h1M94 23.5h1M112 23.5h1M0 24.5h1M5 24.5h1M14 24.5h1M28 24.5h1M34 24.5h1M43 24.5h1M69 24.5h1M84 24.5h1M106 24.5h1M109 24.5h1M10 25.5h1M12 25.5h1M17 25.5h1M27 25.5h2M30 25.5h2M69 25.5h1M107 25.5h1M12 26.5h1M22 26.5h1M26 26.5h1M32 26.5h1M47 26.5h1M68 26.5h1M22 27.5h2M31 27.5h1M53 27.5h1M58 27.5h1M60 27.5h1M90 27.5h1M14 28.5h1M26 28.5h1M39 28.5h1M89 28.5h1M2 29.5h1M10 29.5h1M13 29.5h1M16 29.5h1M18 29.5h1M27 29.5h1M30 29.5h1M44 29.5h1M71 29.5h1M84 29.5h1M106 29.5h1M112 29.5h1M0 30.5h1M10 30.5h1M16 30.5h1M20 30.5h1M27 30.5h1M63 30.5h1M72 30.5h1M81 30.5h1M105 30.5h1M112 30.5h1M18 31.5h1M62 31.5h1M67 31.5h1M71 31.5h1M87 31.5h1M90 31.5h1M95 31.5h1M3 32.5h1M6 32.5h1M10 32.5h1M12 32.5h1M24 32.5h1M59 32.5h1M68 32.5h1M71 32.5h1M92 32.5h4M101 32.5h1M5 33.5h1M8 33.5h1M25 33.5h1M27 33.5h1M29 33.5h1M32 33.5h1M53 33.5h1M86 33.5h1M109 33.5h1M6 34.5h1M11 34.5h1M23 34.5h1M29 34.5h1M31 34.5h2M112 34.5h1M7 35.5h1M12 35.5h1M21 35.5h1M27 35.5h1M32 35.5h1M74 35.5h1M76 35.5h2M93 35.5h1M9 36.5h1M20 36.5h1M26 36.5h1M46 36.5h1M49 36.5h1M56 36.5h1M61 36.5h3M65 36.5h1M70 36.5h1M86 36.5h1M106 36.5h1M108 36.5h1M11 37.5h1M28 37.5h2M32 37.5h1M75 37.5h1M77 37.5h1M92 37.5h1M4 38.5h1M7 38.5h1M21 38.5h2M31 38.5h1M36 38.5h1M45 38.5h1M81 38.5h2M7 39.5h1M16 39.5h2M34 39.5h1M39 39.5h1M45 39.5h1M49 39.5h1M84 39.5h1M93 39.5h2M21 40.5h1M28 40.5h1M30 40.5h1M34 40.5h1M58 40.5h1M63 40.5h1M72 40.5h1M9 41.5h1M15 41.5h1M29 41.5h1M39 41.5h1M53 41.5h1M60 41.5h1M86 41.5h1M92 41.5h1M109 41.5h1M10 42.5h1M69 42.5h1M93 42.5h1M101 42.5h1M112 42.5h1M7 43.5h1M17 43.5h1M70 43.5h1M111 43.5h1M8 44.5h1M13 44.5h1M20 44.5h1M30 44.5h1M69 44.5h1M71 44.5h1M78 44.5h1M109 44.5h1M7 45.5h1M10 45.5h1M40 45.5h1M44 45.5h1M47 45.5h1M50 45.5h1M53 45.5h1M69 45.5h1M77 45.5h1M87 45.5h1M96 45.5h1M100 45.5h1M108 45.5h1M36 46.5h1M40 46.5h1M75 46.5h1M105 46.5h1M11 47.5h1M28 47.5h1M53 47.5h1M63 47.5h1M79 47.5h1M84 47.5h1M88 47.5h1M0 48.5h1M20 48.5h1M27 48.5h1M38 48.5h1M51 48.5h1M63 48.5h2M66 48.5h1M74 48.5h1M101 48.5h1M0 49.5h1M45 49.5h1M48 49.5h1M56 49.5h3M71 49.5h1M5 50.5h1M20 50.5h1M30 50.5h1M44 50.5h1M49 50.5h1M63 50.5h1M69 50.5h1M71 50.5h1M100 50.5h1M103 50.5h1M112 50.5h1M23 51.5h1M33 51.5h1M36 51.5h1M40 51.5h1M69 51.5h1M77 51.5h1M94 51.5h1M34 52.5h2M40 52.5h1M72 52.5h1M81 52.5h2M85 52.5h1M91 52.5h2M94 52.5h1M98 52.5h1M109 52.5h1M21 53.5h1M87 53.5h1M97 53.5h1M106 53.5h1M109 53.5h1M44 54.5h1M74 54.5h1M78 54.5h1M90 54.5h1M100 54.5h1M18 55.5h1M35 55.5h1M38 55.5h1M103 55.5h3M108 55.5h1M20 56.5h1M112 56.5h1M35 57.5h1M47 57.5h1M84 57.5h1M93 57.5h1M100 57.5h1M1 58.5h1M39 58.5h1M86 58.5h1M95 58.5h1M18 59.5h1M28 59.5h1M31 59.5h1M47 59.5h1M73 59.5h1M76 59.5h1M81 59.5h1M98 59.5h1M101 59.5h1M1 60.5h1M32 60.5h1M73 60.5h1M89 60.5h1M98 60.5h1M102 60.5h1M105 60.5h1M1 61.5h1M70 61.5h2M85 61.5h3M18 62.5h2M21 62.5h1M109 62.5h1M4 63.5h1M8 63.5h1M84 63.5h1M99 63.5h1M0 64.5h1M14 64.5h1M23 64.5h1M54 64.5h1M58 64.5h1M78 64.5h1M89 64.5h1M9 65.5h1M18 65.5h1M34 65.5h1M45 65.5h1M69 65.5h1M0 66.5h1M3 66.5h1M68 66.5h2M50 67.5h1M72 67.5h1M82 67.5h1M88 67.5h1M93 67.5h1M101 67.5h1M105 67.5h1M81 68.5h1M84 68.5h1M112 68.5h1M8 69.5h1M58 69.5h1M63 69.5h1M65 69.5h1M74 69.5h1M90 69.5h1M98 69.5h1M1 70.5h1M6 70.5h3M50 70.5h2M56 70.5h1M62 70.5h1M68 70.5h1M48 71.5h1M68 71.5h2M71 71.5h2M78 71.5h1M112 71.5h1M14 72.5h2M47 72.5h1M52 72.5h1M54 72.5h1M66 72.5h1M78 72.5h1M102 72.5h1M0 73.5h1M17 73.5h1M67 73.5h1M99 73.5h1M108 73.5h1M9 74.5h1M11 74.5h1M54 74.5h2M66 74.5h1M72 74.5h1M13 75.5h1M53 75.5h1M59 75.5h1M64 75.5h1M96 75.5h1M105 75.5h1M109 75.5h1M112 75.5h1M4 76.5h1M52 76.5h1M56 76.5h2M67 76.5h1M101 76.5h1M103 76.5h1M4 77.5h1M11 77.5h1M57 77.5h1M63 77.5h1M69 77.5h1M75 77.5h1M95 77.5h2M99 77.5h1M112 77.5h1M5 78.5h1M7 78.5h1M10 78.5h1M49 78.5h1M95 78.5h1M102 78.5h2M0 79.5h1M4 79.5h1M7 79.5h1M9 79.5h1M50 79.5h1M52 79.5h1M58 79.5h1M70 79.5h1M77 79.5h1M95 79.5h1M3 80.5h1M6 80.5h1M9 80.5h1M14 80.5h1M17 80.5h1M50 80.5h1M70 80.5h1M93 80.5h1M100 80.5h1M10 81.5h1M64 81.5h1M70 81.5h1M80 81.5h2M105 81.5h1M15 82.5h1M39 82.5h1M52 82.5h1M54 82.5h1M63 82.5h1M75 82.5h1M82 82.5h1M10 83.5h2M39 83.5h1M51 83.5h1M77 83.5h1M80 83.5h1M98 83.5h1M103 83.5h1M112 83.5h1M11 84.5h2M52 84.5h1M65 84.5h1M97 84.5h1M102 84.5h1M105 84.5h1M17 85.5h1M48 85.5h1M63 85.5h1M65 85.5h1M67 85.5h1M84 85.5h1M95 85.5h1M98 85.5h1M101 85.5h1M103 85.5h1M106 85.5h1M8 86.5h1M38 86.5h1M46 86.5h1M52 86.5h1M61 86.5h1M66 86.5h1M69 86.5h1M103 86.5h1M11 87.5h1M53 87.5h1M95 87.5h1M106 87.5h2M109 87.5h1M4 88.5h1M40 88.5h1M58 88.5h1M65 88.5h1M74 88.5h1M112 88.5h1M3 89.5h1M11 89.5h1M14 89.5h1M47 89.5h1M49 89.5h1M56 89.5h1M63 89.5h2M68 89.5h1M90 89.5h1M96 89.5h1M106 89.5h1"/><path stroke="#d8cbe3" d="M0 0.5h1M18 0.5h1M45 0.5h1M52 0.5h1M60 0.5h2M94 0.5h1M108 0.5h2M112 0.5h1M13 1.5h1M19 1.5h1M49 1.5h1M60 1.5h1M70 1.5h1M93 1.5h1M96 1.5h1M0 2.5h1M20 2.5h1M79 2.5h1M82 2.5h1M91 2.5h1M107 2.5h1M9 3.5h1M20 3.5h2M41 3.5h1M46 3.5h1M67 3.5h1M89 3.5h1M8 4.5h1M12 4.5h1M41 4.5h1M63 4.5h1M69 4.5h2M76 4.5h1M81 4.5h1M40 5.5h1M47 5.5h1M99 5.5h1M103 5.5h1M111 5.5h1M1 6.5h1M14 6.5h2M17 6.5h1M25 6.5h1M29 6.5h1M33 6.5h3M37 6.5h1M39 6.5h1M45 6.5h1M59 6.5h1M71 6.5h1M92 6.5h1M109 6.5h1M12 7.5h1M15 7.5h2M18 7.5h1M21 7.5h2M27 7.5h2M30 7.5h1M33 7.5h1M47 7.5h1M52 7.5h1M66 7.5h1M78 7.5h1M84 7.5h1M102 7.5h1M108 7.5h2M0 8.5h1M7 8.5h1M14 8.5h2M40 8.5h1M67 8.5h1M95 8.5h1M25 9.5h2M29 9.5h1M34 9.5h2M45 9.5h1M58 9.5h1M89 9.5h1M107 9.5h1M23 10.5h1M30 10.5h1M55 10.5h1M66 10.5h1M74 10.5h1M101 10.5h1M103 10.5h1M105 10.5h1M7 11.5h1M17 11.5h1M29 11.5h2M51 11.5h1M57 11.5h1M63 11.5h1M108 11.5h1M2 12.5h1M11 12.5h1M39 12.5h1M48 12.5h1M61 12.5h1M65 12.5h1M68 12.5h1M71 12.5h1M97 12.5h1M99 12.5h1M2 13.5h1M7 13.5h1M15 13.5h1M24 13.5h1M27 13.5h2M36 13.5h1M41 13.5h3M49 13.5h1M54 13.5h1M98 13.5h1M6 14.5h1M15 14.5h1M18 14.5h1M23 14.5h1M27 14.5h3M41 14.5h1M67 14.5h1M70 14.5h2M75 14.5h1M105 14.5h1M23 15.5h1M25 15.5h1M31 15.5h1M33 15.5h1M53 15.5h1M5 16.5h2M35 16.5h1M64 16.5h1M79 16.5h1M101 16.5h1M6 17.5h1M11 17.5h1M18 17.5h1M28 17.5h1M30 17.5h1M45 17.5h1M62 17.5h1M71 17.5h1M77 17.5h1M81 17.5h2M101 17.5h1M13 18.5h1M29 18.5h1M31 18.5h2M39 18.5h1M65 18.5h1M82 18.5h1M97 18.5h2M105 18.5h1M111 18.5h1M8 19.5h1M11 19.5h1M13 19.5h1M15 19.5h1M28 19.5h1M30 19.5h1M32 19.5h2M42 19.5h1M46 19.5h1M49 19.5h1M64 19.5h1M70 19.5h1M75 19.5h1M84 19.5h1M107 19.5h1M6 20.5h1M29 20.5h1M33 20.5h1M50 20.5h1M60 20.5h1M62 20.5h1M75 20.5h1M79 20.5h1M3 21.5h1M7 21.5h1M13 21.5h1M21 21.5h1M27 21.5h2M31 21.5h1M34 21.5h1M60 21.5h1M64 21.5h1M68 21.5h1M82 21.5h1M96 21.5h1M22 22.5h1M35 22.5h1M37 22.5h1M50 22.5h1M63 22.5h1M78 22.5h1M95 22.5h1M99 22.5h1M109 22.5h1M0 23.5h1M8 23.5h1M16 23.5h1M29 23.5h2M55 23.5h1M59 23.5h1M92 23.5h1M110 23.5h1M2 24.5h1M9 24.5h1M20 24.5h1M24 24.5h1M31 24.5h1M35 24.5h1M39 24.5h1M63 24.5h1M77 24.5h1M101 24.5h1M56 25.5h2M61 25.5h1M66 25.5h1M73 25.5h2M96 25.5h1M106 25.5h1M110 25.5h1M13 26.5h1M27 26.5h2M53 26.5h1M81 26.5h1M95 26.5h1M109 26.5h1M15 27.5h1M25 27.5h1M29 27.5h1M36 27.5h1M44 27.5h1M62 27.5h1M74 27.5h1M13 28.5h1M21 28.5h1M23 28.5h2M45 28.5h1M53 28.5h1M74 28.5h1M108 28.5h2M0 29.5h1M11 29.5h1M17 29.5h1M34 29.5h1M49 29.5h1M51 29.5h1M62 29.5h2M70 29.5h1M87 29.5h1M11 30.5h1M18 30.5h2M26 30.5h1M31 30.5h1M33 30.5h1M64 30.5h1M71 30.5h1M98 30.5h3M3 31.5h1M5 31.5h1M26 31.5h2M29 31.5h3M45 31.5h1M49 31.5h1M52 31.5h1M59 31.5h1M77 31.5h1M14 32.5h1M16 32.5h1M21 32.5h1M23 32.5h1M34 32.5h1M36 32.5h1M49 32.5h2M66 32.5h1M72 32.5h2M82 32.5h1M4 33.5h1M11 33.5h1M17 33.5h1M21 33.5h1M36 33.5h1M61 33.5h1M67 33.5h1M72 33.5h2M90 33.5h1M96 33.5h1M101 33.5h1M1 34.5h1M4 34.5h1M8 34.5h1M10 34.5h1M27 34.5h1M41 34.5h1M48 34.5h1M50 34.5h1M62 34.5h1M65 34.5h1M67 34.5h1M69 34.5h1M94 34.5h1M97 34.5h1M109 34.5h1M111 34.5h1M0 35.5h1M4 35.5h1M19 35.5h1M22 35.5h1M24 35.5h1M28 35.5h4M33 35.5h1M40 35.5h1M48 35.5h1M96 35.5h1M110 35.5h1M17 36.5h1M19 36.5h1M32 36.5h1M48 36.5h1M50 36.5h1M53 36.5h1M67 36.5h1M72 36.5h2M76 36.5h1M95 36.5h1M100 36.5h1M110 36.5h1M47 37.5h1M50 37.5h1M55 37.5h1M58 37.5h1M81 37.5h2M89 37.5h1M95 37.5h1M11 38.5h1M15 38.5h1M25 38.5h4M58 38.5h2M97 38.5h1M100 38.5h1M18 39.5h1M22 39.5h1M24 39.5h1M27 39.5h1M44 39.5h1M50 39.5h1M73 39.5h1M76 39.5h2M90 39.5h2M3 40.5h1M6 40.5h1M8 40.5h1M10 40.5h1M12 40.5h1M32 40.5h1M50 40.5h1M69 40.5h1M73 40.5h1M77 40.5h1M81 40.5h1M86 40.5h1M98 40.5h1M0 41.5h1M5 41.5h1M11 41.5h1M14 41.5h1M24 41.5h2M36 41.5h1M42 41.5h1M47 41.5h1M49 41.5h2M63 41.5h1M65 41.5h1M76 41.5h1M8 42.5h2M31 42.5h1M47 42.5h1M55 42.5h1M57 42.5h1M70 42.5h1M72 42.5h1M100 42.5h1M105 42.5h2M110 42.5h1M11 43.5h1M28 43.5h1M33 43.5h1M49 43.5h1M62 43.5h1M68 43.5h1M75 43.5h1M94 43.5h1M109 43.5h1M7 44.5h1M43 44.5h1M47 44.5h1M50 44.5h2M68 44.5h1M108 44.5h1M112 44.5h1M0 45.5h1M8 45.5h1M11 45.5h1M13 45.5h2M42 45.5h1M48 45.5h1M63 45.5h1M67 45.5h1M78 45.5h1M103 45.5h1M111 45.5h1M1 46.5h1M4 46.5h1M14 46.5h1M24 46.5h1M26 46.5h1M28 46.5h1M35 46.5h1M37 46.5h1M67 46.5h1M78 46.5h1M109 46.5h1M5 47.5h1M18 47.5h1M41 47.5h2M44 47.5h2M51 47.5h1M59 47.5h1M72 47.5h1M75 47.5h1M107 47.5h1M9 48.5h1M11 48.5h1M17 48.5h1M69 48.5h1M73 48.5h1M81 48.5h1M84 48.5h1M98 48.5h1M103 48.5h1M106 48.5h1M108 48.5h1M8 49.5h1M11 49.5h1M16 49.5h1M19 49.5h2M29 49.5h1M37 49.5h1M52 49.5h1M60 49.5h1M74 49.5h1M82 49.5h1M88 49.5h1M92 49.5h1M104 49.5h1M112 49.5h1M1 50.5h1M6 50.5h1M15 50.5h1M19 50.5h1M33 50.5h2M47 50.5h1M55 50.5h1M60 50.5h1M70 50.5h1M78 50.5h1M89 50.5h1M104 50.5h2M1 51.5h1M34 51.5h1M44 51.5h4M54 51.5h1M60 51.5h1M76 51.5h1M80 51.5h2M93 51.5h1M97 51.5h1M104 51.5h1M107 51.5h1M41 52.5h1M43 52.5h1M84 52.5h1M101 52.5h1M103 52.5h1M108 52.5h1M3 53.5h1M37 53.5h1M81 53.5h1M85 53.5h1M90 53.5h2M110 53.5h1M28 54.5h1M32 54.5h1M38 54.5h1M83 54.5h1M88 54.5h1M98 54.5h1M105 54.5h1M28 55.5h1M99 55.5h1M1 56.5h1M41 56.5h1M81 56.5h1M97 56.5h1M106 56.5h1M111 56.5h1M1 57.5h1M17 57.5h1M24 57.5h1M30 57.5h1M42 57.5h1M46 57.5h1M72 57.5h1M79 57.5h2M83 57.5h1M97 57.5h1M99 57.5h1M102 57.5h1M104 57.5h1M106 57.5h1M108 57.5h1M19 58.5h1M38 58.5h1M45 58.5h1M101 58.5h1M103 58.5h2M17 59.5h1M19 59.5h1M22 59.5h2M42 59.5h1M70 59.5h1M94 59.5h1M99 59.5h1M17 60.5h1M35 60.5h1M40 60.5h1M45 60.5h1M53 60.5h1M72 60.5h1M93 60.5h2M108 60.5h1M17 61.5h1M20 61.5h1M43 61.5h1M78 61.5h1M89 61.5h1M24 62.5h1M75 62.5h1M90 62.5h1M92 62.5h1M100 62.5h1M110 62.5h1M2 63.5h1M11 63.5h2M22 63.5h1M45 63.5h1M66 63.5h1M69 63.5h1M87 63.5h1M101 63.5h1M3 64.5h1M18 64.5h1M43 64.5h1M68 64.5h1M82 64.5h2M94 64.5h1M98 64.5h2M0 65.5h1M35 65.5h1M38 65.5h1M105 65.5h1M14 66.5h1M90 66.5h1M96 66.5h1M100 66.5h1M3 67.5h1M6 67.5h1M17 67.5h1M30 67.5h1M65 67.5h1M71 67.5h1M0 68.5h1M6 68.5h1M11 68.5h2M15 68.5h1M57 68.5h1M65 68.5h1M69 68.5h1M92 68.5h1M95 68.5h1M101 68.5h1M7 69.5h1M15 69.5h1M67 69.5h1M82 69.5h1M87 69.5h1M46 70.5h1M61 70.5h1M67 70.5h1M77 70.5h1M79 70.5h1M91 70.5h1M5 71.5h3M13 71.5h1M17 71.5h1M59 71.5h1M62 71.5h1M64 71.5h2M98 71.5h1M101 71.5h1M105 71.5h1M111 71.5h1M12 72.5h1M49 72.5h1M55 72.5h1M57 72.5h1M74 72.5h1M76 72.5h2M5 73.5h1M101 73.5h2M105 73.5h2M112 73.5h1M6 74.5h2M17 74.5h1M50 74.5h1M53 74.5h1M56 74.5h1M59 74.5h1M61 74.5h1M73 74.5h1M100 74.5h2M11 75.5h2M43 75.5h1M47 75.5h1M67 75.5h1M70 75.5h1M10 76.5h1M15 76.5h1M45 76.5h1M68 76.5h3M93 76.5h1M95 76.5h1M107 76.5h1M8 77.5h1M12 77.5h1M14 77.5h1M50 77.5h1M58 77.5h1M62 77.5h1M67 77.5h1M70 77.5h1M73 77.5h1M82 77.5h1M86 77.5h1M6 78.5h1M12 78.5h1M14 78.5h1M17 78.5h1M73 78.5h1M77 78.5h1M92 78.5h1M99 78.5h1M106 78.5h1M13 79.5h1M15 79.5h1M61 79.5h1M69 79.5h1M92 79.5h1M111 79.5h1M5 80.5h1M49 80.5h1M53 80.5h1M55 80.5h1M63 80.5h1M82 80.5h1M90 80.5h1M94 80.5h1M17 81.5h1M43 81.5h1M57 81.5h1M72 81.5h1M74 81.5h1M87 81.5h1M90 81.5h1M12 82.5h1M17 82.5h1M40 82.5h1M56 82.5h1M71 82.5h2M97 82.5h1M106 82.5h1M12 83.5h3M75 83.5h1M81 83.5h1M102 83.5h1M13 84.5h1M60 84.5h1M79 84.5h1M106 84.5h1M13 85.5h1M15 85.5h1M41 85.5h1M47 85.5h1M60 85.5h1M66 85.5h1M69 85.5h2M81 85.5h1M92 85.5h1M112 85.5h1M11 86.5h1M47 86.5h1M54 86.5h1M57 86.5h1M64 86.5h2M72 86.5h1M85 86.5h1M89 86.5h1M2 87.5h1M10 87.5h1M47 87.5h1M61 87.5h1M68 87.5h1M77 87.5h1M98 87.5h1M102 87.5h1M112 87.5h1M63 88.5h1M69 88.5h1M71 88.5h1M76 88.5h1M80 88.5h1M82 88.5h1M85 88.5h1M93 88.5h1M109 88.5h2M8 89.5h1M10 89.5h1M69 89.5h1M73 89.5h1M99 89.5h1"/><path stroke="#f2e4ea" d="M8 0.5h2M20 0.5h1M37 0.5h1M47 0.5h1M51 0.5h1M66 0.5h1M85 0.5h1M91 0.5h1M3 1.5h1M5 1.5h1M8 1.5h1M21 1.5h1M47 1.5h1M55 1.5h1M64 1.5h1M86 1.5h1M101 1.5h1M103 1.5h1M107 1.5h1M111 1.5h2M21 2.5h2M44 2.5h1M61 2.5h1M95 2.5h1M14 3.5h2M19 3.5h1M38 3.5h1M51 3.5h1M82 3.5h1M87 3.5h1M90 3.5h1M94 3.5h1M110 3.5h1M37 4.5h1M48 4.5h1M85 4.5h1M90 4.5h1M97 4.5h1M101 4.5h1M13 5.5h2M38 5.5h1M65 5.5h1M71 5.5h2M105 5.5h1M20 6.5h1M77 6.5h1M110 6.5h1M4 7.5h1M10 7.5h1M20 7.5h1M32 7.5h1M39 7.5h1M42 7.5h1M58 7.5h1M61 7.5h1M67 7.5h1M79 7.5h1M85 7.5h1M95 7.5h1M2 8.5h1M4 8.5h1M13 8.5h1M18 8.5h1M32 8.5h2M36 8.5h1M68 8.5h1M74 8.5h1M78 8.5h1M87 8.5h1M90 8.5h2M100 8.5h1M108 8.5h1M110 8.5h1M39 9.5h1M48 9.5h1M59 9.5h1M82 9.5h2M97 9.5h2M100 9.5h1M102 9.5h1M20 10.5h1M32 10.5h1M37 10.5h1M56 10.5h1M59 10.5h1M95 10.5h1M111 10.5h1M2 11.5h1M16 11.5h1M21 11.5h1M27 11.5h2M50 11.5h1M52 11.5h1M72 11.5h1M96 11.5h1M110 11.5h1M0 12.5h1M3 12.5h1M15 12.5h1M18 12.5h1M28 12.5h1M30 12.5h1M47 12.5h1M60 12.5h1M63 12.5h1M101 12.5h1M110 12.5h1M0 13.5h1M18 13.5h1M23 13.5h1M25 13.5h1M34 13.5h1M39 13.5h1M46 13.5h1M53 13.5h1M58 13.5h1M67 13.5h1M72 13.5h1M95 13.5h1M112 13.5h1M10 14.5h1M26 14.5h1M31 14.5h1M47 14.5h1M55 14.5h1M99 14.5h1M111 14.5h2M0 15.5h1M7 15.5h1M12 15.5h1M22 15.5h1M27 15.5h1M42 15.5h1M59 15.5h1M62 15.5h1M70 15.5h1M77 15.5h1M95 15.5h1M106 15.5h1M0 16.5h1M3 16.5h1M13 16.5h3M22 16.5h1M26 16.5h2M31 16.5h1M50 16.5h1M66 16.5h2M73 16.5h2M110 16.5h2M3 17.5h1M7 17.5h1M15 17.5h1M24 17.5h1M29 17.5h1M72 17.5h1M79 17.5h1M95 17.5h1M99 17.5h1M109 17.5h1M1 18.5h1M10 18.5h1M16 18.5h1M19 18.5h1M47 18.5h1M63 18.5h1M76 18.5h1M99 18.5h1M53 19.5h1M66 19.5h3M86 19.5h1M101 19.5h1M105 19.5h1M11 20.5h1M27 20.5h1M43 20.5h1M48 20.5h2M58 20.5h1M106 20.5h1M108 20.5h1M39 21.5h1M53 21.5h1M78 21.5h1M81 21.5h1M83 21.5h1M33 22.5h1M41 22.5h1M66 22.5h1M69 22.5h1M74 22.5h1M82 22.5h1M90 22.5h1M98 22.5h1M100 22.5h1M111 22.5h1M10 23.5h1M19 23.5h1M31 23.5h1M35 23.5h1M44 23.5h1M58 23.5h1M63 23.5h1M68 23.5h1M96 23.5h1M101 23.5h1M107 23.5h1M3 24.5h1M13 24.5h1M22 24.5h1M29 24.5h1M32 24.5h1M40 24.5h1M59 24.5h1M67 24.5h1M74 24.5h2M87 24.5h1M90 24.5h1M93 24.5h1M95 24.5h1M100 24.5h1M11 25.5h1M19 25.5h1M29 25.5h1M33 25.5h2M48 25.5h1M76 25.5h1M82 25.5h1M84 25.5h1M94 25.5h1M98 25.5h1M3 26.5h1M31 26.5h1M33 26.5h1M71 26.5h1M78 26.5h1M85 26.5h1M91 26.5h1M93 26.5h1M105 26.5h1M2 27.5h1M17 27.5h1M21 27.5h1M26 27.5h1M28 27.5h1M34 27.5h1M43 27.5h1M46 27.5h1M48 27.5h1M56 27.5h1M66 27.5h1M77 27.5h1M79 27.5h1M87 27.5h1M29 28.5h1M33 28.5h1M47 28.5h1M84 28.5h1M87 28.5h1M91 28.5h1M94 28.5h1M98 28.5h1M101 28.5h1M107 28.5h1M3 29.5h2M24 29.5h1M41 29.5h1M57 29.5h1M98 29.5h1M100 29.5h1M4 30.5h1M14 30.5h2M28 30.5h1M30 30.5h1M32 30.5h1M36 30.5h1M56 30.5h1M58 30.5h1M85 30.5h1M90 30.5h1M93 30.5h1M95 30.5h1M13 31.5h1M28 31.5h1M33 31.5h2M41 31.5h1M44 31.5h1M47 31.5h1M74 31.5h2M112 31.5h1M0 32.5h1M17 32.5h1M19 32.5h1M28 32.5h1M32 32.5h2M35 32.5h1M54 32.5h2M67 32.5h1M74 32.5h1M84 32.5h2M90 32.5h1M98 32.5h1M10 33.5h1M12 33.5h1M30 33.5h2M34 33.5h1M39 33.5h1M45 33.5h1M49 33.5h1M59 33.5h1M70 33.5h1M99 33.5h1M105 33.5h1M12 34.5h1M18 34.5h1M20 34.5h1M24 34.5h1M28 34.5h1M30 34.5h1M33 34.5h2M46 34.5h1M63 34.5h1M73 34.5h2M110 34.5h1M11 35.5h1M20 35.5h1M25 35.5h1M35 35.5h1M42 35.5h1M54 35.5h1M69 35.5h1M73 35.5h1M106 35.5h1M112 35.5h1M1 36.5h1M12 36.5h1M14 36.5h2M21 36.5h1M27 36.5h1M29 36.5h1M33 36.5h1M40 36.5h1M64 36.5h1M92 36.5h1M2 37.5h1M6 37.5h1M10 37.5h1M13 37.5h1M20 37.5h1M27 37.5h1M33 37.5h2M44 37.5h1M61 37.5h1M63 37.5h1M66 37.5h1M69 37.5h1M71 37.5h1M76 37.5h1M85 37.5h1M96 37.5h1M13 38.5h1M29 38.5h2M33 38.5h2M40 38.5h1M50 38.5h1M55 38.5h1M89 38.5h1M96 38.5h1M23 39.5h1M47 39.5h2M51 39.5h1M70 39.5h1M74 39.5h1M0 40.5h1M7 40.5h1M36 40.5h1M70 40.5h2M85 40.5h1M108 40.5h1M28 41.5h1M51 41.5h1M61 41.5h1M72 41.5h1M79 41.5h1M106 41.5h1M3 42.5h1M19 42.5h1M30 42.5h1M34 42.5h1M43 42.5h1M48 42.5h1M10 43.5h1M20 43.5h1M22 43.5h1M29 43.5h1M35 43.5h2M53 43.5h1M59 43.5h1M65 43.5h1M97 43.5h1M0 44.5h1M10 44.5h1M19 44.5h1M25 44.5h1M28 44.5h2M32 44.5h1M35 44.5h1M44 44.5h2M55 44.5h1M67 44.5h1M79 44.5h1M81 44.5h1M98 44.5h1M106 44.5h1M111 44.5h1M6 45.5h1M15 45.5h1M21 45.5h1M27 45.5h1M30 45.5h1M35 45.5h1M66 45.5h1M73 45.5h1M79 45.5h1M94 45.5h1M107 45.5h1M109 45.5h1M13 46.5h1M15 46.5h1M48 46.5h1M53 46.5h1M76 46.5h1M83 46.5h1M93 46.5h1M96 46.5h1M1 47.5h1M3 47.5h2M24 47.5h1M37 47.5h1M46 47.5h1M65 47.5h1M77 47.5h1M82 47.5h1M89 47.5h1M91 47.5h1M97 47.5h1M100 47.5h1M104 47.5h1M110 47.5h1M7 48.5h1M14 48.5h1M33 48.5h1M48 48.5h1M65 48.5h1M76 48.5h1M79 48.5h1M92 48.5h1M94 48.5h1M105 48.5h1M3 49.5h1M7 49.5h1M12 49.5h1M23 49.5h1M32 49.5h1M62 49.5h1M78 49.5h1M81 49.5h1M93 49.5h1M96 49.5h1M105 49.5h1M109 49.5h1M7 50.5h1M10 50.5h1M12 50.5h1M21 50.5h1M51 50.5h1M58 50.5h1M65 50.5h1M68 50.5h1M75 50.5h1M85 50.5h1M106 50.5h1M4 51.5h1M11 51.5h1M18 51.5h1M41 51.5h1M48 51.5h1M58 51.5h1M82 51.5h1M101 51.5h1M109 51.5h1M112 51.5h1M0 52.5h1M18 52.5h1M47 52.5h1M70 52.5h1M74 52.5h1M79 52.5h1M104 52.5h1M0 53.5h1M28 53.5h1M43 53.5h1M71 53.5h1M78 53.5h1M92 53.5h1M99 53.5h1M101 53.5h1M104 53.5h1M18 54.5h1M20 54.5h1M35 54.5h1M37 54.5h1M70 54.5h1M72 54.5h1M91 54.5h1M95 54.5h1M107 54.5h2M111 54.5h1M19 55.5h1M22 55.5h1M44 55.5h1M78 55.5h1M86 55.5h3M93 55.5h1M106 55.5h1M109 55.5h2M28 56.5h1M30 56.5h1M44 56.5h1M78 56.5h1M91 56.5h1M23 57.5h1M38 57.5h1M71 57.5h1M94 57.5h1M109 57.5h1M111 57.5h1M0 58.5h1M75 58.5h1M84 58.5h1M89 58.5h1M92 58.5h1M97 58.5h1M102 58.5h1M110 58.5h2M24 59.5h1M35 59.5h1M37 59.5h1M53 59.5h1M74 59.5h1M82 59.5h1M84 59.5h1M89 59.5h1M91 59.5h1M104 59.5h1M107 59.5h1M33 60.5h1M44 60.5h1M48 60.5h1M88 60.5h1M104 60.5h1M0 61.5h1M95 61.5h1M103 61.5h1M23 62.5h1M38 62.5h1M47 62.5h1M84 62.5h4M95 62.5h1M97 62.5h2M112 62.5h1M9 63.5h1M18 63.5h1M34 63.5h1M39 63.5h1M41 63.5h1M51 63.5h1M56 63.5h1M59 63.5h1M63 63.5h1M70 63.5h1M78 63.5h1M82 63.5h1M91 63.5h1M8 64.5h1M19 64.5h1M62 64.5h1M72 64.5h1M106 64.5h1M11 65.5h1M17 65.5h1M19 65.5h1M24 65.5h1M30 65.5h1M44 65.5h1M51 65.5h1M62 65.5h1M67 65.5h1M79 65.5h1M81 65.5h1M84 65.5h1M86 65.5h1M22 66.5h1M27 66.5h1M31 66.5h1M81 66.5h1M89 66.5h1M95 66.5h1M13 67.5h2M56 67.5h1M58 67.5h1M61 67.5h1M67 67.5h3M77 67.5h1M102 67.5h1M108 67.5h1M3 68.5h2M14 68.5h1M38 68.5h1M40 68.5h1M50 68.5h1M59 68.5h1M68 68.5h1M78 68.5h1M90 68.5h1M96 68.5h1M104 68.5h1M106 68.5h1M109 68.5h2M9 69.5h1M39 69.5h1M46 69.5h1M51 69.5h1M53 69.5h1M56 69.5h1M66 69.5h1M76 69.5h2M100 69.5h1M2 70.5h1M10 70.5h1M12 70.5h1M14 70.5h1M70 70.5h1M72 70.5h1M75 70.5h1M98 70.5h1M109 70.5h1M12 71.5h1M46 71.5h1M61 71.5h1M63 71.5h1M70 71.5h1M102 71.5h1M3 72.5h1M11 72.5h1M63 72.5h1M69 72.5h1M79 72.5h2M97 72.5h1M107 72.5h1M111 72.5h1M3 73.5h1M8 73.5h1M43 73.5h1M55 73.5h1M59 73.5h1M75 73.5h1M77 73.5h2M87 73.5h1M91 73.5h1M93 73.5h1M95 73.5h1M107 73.5h1M51 74.5h2M63 74.5h1M74 74.5h1M76 74.5h1M80 74.5h1M87 74.5h1M93 74.5h1M106 74.5h1M111 74.5h1M2 75.5h1M14 75.5h1M45 75.5h1M49 75.5h1M74 75.5h1M97 75.5h1M100 75.5h1M0 76.5h1M48 76.5h1M65 76.5h1M78 76.5h1M81 76.5h1M106 76.5h1M17 77.5h1M48 77.5h1M76 77.5h1M84 77.5h1M91 77.5h1M110 77.5h2M16 78.5h1M47 78.5h1M54 78.5h1M56 78.5h1M69 78.5h1M2 79.5h2M18 79.5h1M47 79.5h1M54 79.5h1M56 79.5h1M84 79.5h1M18 80.5h1M40 80.5h1M57 80.5h1M60 80.5h1M62 80.5h1M73 80.5h1M77 80.5h1M97 80.5h1M3 81.5h1M7 81.5h1M48 81.5h1M61 81.5h1M78 81.5h1M99 81.5h1M101 81.5h1M103 81.5h1M6 82.5h1M8 82.5h1M14 82.5h1M45 82.5h1M62 82.5h1M92 82.5h1M105 82.5h1M16 83.5h1M38 83.5h1M45 83.5h1M57 83.5h1M61 83.5h1M79 83.5h1M83 83.5h1M85 83.5h1M93 83.5h1M99 83.5h1M1 84.5h1M6 84.5h1M45 84.5h1M72 84.5h1M80 84.5h1M82 84.5h1M99 84.5h1M108 84.5h1M12 85.5h1M36 85.5h1M61 85.5h1M99 85.5h1M5 86.5h1M13 86.5h1M17 86.5h1M42 86.5h1M73 86.5h1M78 86.5h1M91 86.5h1M106 86.5h1M110 86.5h1M112 86.5h1M5 87.5h1M46 87.5h1M48 87.5h1M50 87.5h1M56 87.5h1M74 87.5h3M93 87.5h1M96 87.5h1M7 88.5h1M13 88.5h1M73 88.5h1M87 88.5h1M90 88.5h1M92 88.5h1M104 88.5h1M4 89.5h1M52 89.5h1M72 89.5h1M81 89.5h1M87 89.5h1M95 89.5h1M102 89.5h1"/><path stroke="#f1cbcf" d="M5 0.5h1M12 0.5h1M19 0.5h1M46 0.5h1M93 0.5h1M97 0.5h2M101 0.5h1M2 1.5h1M6 1.5h1M10 1.5h1M14 1.5h2M18 1.5h1M52 1.5h1M81 1.5h1M99 1.5h1M104 1.5h1M109 1.5h1M5 2.5h1M8 2.5h1M36 2.5h1M45 2.5h1M51 2.5h2M58 2.5h1M74 2.5h1M81 2.5h1M87 2.5h1M98 2.5h1M111 2.5h1M1 3.5h1M4 3.5h1M13 3.5h1M16 3.5h1M39 3.5h2M49 3.5h1M59 3.5h2M70 3.5h1M4 4.5h1M23 4.5h1M40 4.5h1M46 4.5h1M64 4.5h1M82 4.5h1M95 4.5h1M99 4.5h1M0 5.5h1M6 5.5h2M30 5.5h1M33 5.5h1M42 5.5h1M55 5.5h1M57 5.5h1M74 5.5h1M79 5.5h1M84 5.5h1M101 5.5h2M104 5.5h1M112 5.5h1M11 6.5h1M26 6.5h1M28 6.5h1M32 6.5h1M38 6.5h1M44 6.5h1M50 6.5h1M52 6.5h1M56 6.5h2M64 6.5h2M72 6.5h2M86 6.5h1M106 6.5h1M0 7.5h1M2 7.5h1M14 7.5h1M41 7.5h1M45 7.5h1M49 7.5h1M51 7.5h1M63 7.5h1M69 7.5h1M80 7.5h2M87 7.5h1M97 7.5h1M100 7.5h1M112 7.5h1M3 8.5h1M20 8.5h1M34 8.5h1M63 8.5h1M72 8.5h1M77 8.5h1M84 8.5h1M94 8.5h1M104 8.5h1M12 9.5h1M20 9.5h2M31 9.5h1M33 9.5h1M36 9.5h1M47 9.5h1M54 9.5h1M61 9.5h1M66 9.5h1M73 9.5h1M84 9.5h1M4 10.5h1M29 10.5h1M31 10.5h1M33 10.5h1M36 10.5h1M42 10.5h1M49 10.5h1M64 10.5h1M96 10.5h2M108 10.5h2M4 11.5h1M14 11.5h1M48 11.5h1M67 11.5h1M71 11.5h1M94 11.5h1M99 11.5h1M101 11.5h1M103 11.5h1M111 11.5h1M13 12.5h1M22 12.5h1M29 12.5h1M34 12.5h1M40 12.5h1M44 12.5h1M72 12.5h1M74 12.5h1M78 12.5h1M109 12.5h1M1 13.5h1M12 13.5h2M16 13.5h2M31 13.5h1M33 13.5h1M56 13.5h1M75 13.5h1M78 13.5h1M100 13.5h1M105 13.5h1M109 13.5h1M4 14.5h1M25 14.5h1M48 14.5h1M54 14.5h1M69 14.5h1M95 14.5h1M4 15.5h2M16 15.5h1M29 15.5h2M43 15.5h1M55 15.5h1M63 15.5h2M67 15.5h1M81 15.5h1M1 16.5h2M4 16.5h1M34 16.5h1M53 16.5h1M59 16.5h1M80 16.5h1M112 16.5h1M10 17.5h1M14 17.5h1M20 17.5h1M27 17.5h1M51 17.5h1M64 17.5h2M67 17.5h2M73 17.5h1M96 17.5h1M12 18.5h1M22 18.5h1M24 18.5h1M30 18.5h1M41 18.5h1M51 18.5h1M55 18.5h1M59 18.5h1M68 18.5h1M87 18.5h1M92 18.5h1M96 18.5h1M100 18.5h2M106 18.5h1M109 18.5h1M10 19.5h1M12 19.5h1M31 19.5h1M40 19.5h2M43 19.5h1M59 19.5h1M61 19.5h1M69 19.5h1M74 19.5h1M82 19.5h1M87 19.5h1M3 20.5h1M26 20.5h1M37 20.5h1M40 20.5h1M56 20.5h2M63 20.5h1M69 20.5h1M71 20.5h3M84 20.5h1M90 20.5h1M93 20.5h1M95 20.5h1M97 20.5h1M107 20.5h1M4 21.5h1M12 21.5h1M20 21.5h1M24 21.5h1M26 21.5h1M41 21.5h2M45 21.5h2M62 21.5h1M72 21.5h1M74 21.5h1M84 21.5h1M87 21.5h1M106 21.5h2M1 22.5h2M14 22.5h1M59 22.5h1M75 22.5h1M77 22.5h1M89 22.5h1M107 22.5h1M27 23.5h1M33 23.5h1M38 23.5h1M66 23.5h1M69 23.5h1M76 23.5h1M90 23.5h2M95 23.5h1M111 23.5h1M1 24.5h1M4 24.5h1M15 24.5h2M27 24.5h1M41 24.5h1M44 24.5h1M50 24.5h2M61 24.5h1M68 24.5h1M70 24.5h1M80 24.5h1M108 24.5h1M112 24.5h1M6 25.5h1M26 25.5h1M46 25.5h1M50 25.5h3M65 25.5h1M75 25.5h1M99 25.5h2M4 26.5h2M21 26.5h1M23 26.5h1M39 26.5h1M51 26.5h1M60 26.5h1M70 26.5h1M87 26.5h1M112 26.5h1M11 27.5h1M30 27.5h1M33 27.5h1M39 27.5h1M63 27.5h1M68 27.5h1M85 27.5h1M91 27.5h1M96 27.5h1M100 27.5h2M107 27.5h1M0 28.5h1M3 28.5h1M5 28.5h1M31 28.5h1M34 28.5h3M44 28.5h1M46 28.5h1M48 28.5h1M63 28.5h2M68 28.5h1M82 28.5h1M20 29.5h1M28 29.5h1M39 29.5h1M50 29.5h1M60 29.5h1M65 29.5h1M68 29.5h1M86 29.5h1M93 29.5h1M96 29.5h1M12 30.5h1M29 30.5h1M43 30.5h1M51 30.5h1M59 30.5h1M77 30.5h1M101 30.5h1M1 31.5h1M35 31.5h2M48 31.5h1M72 31.5h1M78 31.5h1M93 31.5h1M99 31.5h1M108 31.5h1M1 32.5h1M7 32.5h1M25 32.5h1M30 32.5h1M39 32.5h4M53 32.5h1M60 32.5h1M87 32.5h1M38 33.5h1M47 33.5h1M63 33.5h1M35 34.5h2M56 34.5h1M59 34.5h1M82 34.5h1M85 34.5h1M95 34.5h1M99 34.5h1M101 34.5h1M2 35.5h1M15 35.5h1M34 35.5h1M43 35.5h1M56 35.5h1M65 35.5h2M82 35.5h1M105 35.5h1M107 35.5h1M109 35.5h1M5 36.5h1M60 36.5h1M74 36.5h1M93 36.5h1M109 36.5h1M112 36.5h1M24 37.5h1M38 37.5h1M43 37.5h1M48 37.5h2M90 37.5h1M108 37.5h1M111 37.5h1M12 38.5h1M14 38.5h1M17 38.5h1M23 38.5h1M38 38.5h1M44 38.5h1M62 38.5h1M65 38.5h1M85 38.5h1M95 38.5h1M110 38.5h1M1 39.5h1M3 39.5h1M6 39.5h1M13 39.5h1M26 39.5h1M29 39.5h1M31 39.5h1M40 39.5h1M11 40.5h1M27 40.5h1M31 40.5h1M57 40.5h1M62 40.5h1M65 40.5h1M74 40.5h1M78 40.5h2M87 40.5h1M91 40.5h1M94 40.5h1M3 41.5h1M17 41.5h1M20 41.5h2M30 41.5h2M37 41.5h1M43 41.5h1M45 41.5h1M54 41.5h2M59 41.5h1M66 41.5h1M81 41.5h1M90 41.5h1M96 41.5h1M100 41.5h1M110 41.5h1M7 42.5h1M26 42.5h1M33 42.5h1M35 42.5h1M42 42.5h1M44 42.5h1M51 42.5h1M54 42.5h1M67 42.5h2M76 42.5h1M79 42.5h1M87 42.5h1M94 42.5h1M30 43.5h1M38 43.5h1M52 43.5h1M58 43.5h1M69 43.5h1M71 43.5h1M80 43.5h1M84 43.5h1M91 43.5h1M2 44.5h2M15 44.5h1M27 44.5h1M48 44.5h1M58 44.5h1M89 44.5h1M91 44.5h1M94 44.5h1M99 44.5h1M101 44.5h1M3 45.5h2M25 45.5h1M33 45.5h1M36 45.5h1M43 45.5h1M61 45.5h2M86 45.5h1M88 45.5h1M93 45.5h1M101 45.5h2M6 46.5h1M25 46.5h1M31 46.5h1M33 46.5h1M43 46.5h1M47 46.5h1M51 46.5h1M54 46.5h1M65 46.5h2M70 46.5h2M79 46.5h1M82 46.5h1M100 46.5h1M103 46.5h1M108 46.5h1M111 46.5h1M13 47.5h1M21 47.5h1M26 47.5h1M29 47.5h1M31 47.5h1M43 47.5h1M62 47.5h1M73 47.5h1M90 47.5h1M98 47.5h1M101 47.5h1M105 47.5h1M111 47.5h1M1 48.5h1M10 48.5h1M15 48.5h1M18 48.5h2M30 48.5h1M36 48.5h2M55 48.5h1M58 48.5h1M60 48.5h1M67 48.5h1M85 48.5h1M87 48.5h1M112 48.5h1M10 49.5h1M14 49.5h2M17 49.5h1M22 49.5h1M42 49.5h2M65 49.5h1M67 49.5h1M70 49.5h1M73 49.5h1M75 49.5h1M77 49.5h1M79 49.5h1M86 49.5h1M89 49.5h1M98 49.5h1M103 49.5h1M11 50.5h1M16 50.5h1M18 50.5h1M37 50.5h2M45 50.5h1M52 50.5h1M81 50.5h1M95 50.5h1M98 50.5h1M107 50.5h2M110 50.5h1M10 51.5h1M25 51.5h2M67 51.5h2M73 51.5h2M79 51.5h1M92 51.5h1M98 51.5h1M4 52.5h1M60 52.5h1M96 52.5h2M17 53.5h1M22 53.5h1M36 53.5h1M38 53.5h1M51 53.5h1M55 53.5h1M74 53.5h2M82 53.5h1M88 53.5h1M19 54.5h1M22 54.5h2M30 54.5h1M76 54.5h2M80 54.5h1M89 54.5h1M97 54.5h1M8 55.5h1M49 55.5h1M71 55.5h2M100 55.5h2M40 56.5h1M53 56.5h1M75 56.5h1M80 56.5h1M82 56.5h1M2 57.5h1M21 57.5h1M28 57.5h1M33 57.5h1M43 57.5h1M50 57.5h1M86 57.5h1M89 57.5h1M91 57.5h1M101 57.5h1M105 57.5h1M112 57.5h1M35 58.5h1M47 58.5h1M74 58.5h1M85 58.5h1M2 59.5h1M26 59.5h1M83 59.5h1M102 59.5h2M21 60.5h1M23 60.5h1M47 60.5h1M54 60.5h2M70 60.5h1M75 60.5h1M78 60.5h1M80 60.5h1M83 60.5h1M109 60.5h1M21 61.5h1M32 61.5h1M36 61.5h1M41 61.5h1M52 61.5h1M72 61.5h2M79 61.5h1M105 61.5h1M1 62.5h3M39 62.5h1M51 62.5h1M73 62.5h1M5 63.5h1M17 63.5h1M23 63.5h1M35 63.5h1M47 63.5h1M50 63.5h1M53 63.5h1M60 63.5h1M67 63.5h1M72 63.5h1M90 63.5h1M96 63.5h1M100 63.5h1M103 63.5h1M105 63.5h2M6 64.5h1M12 64.5h1M28 64.5h1M39 64.5h1M46 64.5h1M50 64.5h1M73 64.5h1M93 64.5h1M105 64.5h1M15 65.5h1M49 65.5h2M54 65.5h1M61 65.5h1M64 65.5h1M95 65.5h1M98 65.5h1M100 65.5h1M102 65.5h1M104 65.5h1M106 65.5h1M111 65.5h2M7 66.5h1M32 66.5h1M34 66.5h1M39 66.5h1M41 66.5h2M47 66.5h1M59 66.5h1M61 66.5h1M78 66.5h1M94 66.5h1M49 67.5h1M66 67.5h1M75 67.5h2M78 67.5h2M96 67.5h1M99 67.5h1M7 68.5h1M22 68.5h1M39 68.5h1M62 68.5h1M64 68.5h1M97 68.5h1M6 69.5h1M12 69.5h2M61 69.5h2M97 69.5h1M13 70.5h1M59 70.5h1M66 70.5h1M80 70.5h1M87 70.5h1M90 70.5h1M101 70.5h2M0 71.5h1M10 71.5h1M15 71.5h2M77 71.5h1M81 71.5h1M73 72.5h1M82 72.5h1M93 72.5h1M98 72.5h1M7 73.5h1M11 73.5h1M14 73.5h1M45 73.5h1M52 73.5h1M56 73.5h1M60 73.5h1M76 73.5h1M96 73.5h1M13 74.5h1M58 74.5h1M77 74.5h2M81 74.5h1M84 74.5h1M108 74.5h1M0 75.5h1M5 75.5h1M17 75.5h1M58 75.5h1M61 75.5h1M63 75.5h1M66 75.5h1M110 75.5h1M2 76.5h2M7 76.5h1M17 76.5h1M62 76.5h1M72 76.5h1M77 76.5h1M84 76.5h1M90 76.5h1M98 76.5h1M108 76.5h1M6 77.5h1M15 77.5h1M18 77.5h1M46 77.5h1M68 77.5h1M79 77.5h1M81 77.5h1M92 77.5h1M101 77.5h1M107 77.5h1M9 78.5h1M67 78.5h1M74 78.5h1M87 78.5h1M100 78.5h1M107 78.5h1M110 78.5h1M17 79.5h1M64 79.5h2M73 79.5h1M75 79.5h1M79 79.5h1M82 79.5h1M87 79.5h1M97 79.5h1M7 80.5h1M48 80.5h1M54 80.5h1M65 80.5h1M80 80.5h1M89 80.5h1M101 80.5h1M112 80.5h1M47 81.5h1M56 81.5h1M106 81.5h1M0 82.5h1M7 82.5h1M11 82.5h1M43 82.5h1M65 82.5h1M84 82.5h2M89 82.5h1M107 82.5h1M42 83.5h1M54 83.5h3M65 83.5h1M68 83.5h1M72 83.5h1M84 83.5h1M90 83.5h1M111 83.5h1M2 84.5h1M8 84.5h1M39 84.5h1M51 84.5h1M54 84.5h1M57 84.5h1M63 84.5h1M68 84.5h1M75 84.5h1M95 84.5h1M109 84.5h2M3 85.5h1M10 85.5h1M16 85.5h1M45 85.5h1M82 85.5h1M89 85.5h1M91 85.5h1M37 86.5h1M39 86.5h2M44 86.5h1M50 86.5h1M53 86.5h1M63 86.5h1M75 86.5h1M83 86.5h1M95 86.5h1M0 87.5h1M6 87.5h1M40 87.5h1M57 87.5h1M72 87.5h1M16 88.5h2M19 88.5h1M39 88.5h1M42 88.5h1M51 88.5h1M53 88.5h1M60 88.5h1M66 88.5h2M70 88.5h1M81 88.5h1M19 89.5h1"/><path stroke="#f1b2b5" d="M1 0.5h1M3 0.5h1M53 0.5h2M73 0.5h1M82 0.5h1M86 0.5h1M95 0.5h2M28 1.5h1M38 1.5h1M46 1.5h1M50 1.5h1M53 1.5h1M57 1.5h2M71 1.5h1M85 1.5h1M87 1.5h1M97 1.5h2M102 1.5h1M106 1.5h1M1 2.5h1M14 2.5h2M37 2.5h1M73 2.5h1M76 2.5h1M86 2.5h1M90 2.5h1M93 2.5h1M11 3.5h1M26 3.5h1M48 3.5h1M53 3.5h1M72 3.5h1M75 3.5h1M77 3.5h1M80 3.5h1M95 3.5h1M98 3.5h1M103 3.5h1M13 4.5h1M51 4.5h1M66 4.5h1M77 4.5h2M96 4.5h1M2 5.5h1M10 5.5h1M15 5.5h1M18 5.5h1M44 5.5h1M52 5.5h1M56 5.5h1M60 5.5h1M78 5.5h1M96 5.5h1M108 5.5h3M10 6.5h1M16 6.5h1M22 6.5h1M41 6.5h1M46 6.5h1M67 6.5h2M78 6.5h1M84 6.5h1M89 6.5h1M93 6.5h2M103 6.5h1M112 6.5h1M13 7.5h1M36 7.5h1M40 7.5h1M44 7.5h1M60 7.5h1M91 7.5h2M94 7.5h1M96 7.5h1M98 7.5h1M105 7.5h1M111 7.5h1M6 8.5h1M22 8.5h1M28 8.5h2M31 8.5h1M42 8.5h1M46 8.5h1M48 8.5h1M61 8.5h1M66 8.5h1M71 8.5h1M80 8.5h1M102 8.5h1M0 9.5h1M4 9.5h1M30 9.5h1M37 9.5h1M44 9.5h1M46 9.5h1M49 9.5h1M55 9.5h1M72 9.5h1M74 9.5h1M80 9.5h1M92 9.5h1M103 9.5h1M26 10.5h1M34 10.5h1M43 10.5h2M65 10.5h1M72 10.5h2M78 10.5h1M81 10.5h1M99 10.5h1M106 10.5h1M38 11.5h1M44 11.5h2M56 11.5h1M59 11.5h1M76 11.5h1M100 11.5h1M102 11.5h1M106 11.5h1M25 12.5h1M27 12.5h1M33 12.5h1M54 12.5h1M69 12.5h1M73 12.5h1M77 12.5h1M105 12.5h1M112 12.5h1M11 13.5h1M26 13.5h1M29 13.5h1M45 13.5h1M62 13.5h1M64 13.5h1M73 13.5h2M97 13.5h1M99 13.5h1M111 13.5h1M5 14.5h1M33 14.5h1M60 14.5h1M65 14.5h1M77 14.5h2M80 14.5h2M11 15.5h1M18 15.5h1M32 15.5h1M34 15.5h1M40 15.5h1M48 15.5h2M54 15.5h1M57 15.5h1M107 15.5h1M110 15.5h1M12 16.5h1M39 16.5h1M44 16.5h1M58 16.5h1M97 16.5h1M1 17.5h1M4 17.5h1M17 17.5h1M38 17.5h1M44 17.5h1M49 17.5h1M53 17.5h3M111 17.5h2M2 18.5h1M7 18.5h1M33 18.5h1M36 18.5h1M45 18.5h2M57 18.5h1M61 18.5h1M64 18.5h1M71 18.5h1M78 18.5h1M85 18.5h2M91 18.5h1M95 18.5h1M4 19.5h1M20 19.5h1M39 19.5h1M47 19.5h1M60 19.5h1M73 19.5h1M35 20.5h1M64 20.5h2M77 20.5h1M96 20.5h1M6 21.5h1M14 21.5h1M22 21.5h1M40 21.5h1M50 21.5h1M59 21.5h1M80 21.5h1M90 21.5h2M98 21.5h1M108 21.5h1M21 22.5h1M25 22.5h1M31 22.5h1M46 22.5h1M48 22.5h1M52 22.5h1M60 22.5h1M72 22.5h2M91 22.5h2M2 23.5h2M14 23.5h1M39 23.5h1M47 23.5h1M60 23.5h1M70 23.5h1M72 23.5h1M81 23.5h2M89 23.5h1M93 23.5h1M97 23.5h2M100 23.5h1M6 24.5h1M11 24.5h1M18 24.5h1M33 24.5h1M37 24.5h1M47 24.5h1M91 24.5h1M99 24.5h1M1 25.5h1M3 25.5h1M44 25.5h1M63 25.5h1M77 25.5h1M86 25.5h1M25 26.5h1M41 26.5h1M43 26.5h2M46 26.5h1M62 26.5h1M76 26.5h1M92 26.5h1M106 26.5h1M108 26.5h1M3 27.5h1M14 27.5h1M16 27.5h1M27 27.5h1M59 27.5h1M71 27.5h1M105 27.5h1M108 27.5h1M18 28.5h1M41 28.5h1M50 28.5h1M54 28.5h1M59 28.5h1M62 28.5h1M70 28.5h1M76 28.5h2M90 28.5h1M92 28.5h1M96 28.5h1M1 29.5h1M29 29.5h1M33 29.5h1M45 29.5h1M61 29.5h1M66 29.5h1M69 29.5h1M74 29.5h1M76 29.5h1M97 29.5h1M99 29.5h1M105 29.5h1M110 29.5h1M23 30.5h1M39 30.5h1M46 30.5h1M62 30.5h1M73 30.5h1M76 30.5h1M84 30.5h1M94 30.5h1M97 30.5h1M37 31.5h1M50 31.5h1M66 31.5h1M86 31.5h1M98 31.5h1M106 31.5h1M27 32.5h1M29 32.5h1M48 32.5h1M80 32.5h1M97 32.5h1M105 32.5h1M13 33.5h1M37 33.5h1M48 33.5h1M55 33.5h1M60 33.5h1M64 33.5h1M66 33.5h1M93 33.5h2M97 33.5h1M43 34.5h2M49 34.5h1M52 34.5h1M57 34.5h1M68 34.5h1M72 34.5h1M75 34.5h1M79 34.5h1M86 34.5h2M100 34.5h1M106 34.5h1M23 35.5h1M38 35.5h1M50 35.5h1M61 35.5h1M63 35.5h1M72 35.5h1M79 35.5h2M85 35.5h2M98 35.5h1M100 35.5h1M0 36.5h1M6 36.5h1M18 36.5h1M37 36.5h1M39 36.5h1M59 36.5h1M68 36.5h1M81 36.5h1M97 36.5h1M99 36.5h1M105 36.5h1M16 37.5h1M23 37.5h1M39 37.5h2M78 37.5h1M84 37.5h1M87 37.5h1M91 37.5h1M112 37.5h1M18 38.5h1M37 38.5h1M42 38.5h1M53 38.5h1M60 38.5h1M69 38.5h1M73 38.5h1M79 38.5h1M87 38.5h1M92 38.5h1M99 38.5h1M112 38.5h1M14 39.5h2M20 39.5h2M25 39.5h1M37 39.5h1M42 39.5h1M46 39.5h1M65 39.5h1M72 39.5h1M96 39.5h1M98 39.5h1M109 39.5h1M5 40.5h1M25 40.5h1M40 40.5h1M43 40.5h1M59 40.5h1M61 40.5h1M66 40.5h1M82 40.5h1M96 40.5h1M101 40.5h1M13 41.5h1M23 41.5h1M33 41.5h1M44 41.5h1M58 41.5h1M75 41.5h1M88 41.5h1M93 41.5h1M15 42.5h1M41 42.5h1M53 42.5h1M58 42.5h1M81 42.5h1M95 42.5h1M2 43.5h1M48 43.5h1M56 43.5h1M79 43.5h1M100 43.5h1M106 43.5h2M24 44.5h1M33 44.5h1M36 44.5h1M40 44.5h1M49 44.5h1M53 44.5h1M62 44.5h1M64 44.5h3M76 44.5h1M16 45.5h1M26 45.5h1M28 45.5h1M31 45.5h1M41 45.5h1M54 45.5h1M70 45.5h1M99 45.5h1M19 46.5h1M39 46.5h1M42 46.5h1M46 46.5h1M52 46.5h1M57 46.5h1M59 46.5h1M74 46.5h1M77 46.5h1M85 46.5h2M95 46.5h1M98 46.5h1M104 46.5h1M107 46.5h1M112 46.5h1M23 47.5h1M27 47.5h1M39 47.5h1M85 47.5h1M94 47.5h1M102 47.5h1M112 47.5h1M3 48.5h1M16 48.5h1M26 48.5h1M39 48.5h1M42 48.5h1M44 48.5h1M46 48.5h1M59 48.5h1M62 48.5h1M77 48.5h1M86 48.5h1M2 49.5h1M4 49.5h1M38 49.5h1M41 49.5h1M47 49.5h1M51 49.5h1M55 49.5h1M63 49.5h1M66 49.5h1M80 49.5h1M94 49.5h1M110 49.5h2M0 50.5h1M25 50.5h1M35 50.5h1M42 50.5h1M46 50.5h1M54 50.5h1M56 50.5h1M59 50.5h1M76 50.5h1M87 50.5h1M93 50.5h2M5 51.5h1M9 51.5h1M12 51.5h1M22 51.5h1M27 51.5h1M29 51.5h1M31 51.5h1M37 51.5h1M43 51.5h1M50 51.5h2M56 51.5h1M62 51.5h1M90 51.5h1M106 51.5h1M108 51.5h1M110 51.5h2M17 52.5h1M20 52.5h2M52 52.5h3M71 52.5h1M73 52.5h1M89 52.5h1M105 52.5h1M29 53.5h1M32 53.5h1M46 53.5h1M49 53.5h1M73 53.5h1M93 53.5h1M95 53.5h1M105 53.5h1M17 54.5h1M26 54.5h2M52 54.5h1M79 54.5h1M92 54.5h1M99 54.5h1M102 54.5h2M51 55.5h1M66 55.5h1M94 55.5h1M102 55.5h1M2 56.5h1M72 56.5h1M74 56.5h1M79 56.5h1M88 56.5h2M94 56.5h1M16 57.5h1M29 57.5h1M36 57.5h1M55 57.5h1M70 57.5h1M73 57.5h1M81 57.5h1M96 57.5h1M23 58.5h1M26 58.5h1M49 58.5h1M77 58.5h1M81 58.5h2M91 58.5h1M1 59.5h1M36 59.5h1M54 59.5h1M75 59.5h1M90 59.5h1M95 59.5h1M97 59.5h1M2 60.5h1M50 60.5h1M77 60.5h1M81 60.5h1M96 60.5h1M100 60.5h1M107 60.5h1M110 60.5h1M2 61.5h1M31 61.5h1M38 61.5h1M49 61.5h1M91 61.5h1M97 61.5h1M101 61.5h1M107 61.5h1M110 61.5h1M70 62.5h1M76 62.5h2M82 62.5h2M94 62.5h1M101 62.5h1M103 62.5h1M0 63.5h1M3 63.5h1M16 63.5h1M24 63.5h1M52 63.5h1M61 63.5h1M77 63.5h1M81 63.5h1M88 63.5h1M94 63.5h1M108 63.5h2M1 64.5h1M15 64.5h1M32 64.5h2M35 64.5h1M37 64.5h1M45 64.5h1M51 64.5h1M55 64.5h1M57 64.5h1M59 64.5h1M71 64.5h1M85 64.5h1M95 64.5h1M100 64.5h1M104 64.5h1M112 64.5h1M5 65.5h1M8 65.5h1M21 65.5h1M47 65.5h1M57 65.5h1M70 65.5h1M82 65.5h1M93 65.5h1M20 66.5h1M36 66.5h1M38 66.5h1M51 66.5h1M58 66.5h1M62 66.5h1M64 66.5h1M72 66.5h1M76 66.5h1M80 66.5h1M109 66.5h1M15 67.5h1M18 67.5h1M44 67.5h2M48 67.5h1M83 67.5h1M86 67.5h1M89 67.5h1M13 68.5h1M31 68.5h1M37 68.5h1M91 68.5h1M0 69.5h1M2 69.5h1M37 69.5h1M50 69.5h1M78 69.5h1M81 69.5h1M0 70.5h1M11 70.5h1M15 70.5h1M49 70.5h1M52 70.5h2M57 70.5h1M64 70.5h1M76 70.5h1M95 70.5h1M106 70.5h1M54 71.5h1M76 71.5h1M93 71.5h1M97 71.5h1M107 71.5h1M0 72.5h1M4 72.5h1M43 72.5h1M51 72.5h1M56 72.5h1M60 72.5h1M64 72.5h1M96 72.5h1M101 72.5h1M106 72.5h1M2 73.5h1M37 73.5h1M50 73.5h1M57 73.5h1M62 73.5h1M110 73.5h1M37 74.5h1M65 74.5h1M109 74.5h1M10 75.5h1M48 75.5h1M51 75.5h1M57 75.5h1M69 75.5h1M71 75.5h1M77 75.5h1M80 75.5h1M84 75.5h1M87 75.5h1M93 75.5h1M111 75.5h1M5 76.5h2M12 76.5h1M16 76.5h1M24 76.5h1M51 76.5h1M112 76.5h1M0 77.5h1M5 77.5h1M16 77.5h1M78 77.5h1M93 77.5h1M102 77.5h1M11 78.5h1M37 78.5h1M52 78.5h1M62 78.5h1M72 78.5h1M79 78.5h1M81 78.5h1M86 78.5h1M91 78.5h1M108 78.5h2M111 78.5h2M16 79.5h1M37 79.5h1M90 79.5h1M10 80.5h1M13 80.5h1M16 80.5h1M41 80.5h1M45 80.5h1M96 80.5h1M44 81.5h1M58 81.5h1M66 81.5h1M73 81.5h1M75 81.5h3M108 81.5h1M112 81.5h1M2 82.5h1M16 82.5h1M41 82.5h1M51 82.5h1M67 82.5h1M81 82.5h1M87 82.5h1M103 82.5h2M112 82.5h1M0 83.5h1M7 83.5h1M15 83.5h1M17 83.5h1M35 83.5h1M46 83.5h1M71 83.5h1M74 83.5h1M82 83.5h1M96 83.5h1M107 83.5h2M15 84.5h1M18 84.5h1M48 84.5h1M77 84.5h1M89 84.5h1M0 85.5h1M2 85.5h1M5 85.5h1M59 85.5h1M80 85.5h1M107 85.5h2M0 86.5h1M3 86.5h1M9 86.5h1M30 86.5h1M71 86.5h1M77 86.5h1M81 86.5h2M97 86.5h1M107 86.5h2M17 87.5h2M32 87.5h1M39 87.5h1M84 87.5h2M1 88.5h1M9 88.5h1M12 88.5h1M48 88.5h1M54 88.5h1M57 88.5h1M68 88.5h1M1 89.5h1M5 89.5h1M12 89.5h1M17 89.5h1M22 89.5h1M24 89.5h1M28 89.5h1M32 89.5h1M48 89.5h1M51 89.5h1M67 89.5h1M89 89.5h1M91 89.5h1M101 89.5h1"/><path stroke="#f0999a" d="M6 0.5h1M14 0.5h2M30 0.5h1M39 0.5h1M48 0.5h1M59 0.5h1M68 0.5h1M71 0.5h1M80 0.5h1M92 0.5h1M4 1.5h1M9 1.5h1M31 1.5h1M42 1.5h1M44 1.5h2M54 1.5h1M63 1.5h1M73 1.5h1M78 1.5h1M84 1.5h1M89 1.5h1M100 1.5h1M105 1.5h1M12 2.5h1M25 2.5h1M27 2.5h1M43 2.5h1M66 2.5h1M71 2.5h1M96 2.5h1M110 2.5h1M0 3.5h1M5 3.5h1M7 3.5h1M23 3.5h1M36 3.5h1M44 3.5h1M50 3.5h1M54 3.5h2M64 3.5h2M68 3.5h1M76 3.5h1M78 3.5h1M85 3.5h1M93 3.5h1M101 3.5h1M107 3.5h1M10 4.5h1M14 4.5h1M24 4.5h1M39 4.5h1M44 4.5h1M61 4.5h1M65 4.5h1M79 4.5h1M3 5.5h1M11 5.5h2M17 5.5h1M46 5.5h1M49 5.5h1M76 5.5h1M92 5.5h1M106 5.5h1M7 6.5h1M13 6.5h1M58 6.5h1M74 6.5h1M79 6.5h1M81 6.5h1M87 6.5h1M107 6.5h2M3 7.5h1M11 7.5h1M25 7.5h1M31 7.5h1M53 7.5h1M56 7.5h1M77 7.5h1M89 7.5h1M101 7.5h1M16 8.5h1M21 8.5h1M37 8.5h1M43 8.5h1M98 8.5h1M1 9.5h1M14 9.5h1M50 9.5h1M65 9.5h1M69 9.5h1M81 9.5h1M88 9.5h1M95 9.5h1M1 10.5h1M12 10.5h1M18 10.5h1M38 10.5h1M48 10.5h1M51 10.5h1M53 10.5h1M57 10.5h1M60 10.5h1M82 10.5h1M15 11.5h1M62 11.5h1M64 11.5h1M80 11.5h1M97 11.5h1M104 11.5h1M112 11.5h1M21 12.5h1M37 12.5h1M41 12.5h1M55 12.5h1M58 12.5h1M66 12.5h1M80 12.5h1M107 12.5h1M48 13.5h1M52 13.5h1M60 13.5h2M68 13.5h1M82 13.5h1M0 14.5h1M13 14.5h1M39 14.5h1M53 14.5h1M72 14.5h1M79 14.5h1M82 14.5h1M107 14.5h1M110 14.5h1M1 15.5h1M38 15.5h1M45 15.5h1M71 15.5h1M74 15.5h1M82 15.5h1M111 15.5h1M29 16.5h1M37 16.5h1M40 16.5h3M46 16.5h1M62 16.5h1M72 16.5h1M58 17.5h1M105 17.5h1M11 18.5h1M20 18.5h1M42 18.5h2M58 18.5h1M66 18.5h1M72 18.5h1M81 18.5h1M89 18.5h1M57 19.5h1M72 19.5h1M76 19.5h1M80 19.5h1M90 19.5h2M93 19.5h1M97 19.5h1M110 19.5h1M4 20.5h1M8 20.5h1M14 20.5h1M53 20.5h1M59 20.5h1M66 20.5h1M74 20.5h1M82 20.5h2M110 20.5h1M112 20.5h1M2 21.5h1M17 21.5h1M35 21.5h1M43 21.5h1M51 21.5h1M65 21.5h1M73 21.5h1M88 21.5h1M92 21.5h1M0 22.5h1M42 22.5h1M65 22.5h1M84 22.5h1M87 22.5h1M40 23.5h1M54 23.5h1M57 23.5h1M73 23.5h1M75 23.5h1M77 23.5h1M86 23.5h1M106 23.5h1M60 24.5h1M71 24.5h1M94 24.5h1M107 24.5h1M110 24.5h1M7 25.5h1M13 25.5h4M20 25.5h1M40 25.5h1M53 25.5h1M70 25.5h1M78 25.5h1M91 25.5h1M93 25.5h1M95 25.5h1M97 25.5h1M11 26.5h1M29 26.5h1M38 26.5h1M48 26.5h1M50 26.5h1M65 26.5h1M74 26.5h1M96 26.5h1M13 27.5h1M57 27.5h1M92 27.5h1M4 28.5h1M58 28.5h1M65 28.5h1M72 28.5h1M106 28.5h1M42 29.5h1M46 29.5h1M54 29.5h1M77 29.5h1M40 30.5h1M45 30.5h1M53 30.5h1M87 30.5h1M91 30.5h1M108 30.5h1M7 31.5h1M16 31.5h1M39 31.5h1M46 31.5h1M54 31.5h1M57 31.5h1M60 31.5h1M63 31.5h1M76 31.5h1M80 31.5h1M97 31.5h1M101 31.5h1M110 31.5h1M2 32.5h1M15 32.5h1M26 32.5h1M31 32.5h1M43 32.5h1M56 32.5h1M63 32.5h1M106 32.5h2M0 33.5h3M43 33.5h1M50 33.5h1M57 33.5h2M62 33.5h1M69 33.5h1M77 33.5h1M80 33.5h1M83 33.5h1M95 33.5h1M13 34.5h1M16 34.5h1M37 34.5h1M40 34.5h1M53 34.5h1M64 34.5h1M78 34.5h1M88 34.5h1M92 34.5h1M13 35.5h1M37 35.5h1M39 35.5h1M45 35.5h1M51 35.5h1M53 35.5h1M60 35.5h1M84 35.5h1M3 36.5h1M13 36.5h1M31 36.5h1M44 36.5h1M52 36.5h1M55 36.5h1M94 36.5h1M98 36.5h1M42 37.5h1M53 37.5h1M57 37.5h1M60 37.5h1M70 37.5h1M74 37.5h1M79 37.5h2M99 37.5h1M101 37.5h1M105 37.5h1M107 37.5h1M110 37.5h1M1 38.5h1M46 38.5h1M61 38.5h1M111 38.5h1M0 39.5h1M11 39.5h1M58 39.5h1M61 39.5h1M78 39.5h1M81 39.5h1M85 39.5h1M99 39.5h1M110 39.5h1M4 40.5h1M15 40.5h1M39 40.5h1M42 40.5h1M45 40.5h1M53 40.5h1M67 40.5h1M88 40.5h1M90 40.5h1M100 40.5h1M106 40.5h1M27 41.5h1M46 41.5h1M48 41.5h1M69 41.5h1M71 41.5h1M95 41.5h1M112 41.5h1M0 42.5h1M62 42.5h1M109 42.5h1M3 43.5h1M5 43.5h1M31 43.5h1M34 43.5h1M44 43.5h1M73 43.5h1M86 43.5h1M108 43.5h1M112 43.5h1M1 44.5h1M14 44.5h1M34 44.5h1M38 44.5h2M60 44.5h1M86 44.5h1M96 44.5h1M100 44.5h1M12 45.5h1M18 45.5h1M29 45.5h1M37 45.5h1M46 45.5h1M51 45.5h1M58 45.5h1M68 45.5h1M75 45.5h1M81 45.5h1M85 45.5h1M90 45.5h1M105 45.5h1M3 46.5h1M10 46.5h1M27 46.5h1M34 46.5h1M45 46.5h1M58 46.5h1M60 46.5h1M69 46.5h1M99 46.5h1M6 47.5h1M16 47.5h1M64 47.5h1M80 47.5h1M87 47.5h1M93 47.5h1M103 47.5h1M43 48.5h1M61 48.5h1M93 48.5h1M102 48.5h1M104 48.5h1M107 48.5h1M1 49.5h1M6 49.5h1M9 49.5h1M13 49.5h1M36 49.5h1M50 49.5h1M59 49.5h1M84 49.5h1M95 49.5h1M99 49.5h1M106 49.5h1M108 49.5h1M13 50.5h1M31 50.5h1M43 50.5h1M64 50.5h1M72 50.5h1M80 50.5h1M92 50.5h1M101 50.5h1M3 51.5h1M24 51.5h1M30 51.5h1M64 51.5h2M78 51.5h1M83 51.5h1M88 51.5h1M96 51.5h1M103 51.5h1M16 52.5h1M27 52.5h2M30 52.5h1M32 52.5h2M48 52.5h1M51 52.5h1M63 52.5h1M66 52.5h1M68 52.5h1M112 52.5h1M25 53.5h2M50 53.5h1M89 53.5h1M103 53.5h1M107 53.5h1M3 54.5h1M34 54.5h1M47 54.5h1M50 54.5h1M53 54.5h1M75 54.5h1M81 54.5h1M29 55.5h1M31 55.5h1M48 55.5h1M50 55.5h1M69 55.5h2M76 55.5h1M79 55.5h1M89 55.5h1M95 55.5h2M4 56.5h1M15 56.5h2M18 56.5h2M22 56.5h2M25 56.5h1M34 56.5h1M36 56.5h1M47 56.5h2M73 56.5h1M96 56.5h1M98 56.5h2M108 56.5h1M3 57.5h1M25 57.5h1M32 57.5h1M37 57.5h1M69 57.5h1M74 57.5h1M88 57.5h1M90 57.5h1M21 58.5h1M28 58.5h1M73 58.5h1M76 58.5h1M94 58.5h1M3 59.5h1M29 59.5h1M66 59.5h1M79 59.5h1M88 59.5h1M111 59.5h2M3 60.5h1M8 60.5h1M18 60.5h1M22 60.5h1M26 60.5h1M69 60.5h1M79 60.5h1M90 60.5h1M99 60.5h1M30 61.5h1M54 61.5h1M75 61.5h1M83 61.5h1M109 61.5h1M17 62.5h1M22 62.5h1M28 62.5h1M30 62.5h1M50 62.5h1M55 62.5h1M74 62.5h1M102 62.5h1M15 63.5h1M57 63.5h1M64 63.5h1M71 63.5h1M86 63.5h1M102 63.5h1M4 64.5h1M10 64.5h2M13 64.5h1M17 64.5h1M44 64.5h1M60 64.5h1M65 64.5h2M84 64.5h1M90 64.5h1M92 64.5h1M109 64.5h1M13 65.5h2M23 65.5h1M31 65.5h1M52 65.5h2M55 65.5h1M58 65.5h1M60 65.5h1M63 65.5h1M71 65.5h1M73 65.5h1M78 65.5h1M80 65.5h1M87 65.5h1M92 65.5h1M99 65.5h1M103 65.5h1M107 65.5h1M110 65.5h1M11 66.5h1M19 66.5h1M23 66.5h1M37 66.5h1M66 66.5h1M71 66.5h1M77 66.5h1M82 66.5h1M98 66.5h1M104 66.5h1M112 66.5h1M8 67.5h1M34 67.5h1M46 67.5h1M73 67.5h1M81 67.5h1M87 67.5h1M5 68.5h1M54 68.5h1M61 68.5h1M76 68.5h1M83 68.5h1M87 68.5h1M5 69.5h1M45 69.5h1M73 69.5h1M91 69.5h2M106 69.5h1M18 70.5h1M34 70.5h1M71 70.5h1M93 70.5h1M111 70.5h1M11 71.5h1M37 71.5h1M73 71.5h2M83 71.5h1M106 71.5h1M109 71.5h1M1 72.5h1M9 72.5h1M75 72.5h1M91 72.5h1M108 72.5h1M79 73.5h1M0 74.5h2M42 74.5h4M64 74.5h1M71 74.5h1M75 74.5h1M83 74.5h1M95 74.5h1M3 75.5h1M16 75.5h1M34 75.5h2M44 75.5h1M54 75.5h1M73 75.5h1M14 76.5h1M60 76.5h1M76 76.5h1M92 76.5h1M110 76.5h1M35 77.5h1M56 77.5h1M77 77.5h1M83 77.5h1M1 78.5h1M3 78.5h1M13 78.5h1M15 78.5h1M89 78.5h1M94 78.5h1M96 78.5h1M6 79.5h1M12 79.5h1M46 79.5h1M48 79.5h1M66 79.5h1M81 79.5h1M83 79.5h1M86 79.5h1M89 79.5h1M107 79.5h2M110 79.5h1M2 80.5h1M20 80.5h1M44 80.5h1M71 80.5h1M0 81.5h1M5 81.5h1M14 81.5h1M38 81.5h1M85 81.5h2M91 81.5h1M109 81.5h1M5 82.5h1M50 82.5h1M76 82.5h1M90 82.5h1M5 83.5h1M36 83.5h1M110 83.5h1M43 84.5h1M62 84.5h1M85 84.5h1M91 84.5h2M111 84.5h1M6 85.5h1M39 85.5h1M4 86.5h1M10 86.5h1M28 86.5h1M41 86.5h1M45 86.5h1M59 86.5h2M67 86.5h1M76 86.5h1M88 86.5h1M41 87.5h1M82 87.5h1M86 87.5h1M8 88.5h1M11 88.5h1M22 88.5h1M32 88.5h1M44 88.5h1M46 88.5h1M64 88.5h1M78 88.5h1M0 89.5h1M21 89.5h1M39 89.5h2M43 89.5h1M79 89.5h1M82 89.5h1M85 89.5h1M88 89.5h1M111 89.5h1"/><path stroke="#ee8281" d="M16 0.5h1M21 0.5h4M55 0.5h1M74 0.5h1M104 0.5h1M106 0.5h2M111 0.5h1M25 1.5h2M34 1.5h1M61 1.5h1M88 1.5h1M91 1.5h1M110 1.5h1M7 2.5h1M11 2.5h1M30 2.5h1M34 2.5h1M47 2.5h1M49 2.5h2M57 2.5h1M62 2.5h1M78 2.5h1M92 2.5h1M109 2.5h1M12 3.5h1M30 3.5h1M32 3.5h1M74 3.5h1M79 3.5h1M86 3.5h1M104 3.5h1M108 3.5h1M15 4.5h1M38 4.5h1M42 4.5h1M53 4.5h1M55 4.5h1M59 4.5h1M72 4.5h1M84 4.5h1M100 4.5h1M103 4.5h2M111 4.5h1M1 5.5h1M43 5.5h1M48 5.5h1M73 5.5h1M82 5.5h1M107 5.5h1M3 6.5h1M18 6.5h1M42 6.5h1M47 6.5h1M60 6.5h1M88 6.5h1M96 6.5h1M105 6.5h1M111 6.5h1M43 7.5h1M54 7.5h1M59 7.5h1M62 7.5h1M73 7.5h1M44 8.5h1M52 8.5h1M59 8.5h1M65 8.5h1M15 9.5h1M51 9.5h1M57 9.5h1M60 9.5h1M87 9.5h1M96 9.5h1M99 9.5h1M101 9.5h1M108 9.5h2M0 10.5h1M24 10.5h1M58 10.5h1M80 10.5h1M13 11.5h1M36 11.5h2M46 11.5h1M98 11.5h1M4 12.5h1M38 12.5h1M42 12.5h1M46 12.5h1M57 12.5h1M75 12.5h1M103 12.5h1M37 13.5h1M59 13.5h1M63 13.5h1M70 13.5h1M80 13.5h1M96 13.5h1M108 13.5h1M1 14.5h1M37 14.5h1M43 14.5h1M51 14.5h1M58 14.5h1M64 14.5h1M41 15.5h1M46 15.5h1M50 15.5h1M52 15.5h1M72 15.5h1M54 16.5h1M60 16.5h1M65 16.5h1M106 16.5h1M108 16.5h1M39 17.5h1M61 17.5h1M78 17.5h1M80 17.5h1M108 17.5h1M38 18.5h1M54 18.5h1M79 18.5h2M84 18.5h1M2 19.5h1M16 19.5h1M24 19.5h1M36 19.5h1M44 19.5h1M96 19.5h1M98 19.5h1M100 19.5h1M106 19.5h1M1 20.5h1M51 20.5h1M70 20.5h1M78 20.5h1M89 20.5h1M101 20.5h1M109 20.5h1M44 21.5h1M69 21.5h1M86 21.5h1M94 21.5h1M97 21.5h1M111 21.5h2M3 22.5h1M7 22.5h1M11 22.5h1M15 22.5h1M19 22.5h1M49 22.5h1M53 22.5h1M64 22.5h1M83 22.5h1M85 22.5h2M93 22.5h1M105 22.5h1M108 22.5h1M11 23.5h1M37 23.5h1M46 23.5h1M64 23.5h1M12 24.5h1M42 24.5h1M45 24.5h1M52 24.5h1M56 24.5h1M73 24.5h1M82 24.5h1M96 24.5h1M111 24.5h1M4 25.5h1M39 25.5h1M42 25.5h1M45 25.5h1M54 25.5h2M59 25.5h1M72 25.5h1M80 25.5h1M89 25.5h1M92 25.5h1M108 25.5h1M1 26.5h1M18 26.5h1M37 26.5h1M57 26.5h1M82 26.5h1M88 26.5h1M94 26.5h1M101 26.5h1M38 27.5h1M45 27.5h1M51 27.5h1M65 27.5h1M72 27.5h1M88 27.5h1M93 27.5h1M99 27.5h1M106 27.5h1M109 27.5h1M2 28.5h1M56 28.5h1M61 28.5h1M75 28.5h1M79 28.5h2M95 28.5h1M99 28.5h1M110 28.5h2M21 29.5h1M52 29.5h1M55 29.5h1M78 29.5h1M25 30.5h1M42 30.5h1M44 30.5h1M48 30.5h1M65 30.5h1M75 30.5h1M82 30.5h1M92 30.5h1M106 30.5h1M14 31.5h2M21 31.5h1M32 31.5h1M42 31.5h1M64 31.5h1M69 31.5h1M81 31.5h2M85 31.5h1M96 31.5h1M100 31.5h1M37 32.5h2M44 32.5h2M52 32.5h1M58 32.5h1M62 32.5h1M79 32.5h1M86 32.5h1M91 32.5h1M18 33.5h1M40 33.5h1M52 33.5h1M78 33.5h1M82 33.5h1M84 33.5h1M106 33.5h1M15 34.5h1M55 34.5h1M58 34.5h1M108 34.5h1M6 35.5h1M18 35.5h1M52 35.5h1M57 35.5h2M71 35.5h1M101 35.5h1M2 36.5h1M16 36.5h1M38 36.5h1M45 36.5h1M51 36.5h1M58 36.5h1M69 36.5h1M78 36.5h1M83 36.5h1M90 36.5h1M107 36.5h1M0 37.5h1M36 37.5h1M56 37.5h1M65 37.5h1M73 37.5h1M83 37.5h1M93 37.5h1M2 38.5h1M35 38.5h1M64 38.5h1M68 38.5h1M72 38.5h1M88 38.5h1M105 38.5h1M10 39.5h1M57 39.5h1M95 39.5h1M106 39.5h2M111 39.5h2M1 40.5h1M51 40.5h1M55 40.5h1M89 40.5h1M93 40.5h1M109 40.5h1M112 40.5h1M62 41.5h1M70 41.5h1M91 41.5h1M98 41.5h2M105 41.5h1M107 41.5h1M27 42.5h1M46 42.5h1M59 42.5h1M66 42.5h1M73 42.5h1M78 42.5h1M84 42.5h1M96 42.5h1M99 42.5h1M107 42.5h2M12 43.5h1M37 43.5h1M40 43.5h1M64 43.5h1M99 43.5h1M101 43.5h1M42 44.5h1M54 44.5h1M73 44.5h1M77 44.5h1M82 44.5h1M84 44.5h1M1 45.5h1M57 45.5h1M71 45.5h1M80 45.5h1M83 45.5h1M92 45.5h1M98 45.5h1M44 46.5h1M56 46.5h1M62 46.5h1M89 46.5h1M92 46.5h1M97 46.5h1M101 46.5h1M25 47.5h1M55 47.5h2M58 47.5h1M71 47.5h1M76 47.5h1M78 47.5h1M95 47.5h1M108 47.5h2M12 48.5h2M31 48.5h1M50 48.5h1M53 48.5h1M72 48.5h1M83 48.5h1M95 48.5h2M5 49.5h1M18 49.5h1M31 49.5h1M54 49.5h1M69 49.5h1M83 49.5h1M90 49.5h1M36 50.5h1M40 50.5h2M79 50.5h1M83 50.5h2M97 50.5h1M111 50.5h1M13 51.5h1M16 51.5h1M38 51.5h1M59 51.5h1M61 51.5h1M66 51.5h1M72 51.5h1M84 51.5h1M86 51.5h1M89 51.5h1M91 51.5h1M95 51.5h1M102 51.5h1M8 52.5h1M23 52.5h1M49 52.5h1M65 52.5h1M76 52.5h1M95 52.5h1M99 52.5h2M2 53.5h1M18 53.5h1M20 53.5h1M30 53.5h1M34 53.5h1M80 53.5h1M1 54.5h1M21 54.5h1M24 54.5h1M29 54.5h1M46 54.5h1M55 54.5h1M101 54.5h1M2 55.5h2M14 55.5h1M20 55.5h2M23 55.5h1M53 55.5h1M73 55.5h1M80 55.5h1M83 55.5h1M91 55.5h1M107 55.5h1M9 56.5h1M17 56.5h1M21 56.5h1M33 56.5h1M46 56.5h1M49 56.5h1M52 56.5h1M54 56.5h1M76 56.5h1M83 56.5h1M107 56.5h1M0 57.5h1M4 57.5h1M18 57.5h1M20 57.5h1M34 57.5h1M75 57.5h1M95 57.5h1M18 58.5h1M32 58.5h1M50 58.5h1M55 58.5h1M67 58.5h1M79 58.5h2M99 58.5h2M107 58.5h1M4 59.5h1M16 59.5h1M21 59.5h1M48 59.5h1M50 59.5h1M55 59.5h1M77 59.5h1M86 59.5h1M100 59.5h1M9 60.5h1M24 60.5h1M28 60.5h1M31 60.5h1M34 60.5h1M46 60.5h1M51 60.5h1M60 60.5h1M71 60.5h1M82 60.5h1M11 61.5h1M23 61.5h1M25 61.5h1M47 61.5h1M77 61.5h1M90 61.5h1M93 61.5h1M96 61.5h1M99 61.5h1M108 61.5h1M112 61.5h1M32 62.5h1M34 62.5h1M36 62.5h1M96 62.5h1M107 62.5h2M14 63.5h1M27 63.5h1M30 63.5h1M65 63.5h1M83 63.5h1M93 63.5h1M95 63.5h1M112 63.5h1M20 64.5h1M27 64.5h1M34 64.5h1M42 64.5h1M52 64.5h1M67 64.5h1M69 64.5h1M77 64.5h1M81 64.5h1M91 64.5h1M101 64.5h1M107 64.5h1M1 65.5h2M26 65.5h1M28 65.5h1M37 65.5h1M66 65.5h1M72 65.5h1M77 65.5h1M89 65.5h2M96 65.5h1M4 66.5h1M8 66.5h1M10 66.5h1M15 66.5h1M24 66.5h1M44 66.5h1M48 66.5h1M53 66.5h1M57 66.5h1M63 66.5h1M74 66.5h1M86 66.5h1M93 66.5h1M99 66.5h1M108 66.5h1M1 67.5h2M19 67.5h2M38 67.5h1M41 67.5h2M62 67.5h1M85 67.5h1M90 67.5h1M92 67.5h1M106 67.5h1M16 68.5h1M20 68.5h1M42 68.5h1M46 68.5h1M48 68.5h1M74 68.5h2M82 68.5h1M108 68.5h1M10 69.5h1M28 69.5h1M48 69.5h1M71 69.5h1M24 70.5h2M29 70.5h1M78 70.5h1M86 70.5h1M110 70.5h1M2 71.5h2M28 71.5h1M35 71.5h1M56 71.5h1M79 71.5h1M86 71.5h1M88 71.5h1M108 71.5h1M17 72.5h1M28 72.5h1M31 72.5h2M44 72.5h1M46 72.5h1M62 72.5h1M84 72.5h1M16 73.5h1M25 73.5h1M46 73.5h1M23 74.5h2M46 74.5h1M7 75.5h1M72 75.5h1M86 75.5h1M89 75.5h1M95 75.5h1M19 76.5h1M74 76.5h1M89 76.5h1M13 77.5h1M24 77.5h1M34 77.5h1M40 77.5h1M45 77.5h1M66 77.5h1M72 77.5h1M80 77.5h1M2 78.5h1M44 78.5h1M46 78.5h1M68 78.5h1M71 78.5h1M93 78.5h1M5 79.5h1M40 79.5h1M43 79.5h1M74 79.5h1M80 79.5h1M93 79.5h1M102 79.5h1M109 79.5h1M19 80.5h1M31 80.5h1M35 80.5h1M38 80.5h1M74 80.5h1M76 80.5h1M85 80.5h1M91 80.5h1M107 80.5h1M12 81.5h1M16 81.5h1M20 81.5h1M40 81.5h1M71 81.5h1M79 81.5h1M89 81.5h1M111 81.5h1M3 82.5h1M19 82.5h1M37 82.5h1M44 82.5h1M57 82.5h1M73 82.5h1M79 82.5h1M91 82.5h1M95 82.5h1M108 82.5h1M3 83.5h1M32 83.5h1M37 83.5h1M43 83.5h2M91 83.5h1M106 83.5h1M7 84.5h1M9 84.5h1M16 84.5h1M19 84.5h1M73 84.5h1M22 85.5h1M35 85.5h1M44 85.5h1M54 85.5h1M72 85.5h1M87 85.5h2M109 85.5h1M62 86.5h1M74 86.5h1M87 86.5h1M92 86.5h2M1 87.5h1M7 87.5h1M14 87.5h1M19 87.5h1M28 87.5h1M44 87.5h2M65 87.5h1M67 87.5h1M78 87.5h1M91 87.5h1M110 87.5h2M0 88.5h1M2 88.5h1M20 88.5h1M35 88.5h2M108 88.5h1M6 89.5h1M41 89.5h1M50 89.5h1M60 89.5h1M86 89.5h1M107 89.5h2M112 89.5h1"/><path stroke="#eb6c6a" d="M2 0.5h1M28 0.5h2M35 0.5h1M42 0.5h1M49 0.5h1M64 0.5h1M81 0.5h1M87 0.5h1M102 0.5h1M7 1.5h1M11 1.5h1M20 1.5h1M43 1.5h1M83 1.5h1M90 1.5h1M35 2.5h1M41 2.5h1M55 2.5h1M72 2.5h1M94 2.5h1M99 2.5h1M101 2.5h1M2 3.5h1M17 3.5h1M35 3.5h1M37 3.5h1M42 3.5h1M45 3.5h1M56 3.5h1M83 3.5h1M91 3.5h1M30 4.5h1M57 4.5h2M73 4.5h2M89 4.5h1M27 5.5h1M39 5.5h1M51 5.5h1M53 5.5h1M58 5.5h1M66 5.5h1M85 5.5h1M89 5.5h1M93 5.5h1M98 5.5h1M40 6.5h1M70 6.5h1M80 6.5h1M85 6.5h1M100 6.5h1M71 7.5h1M74 7.5h1M99 7.5h1M104 7.5h1M62 8.5h1M79 8.5h1M89 8.5h1M99 8.5h1M103 8.5h1M3 9.5h1M13 9.5h1M38 9.5h1M91 9.5h1M110 9.5h1M2 10.5h1M13 10.5h1M21 10.5h1M54 10.5h1M62 10.5h1M71 10.5h1M94 10.5h1M102 10.5h1M1 11.5h1M60 11.5h1M66 11.5h1M53 12.5h1M64 12.5h1M79 12.5h1M81 12.5h1M96 12.5h1M50 13.5h1M57 13.5h1M79 13.5h1M94 13.5h1M2 14.5h1M12 14.5h1M38 14.5h1M42 14.5h1M62 14.5h1M93 14.5h1M106 14.5h1M17 15.5h1M39 15.5h1M51 15.5h1M76 15.5h1M79 15.5h2M55 16.5h2M83 16.5h1M36 17.5h1M41 17.5h1M56 17.5h2M59 17.5h1M107 17.5h1M48 18.5h1M73 18.5h1M83 18.5h1M90 18.5h1M37 19.5h1M45 19.5h1M54 19.5h1M83 19.5h1M95 19.5h1M111 19.5h1M80 20.5h1M86 20.5h1M88 20.5h1M99 20.5h2M105 20.5h1M1 21.5h1M38 21.5h1M85 21.5h1M89 21.5h1M99 21.5h1M38 22.5h1M44 22.5h1M96 22.5h1M41 23.5h2M51 23.5h2M79 23.5h2M54 24.5h1M64 24.5h2M86 24.5h1M88 24.5h2M18 25.5h1M36 25.5h1M58 25.5h1M64 25.5h1M79 25.5h1M87 25.5h1M101 25.5h1M0 26.5h1M40 26.5h1M45 26.5h1M55 26.5h1M59 26.5h1M61 26.5h1M73 26.5h1M98 26.5h2M1 27.5h1M4 27.5h1M37 27.5h1M73 27.5h1M76 27.5h1M81 27.5h1M84 27.5h1M94 27.5h2M97 27.5h1M52 28.5h1M55 28.5h1M66 28.5h1M88 28.5h1M15 29.5h1M43 29.5h1M53 29.5h1M56 29.5h1M90 29.5h2M95 29.5h1M2 30.5h1M24 30.5h1M38 30.5h1M55 30.5h1M66 30.5h1M79 30.5h1M111 30.5h1M2 31.5h1M38 31.5h1M40 31.5h1M65 31.5h1M84 31.5h1M94 31.5h1M104 31.5h1M109 31.5h1M46 32.5h1M51 32.5h1M75 32.5h1M81 32.5h1M96 32.5h1M99 32.5h1M104 32.5h1M42 33.5h1M46 33.5h1M65 33.5h1M74 33.5h1M85 33.5h1M98 33.5h1M100 33.5h1M112 33.5h1M42 34.5h1M51 34.5h1M66 34.5h1M76 34.5h1M89 34.5h1M96 34.5h1M98 34.5h1M105 34.5h1M14 35.5h1M70 35.5h1M88 35.5h1M90 35.5h1M97 35.5h1M108 35.5h1M111 35.5h1M11 36.5h1M77 36.5h1M87 36.5h1M91 36.5h1M45 37.5h1M98 37.5h1M100 37.5h1M54 38.5h1M56 38.5h1M66 38.5h1M86 38.5h1M91 38.5h1M93 38.5h1M98 38.5h1M36 39.5h1M55 39.5h1M66 39.5h1M82 39.5h1M89 39.5h1M108 39.5h1M37 40.5h1M44 40.5h1M60 40.5h1M97 40.5h1M105 40.5h1M111 40.5h1M2 41.5h1M57 41.5h1M80 41.5h1M97 41.5h1M101 41.5h1M111 41.5h1M1 42.5h1M16 42.5h1M24 42.5h1M40 42.5h1M80 42.5h1M82 42.5h1M111 42.5h1M13 43.5h1M41 43.5h2M45 43.5h1M51 43.5h1M54 43.5h1M81 43.5h1M105 43.5h1M26 44.5h1M37 44.5h1M41 44.5h1M57 44.5h1M59 44.5h1M72 44.5h1M87 44.5h1M107 44.5h1M39 45.5h1M45 45.5h1M74 45.5h1M97 45.5h1M16 46.5h1M18 46.5h1M80 46.5h1M84 46.5h1M90 46.5h1M110 46.5h1M48 47.5h1M57 47.5h1M83 47.5h1M99 47.5h1M34 48.5h1M90 48.5h2M111 48.5h1M27 49.5h1M64 49.5h1M68 49.5h1M85 49.5h1M91 49.5h1M101 49.5h1M107 49.5h1M2 50.5h1M48 50.5h1M73 50.5h1M82 50.5h1M75 51.5h1M99 51.5h1M5 52.5h1M31 52.5h1M64 52.5h1M78 52.5h1M1 53.5h1M9 53.5h1M27 53.5h1M31 53.5h1M33 53.5h1M35 53.5h1M48 53.5h1M76 53.5h2M83 53.5h1M96 53.5h1M2 54.5h1M4 54.5h1M16 54.5h1M51 54.5h1M67 54.5h1M16 55.5h1M24 55.5h1M27 55.5h1M64 55.5h1M74 55.5h1M14 56.5h1M26 56.5h1M67 56.5h1M101 56.5h2M105 56.5h1M27 57.5h1M53 57.5h1M78 57.5h1M98 57.5h1M110 57.5h1M2 58.5h2M6 58.5h1M13 58.5h1M25 58.5h1M52 58.5h1M83 58.5h1M96 58.5h1M65 59.5h1M71 59.5h2M96 59.5h1M108 59.5h1M0 60.5h1M4 60.5h1M27 60.5h1M30 60.5h1M49 60.5h1M62 60.5h2M91 60.5h1M3 61.5h1M18 61.5h1M22 61.5h1M24 61.5h1M29 61.5h1M48 61.5h1M53 61.5h1M59 61.5h1M64 61.5h1M74 61.5h1M76 61.5h1M102 61.5h1M53 62.5h1M60 62.5h1M88 62.5h2M106 62.5h1M10 63.5h1M33 63.5h1M68 63.5h1M2 64.5h1M9 64.5h1M25 64.5h1M31 64.5h1M36 64.5h1M53 64.5h1M56 64.5h1M61 64.5h1M64 64.5h1M102 64.5h1M110 64.5h1M4 65.5h1M12 65.5h1M22 65.5h1M25 65.5h1M27 65.5h1M29 65.5h1M36 65.5h1M42 65.5h1M59 65.5h1M68 65.5h1M74 65.5h1M83 65.5h1M91 65.5h1M97 65.5h1M101 65.5h1M109 65.5h1M5 66.5h1M9 66.5h1M17 66.5h1M30 66.5h1M33 66.5h1M46 66.5h1M55 66.5h1M60 66.5h1M67 66.5h1M75 66.5h1M87 66.5h1M92 66.5h1M106 66.5h1M7 67.5h1M23 67.5h1M36 67.5h1M39 67.5h1M57 67.5h1M74 67.5h1M107 67.5h1M110 67.5h1M19 68.5h1M21 68.5h1M28 68.5h1M30 68.5h1M34 68.5h1M73 68.5h1M86 68.5h1M88 68.5h1M93 68.5h1M111 68.5h1M31 69.5h1M35 69.5h1M43 69.5h1M72 69.5h1M75 69.5h1M79 69.5h1M88 69.5h1M107 69.5h2M3 70.5h1M23 70.5h1M36 70.5h1M40 70.5h1M42 70.5h1M45 70.5h1M74 70.5h1M89 70.5h1M1 71.5h1M18 71.5h1M20 71.5h1M22 71.5h2M30 71.5h1M33 71.5h1M43 71.5h3M75 71.5h1M85 71.5h1M87 71.5h1M90 71.5h1M16 72.5h1M38 72.5h1M48 72.5h1M50 72.5h1M110 72.5h1M24 73.5h1M66 73.5h1M81 73.5h1M88 73.5h2M2 74.5h2M10 74.5h1M18 74.5h1M20 74.5h1M28 74.5h1M34 74.5h1M79 74.5h1M85 74.5h1M89 74.5h1M92 74.5h1M18 75.5h1M22 75.5h1M32 75.5h1M75 75.5h2M85 75.5h1M107 75.5h1M37 76.5h1M73 76.5h1M82 76.5h1M2 77.5h1M7 77.5h1M19 77.5h1M37 77.5h1M39 77.5h1M42 77.5h1M44 77.5h1M87 77.5h1M90 77.5h1M25 78.5h1M30 78.5h1M41 78.5h2M48 78.5h1M78 78.5h1M1 79.5h1M39 79.5h1M44 79.5h1M71 79.5h1M76 79.5h1M91 79.5h1M112 79.5h1M11 80.5h1M22 80.5h1M27 80.5h1M42 80.5h1M75 80.5h1M87 80.5h1M2 81.5h1M29 81.5h1M34 81.5h1M84 81.5h1M13 82.5h1M26 82.5h1M28 82.5h1M20 83.5h1M34 83.5h1M40 83.5h1M88 83.5h1M92 83.5h1M28 84.5h2M37 84.5h1M46 84.5h1M76 84.5h1M84 84.5h1M86 84.5h1M7 85.5h1M24 85.5h1M75 85.5h1M77 85.5h1M86 85.5h1M1 86.5h1M31 86.5h1M43 86.5h1M90 86.5h1M16 87.5h1M20 87.5h1M26 87.5h1M30 87.5h1M37 87.5h1M42 87.5h1M71 87.5h1M80 87.5h1M92 87.5h1M27 88.5h1M41 88.5h1M43 88.5h1M62 88.5h1M75 88.5h1M77 88.5h1M91 88.5h1M35 89.5h1M37 89.5h1M62 89.5h1M71 89.5h1M76 89.5h1M93 89.5h1"/><path stroke="#e85752" d="M26 0.5h1M33 0.5h1M40 0.5h1M58 0.5h1M70 0.5h1M76 0.5h2M84 0.5h1M89 0.5h1M110 0.5h1M12 1.5h1M22 1.5h1M67 1.5h2M77 1.5h1M92 1.5h1M94 1.5h2M2 2.5h1M4 2.5h1M6 2.5h1M13 2.5h1M26 2.5h1M29 2.5h1M31 2.5h2M54 2.5h1M56 2.5h1M60 2.5h1M75 2.5h1M80 2.5h1M83 2.5h1M106 2.5h1M6 3.5h1M10 3.5h1M47 3.5h1M52 3.5h1M66 3.5h1M71 3.5h1M73 3.5h1M109 3.5h1M35 4.5h1M43 4.5h1M86 4.5h2M92 4.5h3M112 4.5h1M64 5.5h1M68 5.5h1M95 5.5h1M83 6.5h1M90 6.5h1M97 6.5h1M46 7.5h1M64 7.5h1M93 7.5h1M103 7.5h1M107 7.5h1M38 8.5h1M86 8.5h1M92 8.5h2M96 8.5h1M105 8.5h1M107 8.5h1M112 8.5h1M78 9.5h1M85 9.5h1M14 10.5h1M40 10.5h2M46 10.5h1M11 11.5h1M39 11.5h1M41 11.5h1M54 11.5h1M81 11.5h1M105 11.5h1M83 12.5h1M111 12.5h1M44 13.5h1M93 13.5h1M52 14.5h1M57 14.5h1M2 15.5h1M26 15.5h1M65 15.5h1M83 15.5h1M92 15.5h1M102 15.5h1M18 16.5h1M57 16.5h1M82 16.5h1M107 16.5h1M16 17.5h1M52 17.5h1M3 18.5h1M40 18.5h1M44 18.5h1M53 18.5h1M56 18.5h1M70 18.5h1M108 18.5h1M38 19.5h1M58 19.5h1M79 19.5h1M89 19.5h1M92 19.5h1M104 19.5h1M46 20.5h1M87 20.5h1M94 20.5h1M98 20.5h1M54 21.5h1M66 21.5h1M79 21.5h1M93 21.5h1M104 21.5h2M110 21.5h1M13 22.5h1M39 22.5h1M43 22.5h1M51 22.5h1M54 22.5h1M79 22.5h1M104 22.5h1M45 23.5h1M53 23.5h1M71 23.5h1M85 23.5h1M55 24.5h1M78 24.5h2M85 24.5h1M92 24.5h1M98 24.5h1M102 24.5h1M60 25.5h1M112 25.5h1M2 26.5h1M14 26.5h1M52 26.5h1M54 26.5h1M79 26.5h2M86 26.5h1M110 26.5h1M18 27.5h1M41 27.5h1M64 27.5h1M80 27.5h1M86 27.5h1M1 28.5h1M51 28.5h1M57 28.5h1M73 28.5h1M83 28.5h1M97 28.5h1M102 28.5h1M40 29.5h1M79 29.5h1M81 29.5h1M92 29.5h1M104 29.5h1M107 29.5h1M78 30.5h1M80 30.5h1M96 30.5h1M43 31.5h1M51 31.5h1M55 31.5h1M105 31.5h1M18 32.5h1M65 32.5h1M78 32.5h1M108 32.5h1M88 33.5h1M91 33.5h2M38 34.5h1M54 34.5h1M60 34.5h1M81 34.5h1M91 34.5h1M103 34.5h2M3 35.5h1M78 35.5h1M89 35.5h1M91 35.5h1M95 35.5h1M41 36.5h1M57 36.5h1M66 36.5h1M79 36.5h1M96 36.5h1M101 36.5h1M104 36.5h1M37 37.5h1M52 37.5h1M54 37.5h1M86 37.5h1M16 38.5h1M39 38.5h1M74 38.5h1M78 38.5h1M80 38.5h1M106 38.5h1M108 38.5h1M43 39.5h1M60 39.5h1M80 39.5h1M103 39.5h2M56 40.5h1M80 40.5h1M84 40.5h1M103 40.5h1M89 41.5h1M12 42.5h1M37 42.5h1M52 42.5h1M64 42.5h2M74 42.5h1M86 42.5h1M90 42.5h1M103 42.5h1M0 43.5h1M18 43.5h1M26 43.5h1M43 43.5h1M46 43.5h1M55 43.5h1M72 43.5h1M85 43.5h1M88 43.5h1M90 43.5h1M18 44.5h1M92 44.5h2M95 44.5h1M97 44.5h1M104 44.5h1M55 45.5h2M60 45.5h1M64 45.5h1M110 45.5h1M2 46.5h1M55 46.5h1M102 46.5h1M54 47.5h1M86 47.5h1M92 47.5h1M52 48.5h1M54 48.5h1M80 48.5h1M88 48.5h1M26 49.5h1M53 49.5h1M29 50.5h1M57 50.5h1M74 50.5h1M86 50.5h1M91 50.5h1M102 50.5h1M20 51.5h1M52 51.5h1M85 51.5h1M19 52.5h1M24 52.5h1M29 52.5h1M55 52.5h1M62 52.5h1M83 52.5h1M88 52.5h1M15 53.5h1M23 53.5h1M52 53.5h2M60 53.5h1M69 53.5h1M72 53.5h1M111 53.5h1M14 54.5h2M25 54.5h1M33 54.5h1M49 54.5h1M54 54.5h1M58 54.5h1M61 54.5h1M64 54.5h1M1 55.5h1M5 55.5h1M9 55.5h1M30 55.5h1M32 55.5h1M54 55.5h2M75 55.5h1M5 56.5h4M24 56.5h1M51 56.5h1M59 56.5h1M61 56.5h1M63 56.5h1M11 57.5h1M15 57.5h1M19 57.5h1M31 57.5h1M107 57.5h1M4 58.5h1M9 58.5h1M20 58.5h1M24 58.5h1M29 58.5h1M46 58.5h1M51 58.5h1M57 58.5h1M63 58.5h1M108 58.5h1M11 59.5h1M25 59.5h1M46 59.5h1M51 59.5h1M64 59.5h1M11 60.5h1M16 60.5h1M68 60.5h1M74 60.5h1M76 60.5h1M101 60.5h1M103 60.5h1M4 61.5h1M8 61.5h2M15 61.5h1M26 61.5h1M28 61.5h1M57 61.5h1M60 61.5h1M63 61.5h1M68 61.5h1M80 61.5h1M88 61.5h1M15 62.5h2M26 62.5h1M33 62.5h1M46 62.5h1M54 62.5h1M59 62.5h1M65 62.5h1M80 62.5h1M13 63.5h1M20 63.5h1M31 63.5h1M36 63.5h1M42 63.5h1M48 63.5h1M62 63.5h1M79 63.5h2M92 63.5h1M110 63.5h2M5 64.5h1M22 64.5h1M24 64.5h1M26 64.5h1M40 64.5h1M49 64.5h1M63 64.5h1M76 64.5h1M80 64.5h1M20 65.5h1M33 65.5h1M41 65.5h1M43 65.5h1M48 65.5h1M56 65.5h1M65 65.5h1M75 65.5h2M2 66.5h1M13 66.5h1M29 66.5h1M56 66.5h1M65 66.5h1M105 66.5h1M107 66.5h1M109 67.5h1M18 68.5h1M26 68.5h1M71 68.5h2M79 68.5h1M107 68.5h1M27 69.5h1M29 69.5h1M83 69.5h1M89 69.5h1M19 70.5h2M27 70.5h1M33 70.5h1M39 70.5h1M41 70.5h1M44 70.5h1M73 70.5h1M84 70.5h2M88 70.5h1M19 71.5h1M39 71.5h1M42 71.5h1M92 71.5h1M2 72.5h1M18 72.5h2M30 72.5h1M34 72.5h1M37 72.5h1M45 72.5h1M22 73.5h1M26 73.5h1M29 73.5h2M40 73.5h1M61 73.5h1M73 73.5h2M84 73.5h1M90 73.5h1M111 73.5h1M22 74.5h1M30 74.5h1M32 74.5h2M90 74.5h1M24 75.5h1M33 75.5h1M40 75.5h1M78 75.5h1M82 75.5h2M90 75.5h2M22 76.5h1M30 76.5h1M42 76.5h1M44 76.5h1M87 76.5h2M91 76.5h1M20 77.5h1M28 77.5h1M30 77.5h1M54 77.5h1M71 77.5h1M85 77.5h1M88 77.5h1M0 78.5h1M26 78.5h1M35 78.5h1M39 78.5h1M43 78.5h1M85 78.5h1M90 78.5h1M10 79.5h1M25 79.5h1M33 79.5h1M38 79.5h1M42 79.5h1M45 79.5h1M78 79.5h1M85 79.5h1M88 79.5h1M106 79.5h1M1 80.5h1M30 80.5h1M39 80.5h1M108 80.5h1M19 81.5h1M27 81.5h2M37 81.5h1M45 81.5h1M93 81.5h1M24 82.5h1M32 82.5h1M46 82.5h1M77 82.5h1M111 82.5h1M19 83.5h1M29 83.5h3M33 83.5h1M41 83.5h1M86 83.5h1M89 83.5h1M3 84.5h1M21 84.5h2M33 84.5h1M44 84.5h1M87 84.5h2M93 84.5h1M107 84.5h1M23 85.5h1M32 85.5h1M43 85.5h1M50 85.5h1M76 85.5h1M110 85.5h2M16 86.5h1M32 86.5h1M86 86.5h1M111 86.5h1M38 87.5h1M87 87.5h1M108 87.5h1M3 88.5h1M21 88.5h1M24 88.5h1M37 88.5h1M79 88.5h1M83 88.5h1M89 88.5h1M107 88.5h1M111 88.5h1M38 89.5h1M42 89.5h1M75 89.5h1M109 89.5h1"/><path stroke="#e5443f" d="M4 0.5h1M10 0.5h1M13 0.5h1M27 0.5h1M36 0.5h1M75 0.5h1M79 0.5h1M66 1.5h1M75 1.5h1M82 1.5h1M9 2.5h1M48 2.5h1M65 2.5h1M88 2.5h1M28 3.5h2M31 3.5h1M34 3.5h1M43 3.5h1M62 3.5h1M96 3.5h1M106 3.5h1M28 4.5h1M32 4.5h2M80 4.5h1M83 4.5h1M98 4.5h1M80 5.5h1M97 5.5h1M51 6.5h1M91 6.5h1M101 6.5h2M57 7.5h1M83 7.5h1M54 8.5h1M56 8.5h1M41 9.5h1M94 9.5h1M79 10.5h1M84 10.5h1M90 10.5h1M100 10.5h1M112 10.5h1M18 11.5h1M53 11.5h1M73 11.5h1M75 11.5h1M51 12.5h1M104 12.5h1M40 14.5h1M44 14.5h1M66 14.5h1M85 14.5h1M102 14.5h2M58 15.5h1M60 15.5h1M66 15.5h1M90 16.5h1M104 16.5h1M42 17.5h1M60 17.5h1M83 17.5h1M102 17.5h1M104 17.5h1M52 18.5h1M60 18.5h1M104 18.5h1M65 19.5h1M99 19.5h1M103 19.5h1M12 20.5h1M91 20.5h1M36 21.5h1M57 21.5h2M55 22.5h1M76 22.5h1M97 22.5h1M102 23.5h3M58 24.5h1M66 24.5h1M83 24.5h1M103 24.5h1M0 25.5h1M38 25.5h1M41 25.5h1M85 25.5h1M90 25.5h1M103 25.5h1M42 26.5h1M89 26.5h1M103 26.5h2M12 27.5h1M40 27.5h1M55 27.5h1M37 28.5h1M42 28.5h1M78 28.5h1M85 28.5h1M12 29.5h1M58 29.5h1M64 29.5h1M82 29.5h1M57 30.5h1M60 30.5h1M86 30.5h1M103 30.5h2M56 31.5h1M73 31.5h1M79 31.5h1M83 31.5h1M88 31.5h1M91 31.5h1M102 31.5h1M57 32.5h1M64 32.5h1M102 32.5h2M41 33.5h1M44 33.5h1M87 33.5h1M104 33.5h1M108 33.5h1M39 34.5h1M83 34.5h1M59 35.5h1M104 35.5h1M42 36.5h1M84 36.5h1M88 36.5h1M3 37.5h1M41 37.5h1M46 37.5h1M59 37.5h1M64 37.5h1M88 37.5h1M84 38.5h1M101 38.5h1M103 38.5h2M12 39.5h1M41 39.5h1M54 39.5h1M64 39.5h1M79 39.5h1M101 39.5h1M54 40.5h1M83 40.5h1M99 40.5h1M38 41.5h1M40 41.5h2M64 41.5h1M73 41.5h1M84 41.5h1M103 41.5h1M2 42.5h1M85 42.5h1M102 42.5h1M4 43.5h1M2 45.5h1M32 45.5h1M38 45.5h1M84 45.5h1M88 46.5h1M91 46.5h1M36 47.5h1M40 47.5h1M52 47.5h1M56 48.5h1M4 50.5h1M99 50.5h1M1 52.5h1M6 52.5h1M10 52.5h1M22 52.5h1M26 52.5h1M46 52.5h1M56 52.5h1M61 52.5h1M102 52.5h1M7 53.5h2M13 53.5h1M58 53.5h1M67 53.5h1M9 54.5h1M11 54.5h1M48 54.5h1M57 54.5h1M65 54.5h1M68 54.5h1M73 54.5h1M94 54.5h1M12 55.5h1M15 55.5h1M33 55.5h1M56 55.5h1M60 55.5h1M68 55.5h1M77 55.5h1M13 56.5h1M31 56.5h2M50 56.5h1M55 56.5h1M65 56.5h1M70 56.5h1M90 56.5h1M6 57.5h1M22 57.5h1M52 57.5h1M64 57.5h1M67 57.5h1M12 58.5h1M14 58.5h1M22 58.5h1M30 58.5h2M54 58.5h1M61 58.5h1M65 58.5h1M68 58.5h2M30 59.5h1M32 59.5h1M57 59.5h1M61 59.5h1M6 60.5h1M56 60.5h1M64 60.5h1M66 60.5h1M5 61.5h1M14 61.5h1M16 61.5h1M33 61.5h1M46 61.5h1M51 61.5h1M55 61.5h1M65 61.5h1M67 61.5h1M31 62.5h1M58 62.5h1M64 62.5h1M69 62.5h1M6 63.5h1M38 63.5h1M49 63.5h1M55 63.5h1M75 63.5h1M89 63.5h1M48 64.5h1M75 64.5h1M79 64.5h1M86 64.5h2M3 65.5h1M16 65.5h1M88 65.5h1M16 66.5h1M21 66.5h1M40 66.5h1M79 66.5h1M84 66.5h2M88 66.5h1M91 66.5h1M110 66.5h2M0 67.5h1M24 67.5h1M25 68.5h1M43 68.5h1M80 68.5h1M85 68.5h1M1 69.5h1M3 69.5h1M16 69.5h1M22 69.5h1M33 69.5h2M40 69.5h1M44 69.5h1M85 69.5h2M28 70.5h1M83 70.5h1M107 70.5h1M112 70.5h1M31 71.5h2M36 71.5h1M38 71.5h1M91 71.5h1M21 72.5h1M24 72.5h1M36 72.5h1M85 72.5h1M21 73.5h1M23 73.5h1M32 73.5h1M41 73.5h1M48 73.5h1M80 73.5h1M83 73.5h1M31 74.5h1M38 74.5h1M23 75.5h1M27 75.5h2M31 75.5h1M37 75.5h1M42 75.5h1M46 75.5h1M60 75.5h1M108 75.5h1M27 76.5h1M38 76.5h2M43 76.5h1M75 76.5h1M85 76.5h2M26 77.5h1M31 77.5h2M106 77.5h1M28 78.5h1M31 78.5h1M75 78.5h2M82 78.5h1M19 79.5h1M21 79.5h1M26 79.5h1M28 79.5h2M26 80.5h1M83 80.5h2M86 80.5h1M88 80.5h1M33 81.5h1M41 81.5h2M82 81.5h1M92 81.5h1M107 81.5h1M18 82.5h1M27 82.5h1M35 82.5h2M22 83.5h2M28 83.5h1M23 84.5h1M25 84.5h1M32 84.5h1M90 84.5h1M19 85.5h2M31 85.5h1M33 85.5h1M37 85.5h1M46 85.5h1M83 85.5h1M85 85.5h1M93 85.5h1M2 86.5h1M12 86.5h1M18 86.5h1M20 86.5h1M24 86.5h2M34 86.5h1M23 87.5h3M79 87.5h1M28 88.5h1M30 88.5h1M2 89.5h1M15 89.5h1M23 89.5h1M31 89.5h1M33 89.5h1M36 89.5h1M80 89.5h1M92 89.5h1"/><path stroke="#e13936" d="M34 0.5h1M90 0.5h1M105 0.5h1M0 1.5h1M16 1.5h1M29 1.5h2M62 1.5h1M74 1.5h1M76 1.5h1M108 1.5h1M28 2.5h1M33 2.5h1M46 2.5h1M63 2.5h1M67 2.5h1M84 2.5h1M102 2.5h2M108 2.5h1M88 3.5h1M102 3.5h1M111 3.5h1M29 4.5h1M34 4.5h1M52 4.5h1M108 4.5h1M59 5.5h1M87 5.5h1M90 5.5h1M94 5.5h1M43 6.5h1M55 7.5h1M86 7.5h1M55 8.5h1M83 8.5h1M90 9.5h1M104 9.5h1M83 10.5h1M86 10.5h2M55 11.5h1M58 11.5h1M65 11.5h1M83 11.5h1M88 11.5h1M90 11.5h1M43 12.5h1M52 12.5h1M84 12.5h2M87 12.5h1M89 12.5h1M92 12.5h1M38 13.5h1M65 13.5h1M83 13.5h1M85 13.5h1M92 13.5h1M11 14.5h1M83 14.5h1M86 14.5h3M92 14.5h1M108 14.5h1M44 15.5h1M85 15.5h1M91 15.5h1M93 15.5h1M104 15.5h1M43 16.5h1M52 16.5h1M84 16.5h1M87 16.5h1M93 16.5h1M103 16.5h1M87 17.5h2M91 17.5h3M93 18.5h1M52 19.5h1M55 19.5h1M78 19.5h1M94 19.5h1M44 20.5h1M54 20.5h1M103 20.5h2M56 21.5h1M102 21.5h1M58 22.5h1M80 22.5h1M88 22.5h1M18 23.5h1M56 23.5h1M83 23.5h2M87 23.5h1M99 23.5h1M108 23.5h1M53 24.5h1M57 24.5h1M102 25.5h1M104 25.5h1M56 26.5h1M102 27.5h3M38 28.5h1M40 28.5h1M38 29.5h1M88 29.5h1M102 29.5h2M13 30.5h1M41 30.5h1M54 30.5h1M83 30.5h1M58 31.5h1M83 32.5h1M111 32.5h1M3 33.5h1M54 33.5h1M56 33.5h1M84 34.5h1M102 34.5h1M41 35.5h1M92 35.5h1M12 37.5h1M97 37.5h1M104 37.5h1M52 38.5h1M90 38.5h1M38 39.5h1M52 39.5h1M83 39.5h1M88 39.5h1M92 39.5h1M102 39.5h1M2 40.5h1M18 40.5h1M102 40.5h1M52 41.5h1M104 41.5h1M108 41.5h1M36 42.5h1M38 42.5h1M56 42.5h1M83 42.5h1M89 42.5h1M91 42.5h1M97 42.5h1M104 42.5h1M60 43.5h1M66 43.5h1M74 43.5h1M89 43.5h1M95 43.5h1M12 44.5h1M46 44.5h1M80 44.5h1M85 44.5h1M90 44.5h1M102 44.5h2M41 46.5h1M99 48.5h1M102 49.5h1M11 52.5h1M14 52.5h1M25 52.5h1M36 52.5h1M50 52.5h1M59 52.5h1M69 52.5h1M80 52.5h1M11 53.5h1M14 53.5h1M24 53.5h1M62 53.5h3M6 54.5h1M8 54.5h1M31 54.5h1M56 54.5h1M60 54.5h1M62 54.5h1M69 54.5h1M25 55.5h2M47 55.5h1M58 55.5h1M63 55.5h1M27 56.5h1M29 56.5h1M58 56.5h1M69 56.5h1M5 57.5h1M7 57.5h1M12 57.5h1M48 57.5h1M60 57.5h1M63 57.5h1M11 58.5h1M17 58.5h1M33 58.5h1M48 58.5h1M56 58.5h1M59 58.5h1M6 59.5h5M13 59.5h3M27 59.5h1M33 59.5h1M59 59.5h1M63 59.5h1M5 60.5h1M7 60.5h1M10 60.5h1M12 60.5h2M15 60.5h1M25 60.5h1M52 60.5h1M58 60.5h2M65 60.5h1M58 61.5h1M61 61.5h1M4 62.5h1M9 62.5h2M20 62.5h1M25 62.5h1M27 62.5h1M29 62.5h1M48 62.5h2M52 62.5h1M67 62.5h1M1 63.5h1M7 63.5h1M21 63.5h1M25 63.5h2M73 63.5h1M97 63.5h1M16 64.5h1M70 64.5h1M88 64.5h1M103 64.5h1M6 65.5h1M46 65.5h1M1 66.5h1M6 66.5h1M12 66.5h1M43 66.5h1M70 66.5h1M97 66.5h1M22 67.5h1M91 67.5h1M27 68.5h1M29 68.5h1M44 68.5h2M19 69.5h1M24 69.5h1M30 69.5h1M111 69.5h2M16 70.5h1M30 70.5h1M35 70.5h1M37 70.5h1M43 70.5h1M48 70.5h1M92 70.5h1M27 71.5h1M80 71.5h1M25 72.5h1M40 72.5h1M83 72.5h1M86 72.5h5M1 73.5h1M19 73.5h2M34 73.5h2M39 73.5h1M42 73.5h1M85 73.5h2M19 74.5h1M21 74.5h1M26 74.5h1M29 74.5h1M39 74.5h1M88 74.5h1M19 75.5h3M26 75.5h1M39 75.5h1M20 76.5h2M23 76.5h1M26 76.5h1M32 76.5h3M80 76.5h1M83 76.5h1M22 77.5h1M38 77.5h1M41 77.5h1M74 77.5h1M19 78.5h2M22 78.5h2M34 78.5h1M36 78.5h1M40 78.5h1M83 78.5h1M24 79.5h1M23 80.5h1M28 80.5h1M79 80.5h1M21 81.5h1M31 81.5h1M35 81.5h1M39 81.5h1M83 81.5h1M88 81.5h1M21 82.5h2M42 82.5h1M80 82.5h1M86 82.5h1M88 82.5h1M1 83.5h1M21 83.5h1M26 84.5h1M35 84.5h1M83 84.5h1M18 85.5h1M25 85.5h3M34 85.5h1M42 85.5h1M73 85.5h1M26 86.5h1M36 86.5h1M48 86.5h1M29 87.5h1M36 87.5h1M81 87.5h1M90 87.5h1M31 88.5h1M38 88.5h1M88 88.5h1M7 89.5h1M18 89.5h1M44 89.5h1M74 89.5h1"/><path stroke="#de2e2c" d="M25 0.5h1M31 0.5h2M57 0.5h1M32 1.5h2M16 2.5h1M33 3.5h1M57 3.5h1M97 3.5h1M31 4.5h1M56 4.5h1M60 4.5h1M88 4.5h1M91 4.5h1M54 5.5h1M91 5.5h1M65 7.5h1M41 8.5h1M51 8.5h1M53 8.5h1M64 8.5h1M88 8.5h1M43 9.5h1M52 9.5h2M56 9.5h1M64 9.5h1M79 9.5h1M85 10.5h1M92 10.5h2M43 11.5h1M86 11.5h1M89 11.5h1M93 11.5h1M56 12.5h1M93 12.5h1M55 13.5h1M87 13.5h4M104 13.5h1M90 14.5h1M104 14.5h1M84 15.5h1M87 15.5h1M89 15.5h2M46 17.5h1M66 17.5h1M84 17.5h2M90 17.5h1M103 18.5h1M56 19.5h1M62 19.5h1M85 19.5h1M88 19.5h1M52 20.5h1M81 20.5h1M85 20.5h1M103 21.5h1M45 22.5h1M88 23.5h1M46 24.5h1M104 24.5h1M83 25.5h1M58 26.5h1M64 26.5h1M83 26.5h2M90 26.5h1M83 27.5h1M89 27.5h1M43 28.5h1M86 28.5h1M103 28.5h2M83 29.5h1M89 30.5h1M53 31.5h1M89 31.5h1M88 32.5h2M102 33.5h2M90 34.5h1M44 35.5h1M64 35.5h1M83 35.5h1M89 36.5h1M103 37.5h1M0 38.5h1M41 38.5h1M83 38.5h1M102 38.5h1M59 39.5h1M105 39.5h1M64 40.5h1M95 40.5h1M83 41.5h1M87 41.5h1M94 41.5h1M60 42.5h1M83 43.5h1M93 43.5h1M104 43.5h1M56 44.5h1M110 44.5h1M91 45.5h1M38 46.5h1M2 48.5h1M57 48.5h1M2 52.5h1M13 52.5h1M67 52.5h1M6 53.5h1M54 53.5h1M57 53.5h1M61 53.5h1M7 54.5h1M10 54.5h1M12 54.5h1M63 54.5h1M4 55.5h1M7 55.5h1M10 55.5h2M13 55.5h1M59 55.5h1M61 55.5h1M65 55.5h1M60 56.5h1M62 56.5h1M64 56.5h1M68 56.5h1M8 57.5h2M14 57.5h1M26 57.5h1M51 57.5h1M56 57.5h1M59 57.5h1M61 57.5h1M66 57.5h1M68 57.5h1M7 58.5h1M15 58.5h2M27 58.5h1M60 58.5h1M34 59.5h1M52 59.5h1M68 59.5h2M14 60.5h1M29 60.5h1M67 60.5h1M6 61.5h1M10 61.5h1M13 61.5h1M27 61.5h1M34 61.5h1M50 61.5h1M56 61.5h1M66 61.5h1M5 62.5h2M8 62.5h1M11 62.5h1M61 62.5h1M63 62.5h1M99 62.5h1M29 63.5h1M43 63.5h1M74 63.5h1M76 63.5h1M85 63.5h1M107 63.5h1M7 64.5h1M41 64.5h1M97 64.5h1M108 64.5h1M111 64.5h1M94 65.5h1M25 66.5h2M50 66.5h1M52 66.5h1M54 66.5h1M101 66.5h2M11 67.5h1M27 67.5h1M29 67.5h1M32 67.5h2M37 67.5h1M40 67.5h1M1 68.5h2M23 68.5h2M32 68.5h1M36 68.5h1M20 69.5h1M25 69.5h2M32 69.5h1M36 69.5h1M42 69.5h1M31 70.5h2M24 71.5h2M29 71.5h1M40 71.5h1M20 72.5h1M22 72.5h2M27 72.5h1M33 72.5h1M39 72.5h1M42 72.5h1M18 73.5h1M27 73.5h1M31 73.5h1M33 73.5h1M38 73.5h1M25 74.5h1M27 74.5h1M40 74.5h2M86 74.5h1M25 75.5h1M30 75.5h1M36 75.5h1M38 75.5h1M41 75.5h1M88 75.5h1M18 76.5h1M25 76.5h1M28 76.5h2M31 76.5h1M35 76.5h1M40 76.5h1M21 77.5h1M27 77.5h1M33 77.5h1M43 77.5h1M21 78.5h1M27 78.5h1M33 78.5h1M38 78.5h1M45 78.5h1M84 78.5h1M22 79.5h2M30 79.5h1M34 79.5h2M41 79.5h1M24 80.5h1M29 80.5h1M32 80.5h1M34 80.5h1M32 81.5h1M23 82.5h1M25 82.5h1M38 82.5h1M78 82.5h1M26 83.5h1M76 83.5h1M24 84.5h1M27 84.5h1M34 84.5h1M38 84.5h1M112 84.5h1M40 85.5h1M19 86.5h1M21 86.5h2M29 86.5h1M21 87.5h2M34 87.5h1M43 87.5h1M83 87.5h1M25 88.5h1M29 88.5h1M45 88.5h1M52 88.5h1M16 89.5h1M20 89.5h1M26 89.5h1"/><path stroke="#da2323" d="M88 0.5h1M35 1.5h2M56 1.5h1M89 2.5h1M99 3.5h1M2 4.5h1M54 4.5h1M102 4.5h1M86 5.5h1M88 5.5h1M37 7.5h1M88 7.5h1M90 7.5h1M85 8.5h1M2 9.5h1M86 9.5h1M88 10.5h2M91 10.5h1M42 11.5h1M84 11.5h2M87 11.5h1M91 11.5h2M86 12.5h1M88 12.5h1M90 12.5h2M102 12.5h1M51 13.5h1M66 13.5h1M84 13.5h1M86 13.5h1M91 13.5h1M102 13.5h2M56 14.5h1M73 14.5h1M84 14.5h1M89 14.5h1M91 14.5h1M56 15.5h1M86 15.5h1M88 15.5h1M103 15.5h1M85 16.5h2M88 16.5h2M91 16.5h2M102 16.5h1M86 17.5h1M89 17.5h1M103 17.5h1M88 18.5h1M102 18.5h1M102 19.5h1M2 20.5h1M38 20.5h1M41 20.5h1M92 20.5h1M102 20.5h1M101 21.5h1M102 22.5h2M43 23.5h1M38 24.5h1M43 25.5h1M88 25.5h1M105 25.5h1M75 26.5h1M102 26.5h1M52 27.5h1M73 29.5h1M80 29.5h1M85 29.5h1M89 29.5h1M88 30.5h1M102 30.5h1M92 31.5h1M103 31.5h1M89 33.5h1M2 34.5h1M80 34.5h1M93 34.5h1M102 35.5h2M43 36.5h1M85 36.5h1M102 36.5h2M102 37.5h1M57 38.5h1M56 39.5h1M86 39.5h1M38 40.5h1M41 40.5h1M46 40.5h1M52 40.5h1M92 40.5h1M104 40.5h1M56 41.5h1M78 41.5h1M85 41.5h1M102 41.5h1M13 42.5h1M18 42.5h1M88 42.5h1M78 43.5h1M102 43.5h2M83 44.5h1M88 44.5h1M89 45.5h1M88 50.5h1M7 52.5h1M9 52.5h1M12 52.5h1M57 52.5h2M4 53.5h2M10 53.5h1M12 53.5h1M16 53.5h1M56 53.5h1M59 53.5h1M65 53.5h2M68 53.5h1M5 54.5h1M13 54.5h1M59 54.5h1M66 54.5h1M6 55.5h1M52 55.5h1M57 55.5h1M62 55.5h1M67 55.5h1M10 56.5h3M56 56.5h2M66 56.5h1M10 57.5h1M13 57.5h1M49 57.5h1M54 57.5h1M57 57.5h2M62 57.5h1M65 57.5h1M5 58.5h1M8 58.5h1M10 58.5h1M36 58.5h1M53 58.5h1M58 58.5h1M62 58.5h1M64 58.5h1M66 58.5h1M5 59.5h1M12 59.5h1M56 59.5h1M58 59.5h1M60 59.5h1M62 59.5h1M67 59.5h1M36 60.5h1M57 60.5h1M61 60.5h1M7 61.5h1M12 61.5h1M62 61.5h1M69 61.5h1M7 62.5h1M12 62.5h3M56 62.5h2M62 62.5h1M66 62.5h1M68 62.5h1M46 63.5h1M98 63.5h1M74 64.5h1M7 65.5h1M10 65.5h1M39 65.5h1M85 65.5h1M73 66.5h1M83 66.5h1M103 66.5h1M21 67.5h1M25 67.5h2M28 67.5h1M31 67.5h1M35 67.5h1M43 67.5h1M33 68.5h1M35 68.5h1M41 68.5h1M89 68.5h1M18 69.5h1M21 69.5h1M23 69.5h1M38 69.5h1M41 69.5h1M21 70.5h2M26 70.5h1M38 70.5h1M21 71.5h1M26 71.5h1M34 71.5h1M41 71.5h1M89 71.5h1M26 72.5h1M29 72.5h1M35 72.5h1M41 72.5h1M28 73.5h1M36 73.5h1M35 74.5h2M1 75.5h1M29 75.5h1M36 76.5h1M41 76.5h1M46 76.5h1M23 77.5h1M25 77.5h1M29 77.5h1M36 77.5h1M89 77.5h1M18 78.5h1M24 78.5h1M29 78.5h1M32 78.5h1M88 78.5h1M20 79.5h1M27 79.5h1M31 79.5h2M36 79.5h1M21 80.5h1M25 80.5h1M33 80.5h1M36 80.5h2M46 80.5h1M110 80.5h1M1 81.5h1M18 81.5h1M22 81.5h5M30 81.5h1M36 81.5h1M46 81.5h1M1 82.5h1M20 82.5h1M29 82.5h3M33 82.5h2M83 82.5h1M2 83.5h1M18 83.5h1M24 83.5h2M27 83.5h1M73 83.5h1M20 84.5h1M30 84.5h2M36 84.5h1M40 84.5h3M1 85.5h1M21 85.5h1M28 85.5h3M38 85.5h1M23 86.5h1M27 86.5h1M33 86.5h1M35 86.5h1M80 86.5h1M27 87.5h1M31 87.5h1M33 87.5h1M35 87.5h1M88 87.5h1M18 88.5h1M23 88.5h1M26 88.5h1M33 88.5h2M25 89.5h1M27 89.5h1M29 89.5h2M34 89.5h1M46 89.5h1M83 89.5h1"/></g></g>
<rect x="41.3" y="41.2" width="94.3" height="4.7" fill="#27a3dc"/>
<rect x="135.6" y="41.2" width="132.1" height="4.7" fill="#f0952c"/>
<text x="19.2" y="46.3" font-size="7.0" text-anchor="start" textLength="20.7" lengthAdjust="spacingAndGlyphs" fill="#262626" stroke="#262626" stroke-width="0.18">Cluster</text>
<defs><filter id="hb23" x="0" y="0" width="1" height="1"><feGaussianBlur stdDeviation="0.55"/></filter></defs>
<g filter="url(#hb23)"><g transform="translate(41.00,405.40) scale(4.4980,1.8967)" stroke-width="1" fill="none"><path stroke="#3c3296" d="M2 0.5h1M2 1.5h1M28 1.5h1M2 2.5h2M3 3.5h1M2 4.5h1M2 5.5h1M3 6.5h1M3 9.5h1M3 10.5h1M3 12.5h1M2 13.5h1M2 15.5h1M3 18.5h1M3 19.5h1M2 20.5h1M3 22.5h1M2 23.5h1M3 25.5h1M2 27.5h2M15 30.5h1M9 32.5h1M29 32.5h1M3 33.5h1M5 33.5h1M16 34.5h1M2 36.5h1M4 36.5h1M3 37.5h1M3 39.5h1M3 43.5h1M15 49.5h1M20 50.5h1M6 53.5h1M16 54.5h1M28 54.5h1M5 55.5h1M12 57.5h1M21 57.5h1M28 57.5h1M16 58.5h1"/><path stroke="#463c9f" d="M3 1.5h1M46 3.5h1M28 5.5h1M46 7.5h1M2 9.5h1M31 10.5h1M32 11.5h1M28 13.5h1M2 14.5h1M29 15.5h1M46 16.5h1M2 19.5h1M5 26.5h1M8 26.5h1M21 26.5h1M20 27.5h1M2 28.5h1M10 28.5h1M19 28.5h1M15 29.5h1M29 29.5h1M20 30.5h1M18 31.5h1M21 31.5h1M4 33.5h1M11 33.5h1M21 33.5h1M23 33.5h1M2 34.5h1M28 34.5h1M3 35.5h1M7 35.5h1M2 37.5h1M21 37.5h1M28 37.5h1M2 38.5h1M14 38.5h1M2 40.5h2M20 40.5h1M3 41.5h1M8 41.5h1M16 41.5h1M28 43.5h1M2 44.5h1M6 47.5h2M15 47.5h1M18 48.5h1M21 49.5h1M2 50.5h1M4 52.5h1M16 52.5h1M32 52.5h1M3 53.5h1M21 54.5h1M29 54.5h1M2 55.5h1M20 55.5h2M3 56.5h1M46 57.5h1M2 58.5h2M18 58.5h1M28 58.5h1M21 59.5h1"/><path stroke="#5147a8" d="M32 3.5h1M46 4.5h1M31 5.5h1M34 5.5h1M40 8.5h1M2 11.5h1M29 12.5h1M41 12.5h1M45 13.5h1M29 14.5h1M41 14.5h1M35 15.5h1M29 17.5h1M28 19.5h1M28 20.5h1M29 23.5h1M36 24.5h1M46 24.5h1M9 26.5h1M11 26.5h1M5 27.5h1M18 27.5h1M29 27.5h1M6 28.5h1M14 28.5h1M20 28.5h1M28 28.5h1M3 29.5h1M14 29.5h1M23 29.5h1M2 30.5h1M17 30.5h1M2 31.5h1M4 31.5h1M15 31.5h2M29 31.5h1M14 32.5h2M19 32.5h1M15 33.5h1M4 34.5h1M6 34.5h1M17 34.5h1M9 35.5h2M21 35.5h1M29 35.5h1M6 36.5h2M13 37.5h1M23 37.5h1M21 38.5h1M8 39.5h1M16 39.5h1M7 40.5h1M13 40.5h1M6 41.5h1M20 41.5h1M3 42.5h1M5 42.5h1M7 42.5h1M28 42.5h1M4 43.5h1M15 43.5h1M21 43.5h1M23 43.5h1M29 43.5h1M32 43.5h1M13 44.5h1M4 45.5h1M4 46.5h1M13 46.5h1M18 46.5h1M2 47.5h1M18 47.5h1M3 48.5h1M17 48.5h1M20 48.5h2M2 49.5h1M4 49.5h1M8 49.5h1M17 49.5h1M4 50.5h1M14 50.5h1M16 50.5h1M21 50.5h1M32 50.5h1M46 50.5h1M7 51.5h1M12 51.5h1M14 51.5h1M18 51.5h1M3 52.5h1M7 52.5h1M28 52.5h2M2 53.5h1M13 53.5h1M16 53.5h1M18 53.5h1M21 53.5h1M23 53.5h1M13 54.5h1M23 54.5h1M32 54.5h1M18 55.5h1M29 56.5h1M5 57.5h1M32 57.5h1M21 58.5h1M8 59.5h1M16 59.5h1"/><path stroke="#5c52b1" d="M48 0.5h1M28 2.5h1M30 2.5h1M43 2.5h1M29 3.5h1M41 3.5h2M49 3.5h1M41 4.5h1M47 4.5h1M48 5.5h1M29 6.5h1M32 6.5h1M34 6.5h1M49 6.5h1M28 7.5h1M23 8.5h1M28 8.5h1M33 8.5h1M46 8.5h2M28 9.5h1M46 9.5h1M49 9.5h1M41 10.5h1M3 11.5h1M29 11.5h1M32 13.5h1M41 13.5h1M48 14.5h1M30 15.5h1M47 16.5h1M45 17.5h1M31 18.5h1M40 18.5h1M44 18.5h1M15 19.5h1M35 19.5h1M38 19.5h1M30 20.5h1M37 20.5h2M47 20.5h1M2 22.5h1M37 22.5h1M40 24.5h1M47 24.5h1M30 25.5h1M32 25.5h1M2 26.5h2M7 26.5h1M13 26.5h1M18 26.5h1M38 26.5h1M9 27.5h1M14 27.5h2M10 29.5h1M34 29.5h1M12 31.5h1M17 31.5h1M2 32.5h2M13 32.5h1M16 32.5h1M20 32.5h1M6 33.5h1M10 33.5h1M11 34.5h1M29 34.5h1M13 35.5h1M15 36.5h1M21 36.5h1M34 36.5h1M4 37.5h1M7 37.5h1M10 37.5h1M14 37.5h1M17 37.5h1M37 37.5h1M13 38.5h1M15 38.5h1M19 38.5h2M30 38.5h1M32 38.5h1M5 39.5h1M13 39.5h1M28 39.5h1M8 40.5h1M30 40.5h1M38 40.5h1M7 41.5h1M12 41.5h1M21 41.5h1M23 41.5h1M4 42.5h1M15 42.5h1M18 42.5h1M21 42.5h1M29 42.5h1M7 43.5h1M19 43.5h1M7 44.5h1M14 44.5h1M28 44.5h1M34 44.5h1M46 44.5h1M3 45.5h1M6 46.5h1M8 46.5h1M17 46.5h1M20 46.5h1M28 46.5h1M5 47.5h1M8 47.5h1M28 47.5h1M4 48.5h1M13 48.5h1M50 48.5h1M14 49.5h1M18 49.5h1M20 49.5h1M28 49.5h1M23 50.5h1M13 51.5h1M19 51.5h2M34 51.5h1M2 52.5h1M13 52.5h1M15 52.5h1M18 52.5h1M21 52.5h1M5 53.5h1M10 53.5h1M20 53.5h1M31 53.5h1M4 54.5h2M12 54.5h1M14 54.5h1M20 54.5h1M3 55.5h1M10 55.5h1M2 56.5h1M6 56.5h1M10 56.5h1M15 56.5h1M42 56.5h1M7 57.5h1M9 57.5h2M13 57.5h1M16 57.5h1M34 57.5h1M12 58.5h1M19 58.5h1M2 59.5h1M11 59.5h2M14 59.5h1M17 59.5h1M19 59.5h2M32 59.5h1"/><path stroke="#6b61ba" d="M15 0.5h1M35 0.5h1M37 0.5h1M45 0.5h1M47 0.5h1M20 1.5h2M31 1.5h1M36 1.5h2M43 1.5h1M16 2.5h1M29 2.5h1M31 2.5h1M34 2.5h1M49 2.5h1M5 3.5h1M40 3.5h1M47 3.5h1M13 4.5h1M35 4.5h2M42 4.5h1M44 4.5h1M15 5.5h1M23 5.5h1M30 5.5h1M38 5.5h1M41 5.5h1M47 5.5h1M33 6.5h1M35 6.5h2M38 6.5h1M45 6.5h1M29 7.5h2M45 8.5h1M40 9.5h1M43 9.5h1M29 10.5h1M33 10.5h1M36 10.5h1M10 11.5h1M16 11.5h1M23 11.5h1M30 11.5h1M44 11.5h1M47 11.5h1M44 12.5h1M46 12.5h2M37 13.5h1M40 13.5h1M16 14.5h1M40 14.5h1M34 15.5h1M39 15.5h1M42 15.5h1M44 15.5h1M50 15.5h1M4 16.5h1M15 16.5h1M20 16.5h1M31 16.5h1M33 16.5h1M39 16.5h1M23 17.5h1M46 17.5h1M13 18.5h1M29 19.5h1M32 19.5h1M45 19.5h2M49 19.5h1M8 20.5h1M12 20.5h1M41 20.5h1M45 20.5h2M30 21.5h1M33 21.5h1M37 21.5h1M40 21.5h1M42 21.5h1M29 22.5h1M33 22.5h1M40 22.5h2M31 23.5h1M45 23.5h1M47 23.5h1M39 24.5h1M31 25.5h1M46 25.5h1M28 26.5h1M10 27.5h1M13 27.5h1M19 27.5h1M28 27.5h1M7 28.5h1M9 28.5h1M30 28.5h1M48 28.5h1M4 29.5h1M12 29.5h1M19 29.5h1M38 29.5h1M5 30.5h2M12 30.5h1M33 30.5h1M35 30.5h1M43 30.5h1M20 31.5h1M35 31.5h2M8 32.5h1M33 32.5h1M47 32.5h1M41 33.5h1M8 34.5h1M12 34.5h1M20 34.5h1M41 34.5h1M20 35.5h1M23 35.5h1M30 35.5h1M33 35.5h1M36 35.5h1M42 35.5h1M5 36.5h1M17 36.5h1M23 36.5h1M47 36.5h1M16 37.5h1M19 37.5h1M5 38.5h1M11 38.5h1M23 38.5h1M33 38.5h1M45 38.5h1M49 38.5h1M1 39.5h2M7 39.5h1M12 39.5h1M15 39.5h1M17 39.5h1M23 39.5h1M30 39.5h1M5 40.5h1M11 40.5h1M29 40.5h1M32 40.5h1M41 40.5h1M11 41.5h1M17 41.5h1M32 41.5h1M41 41.5h1M46 41.5h2M30 42.5h1M46 42.5h1M20 43.5h1M31 43.5h1M20 44.5h2M36 44.5h1M9 45.5h1M11 45.5h2M19 45.5h1M28 45.5h1M38 45.5h1M42 45.5h1M31 46.5h2M12 47.5h1M20 47.5h1M29 47.5h1M40 47.5h1M48 47.5h1M40 48.5h1M45 48.5h1M1 49.5h1M6 49.5h1M9 49.5h1M19 49.5h1M32 49.5h1M40 49.5h1M7 50.5h1M28 50.5h1M8 51.5h1M15 51.5h1M17 51.5h1M36 51.5h1M43 51.5h1M9 52.5h3M14 52.5h1M17 52.5h1M20 52.5h1M44 52.5h2M14 53.5h1M46 53.5h1M41 54.5h1M17 55.5h1M30 55.5h1M32 55.5h2M9 56.5h1M12 56.5h1M28 56.5h1M15 57.5h1M20 57.5h1M8 58.5h1M14 58.5h1M29 58.5h1M37 58.5h1M48 58.5h1M6 59.5h1M18 59.5h1M36 59.5h1"/><path stroke="#7d73c4" d="M5 0.5h1M19 0.5h1M32 0.5h1M39 0.5h1M4 1.5h1M32 1.5h2M45 1.5h2M13 2.5h1M40 2.5h1M46 2.5h1M7 3.5h1M10 3.5h1M28 3.5h1M35 3.5h1M4 4.5h1M8 4.5h1M16 4.5h1M39 4.5h2M9 5.5h1M16 5.5h1M36 5.5h2M42 5.5h1M9 6.5h1M23 6.5h1M37 6.5h1M46 6.5h2M12 7.5h1M34 7.5h2M41 7.5h1M3 8.5h1M8 8.5h1M37 8.5h1M39 8.5h1M42 8.5h1M4 9.5h1M18 9.5h1M31 9.5h1M35 9.5h3M2 10.5h1M38 10.5h1M50 10.5h1M9 11.5h1M12 11.5h1M14 11.5h1M41 11.5h1M45 11.5h1M35 12.5h2M38 12.5h1M3 13.5h2M23 13.5h1M42 13.5h1M50 13.5h1M19 14.5h1M23 14.5h1M39 14.5h1M44 14.5h1M3 15.5h1M28 15.5h1M31 15.5h1M43 15.5h1M2 16.5h1M30 16.5h1M45 16.5h1M49 16.5h1M7 17.5h1M15 17.5h1M33 17.5h2M36 17.5h1M38 17.5h1M33 18.5h1M37 18.5h1M45 18.5h1M11 19.5h1M16 19.5h1M23 19.5h1M34 20.5h1M48 20.5h1M32 21.5h1M45 21.5h1M45 22.5h2M49 22.5h1M38 23.5h1M44 23.5h1M3 24.5h1M29 24.5h2M33 24.5h1M42 24.5h2M35 25.5h1M47 25.5h1M4 26.5h1M32 26.5h1M44 26.5h1M37 27.5h1M50 27.5h1M36 28.5h1M46 28.5h1M9 29.5h1M17 29.5h1M32 29.5h2M42 29.5h1M32 30.5h1M41 30.5h1M50 30.5h1M9 31.5h2M30 31.5h1M47 31.5h2M50 31.5h1M34 32.5h1M41 32.5h1M19 33.5h1M39 33.5h1M46 33.5h1M9 34.5h1M33 34.5h1M5 35.5h1M11 35.5h2M31 35.5h2M50 35.5h1M1 36.5h1M28 36.5h1M33 36.5h1M37 36.5h2M43 36.5h2M46 36.5h1M1 37.5h1M29 37.5h1M7 38.5h1M12 38.5h1M36 38.5h1M42 38.5h1M47 38.5h1M50 38.5h1M48 39.5h1M1 40.5h1M10 40.5h1M31 40.5h1M34 40.5h1M43 40.5h1M46 40.5h1M40 41.5h1M42 41.5h1M6 42.5h1M33 42.5h1M41 42.5h1M10 43.5h1M30 43.5h1M33 43.5h2M38 43.5h1M43 43.5h1M19 44.5h1M32 44.5h1M35 44.5h1M40 44.5h1M50 44.5h1M5 45.5h2M30 45.5h1M33 45.5h1M46 45.5h1M30 46.5h1M45 46.5h1M23 47.5h1M30 47.5h1M19 48.5h1M30 48.5h2M16 49.5h1M34 49.5h1M39 49.5h1M47 49.5h1M5 50.5h1M11 50.5h1M18 50.5h1M40 50.5h1M44 50.5h1M11 51.5h1M31 51.5h1M50 51.5h1M12 52.5h1M36 52.5h1M40 52.5h1M43 52.5h1M48 52.5h1M50 52.5h1M15 53.5h1M36 53.5h1M41 53.5h1M45 53.5h1M47 53.5h1M31 54.5h1M35 54.5h1M50 54.5h1M8 55.5h1M31 55.5h1M42 55.5h1M48 55.5h1M23 56.5h1M35 56.5h1M40 56.5h1M47 56.5h1M49 56.5h1M14 57.5h1M1 58.5h1M7 58.5h1M23 58.5h1M33 58.5h1M36 58.5h1M44 58.5h1M7 59.5h1M23 59.5h1M48 59.5h1"/><path stroke="#8f85ce" d="M18 0.5h1M7 1.5h1M15 1.5h1M19 1.5h1M23 1.5h1M29 1.5h1M47 1.5h1M6 2.5h1M15 2.5h1M19 2.5h1M23 2.5h1M12 3.5h1M23 3.5h1M30 3.5h2M33 3.5h1M43 3.5h2M48 3.5h1M50 3.5h1M3 4.5h1M5 4.5h2M43 5.5h1M49 5.5h1M2 6.5h1M6 6.5h1M15 6.5h1M43 6.5h1M48 6.5h1M50 6.5h1M15 7.5h1M18 7.5h3M47 7.5h1M50 7.5h1M6 8.5h1M14 8.5h2M18 8.5h3M33 9.5h1M50 9.5h1M4 10.5h1M6 10.5h1M8 10.5h2M14 10.5h2M20 10.5h1M23 10.5h1M40 10.5h1M45 10.5h1M1 11.5h1M15 11.5h1M33 11.5h1M39 11.5h1M46 11.5h1M50 11.5h1M8 12.5h1M18 12.5h1M31 12.5h1M45 12.5h1M49 12.5h2M1 13.5h1M5 13.5h1M9 13.5h1M15 13.5h1M17 13.5h1M5 14.5h1M42 14.5h1M45 14.5h1M7 15.5h2M10 15.5h1M10 16.5h1M13 16.5h1M21 16.5h1M2 17.5h1M8 17.5h1M13 17.5h1M16 17.5h1M18 17.5h2M37 17.5h1M49 17.5h1M6 18.5h1M10 18.5h1M18 18.5h1M20 18.5h1M20 19.5h1M3 20.5h1M7 20.5h1M17 20.5h1M44 20.5h1M28 21.5h1M34 21.5h1M38 22.5h2M43 22.5h1M1 23.5h1M43 23.5h1M46 23.5h1M31 24.5h1M35 24.5h1M44 24.5h1M49 24.5h1M39 25.5h1M15 26.5h1M30 26.5h1M36 26.5h1M42 26.5h1M31 27.5h1M40 27.5h1M43 27.5h1M46 27.5h1M48 27.5h1M1 28.5h1M3 28.5h1M8 28.5h1M34 28.5h1M38 28.5h1M45 28.5h1M21 29.5h1M30 29.5h1M36 29.5h1M43 29.5h1M48 29.5h1M11 30.5h1M22 30.5h1M36 30.5h1M47 30.5h2M31 31.5h1M34 31.5h1M42 31.5h2M49 31.5h1M1 32.5h1M37 33.5h2M48 33.5h1M5 34.5h1M30 34.5h2M38 34.5h1M40 34.5h1M45 34.5h1M48 34.5h1M50 34.5h1M35 35.5h1M43 35.5h1M45 35.5h1M39 36.5h1M50 36.5h1M11 37.5h1M31 37.5h1M38 37.5h1M41 37.5h2M44 37.5h1M10 38.5h1M34 38.5h1M39 38.5h1M41 38.5h1M36 39.5h1M45 39.5h1M15 40.5h1M44 41.5h1M16 42.5h1M34 42.5h1M40 42.5h1M46 43.5h1M37 44.5h1M39 45.5h1M45 45.5h1M47 45.5h1M1 46.5h1M23 46.5h1M38 46.5h1M42 46.5h2M22 47.5h1M33 47.5h1M36 47.5h1M35 48.5h1M48 48.5h1M38 49.5h1M33 50.5h1M37 50.5h2M43 50.5h1M3 51.5h1M28 51.5h1M33 51.5h1M37 51.5h1M42 51.5h1M47 51.5h1M8 52.5h1M33 52.5h1M41 52.5h2M11 53.5h1M22 53.5h1M30 54.5h1M34 54.5h1M37 54.5h2M40 54.5h1M45 54.5h1M48 54.5h1M11 55.5h1M39 55.5h1M43 55.5h1M50 55.5h1M45 56.5h1M30 57.5h1M43 57.5h3M50 57.5h1M13 58.5h1M38 58.5h2M42 58.5h1M47 58.5h1M49 58.5h2M22 59.5h1M30 59.5h1M37 59.5h1"/><path stroke="#a499d6" d="M1 0.5h1M3 0.5h1M17 0.5h1M20 0.5h1M34 0.5h1M41 0.5h1M5 1.5h2M9 1.5h1M11 1.5h1M48 1.5h1M1 2.5h1M5 2.5h1M12 2.5h1M21 2.5h1M32 2.5h1M41 2.5h1M6 3.5h1M11 3.5h1M20 3.5h1M31 4.5h1M3 5.5h1M5 5.5h1M19 5.5h1M33 5.5h1M1 6.5h1M8 6.5h1M11 6.5h1M17 6.5h2M40 6.5h1M2 7.5h2M8 7.5h1M1 8.5h2M5 8.5h1M10 8.5h1M10 9.5h1M5 11.5h1M42 11.5h1M11 12.5h1M19 12.5h1M43 13.5h1M3 14.5h1M8 14.5h1M15 14.5h1M20 14.5h1M43 14.5h1M4 15.5h2M11 15.5h2M16 15.5h1M1 16.5h1M3 16.5h1M5 16.5h1M35 16.5h1M1 17.5h1M10 17.5h1M39 17.5h1M9 18.5h1M49 18.5h1M13 19.5h1M43 19.5h1M48 19.5h1M33 20.5h1M3 21.5h1M1 24.5h2M1 25.5h1M1 26.5h1M34 26.5h1M37 26.5h1M49 26.5h2M21 27.5h1M32 27.5h1M36 27.5h1M38 27.5h1M4 28.5h1M22 28.5h1M40 28.5h1M7 29.5h1M22 29.5h1M45 29.5h1M30 30.5h2M37 30.5h1M42 30.5h1M21 32.5h2M38 32.5h1M48 32.5h2M16 33.5h1M30 33.5h1M34 33.5h2M39 34.5h1M28 35.5h1M39 35.5h1M49 35.5h1M3 36.5h1M8 36.5h1M29 36.5h1M35 37.5h1M45 37.5h1M16 38.5h1M37 38.5h1M48 38.5h1M33 39.5h3M37 39.5h1M39 39.5h1M49 39.5h1M14 40.5h1M22 40.5h1M42 40.5h1M44 40.5h1M50 40.5h1M0 41.5h1M24 41.5h1M34 41.5h1M37 42.5h1M44 42.5h2M2 43.5h1M22 43.5h1M45 43.5h1M50 43.5h1M1 44.5h1M31 44.5h1M39 44.5h1M43 44.5h2M47 44.5h1M49 44.5h1M15 46.5h1M35 46.5h1M16 47.5h1M21 47.5h1M26 47.5h1M39 47.5h1M47 47.5h1M1 48.5h1M37 48.5h1M44 48.5h1M5 49.5h1M12 49.5h1M23 49.5h1M37 49.5h1M50 49.5h1M35 50.5h1M45 50.5h1M38 51.5h1M49 51.5h1M6 52.5h1M25 52.5h1M31 52.5h1M35 52.5h1M39 52.5h1M1 53.5h1M30 53.5h1M40 53.5h1M43 53.5h1M22 54.5h1M36 54.5h1M1 55.5h1M38 55.5h1M41 55.5h1M44 55.5h1M16 56.5h1M0 57.5h1M2 57.5h1M15 58.5h1M38 59.5h1"/><path stroke="#beb2dd" d="M9 0.5h1M14 0.5h1M44 1.5h1M4 2.5h1M10 2.5h1M17 2.5h1M19 3.5h1M50 4.5h1M29 5.5h1M46 5.5h1M7 6.5h1M12 6.5h1M20 6.5h1M1 7.5h1M10 7.5h2M17 7.5h1M37 7.5h1M39 7.5h1M1 9.5h1M7 9.5h1M11 9.5h1M1 10.5h1M20 11.5h1M5 12.5h1M7 12.5h1M13 12.5h1M42 12.5h1M11 13.5h1M13 13.5h1M9 14.5h1M11 14.5h1M17 15.5h1M19 15.5h1M17 16.5h1M28 16.5h1M44 16.5h1M3 17.5h1M12 18.5h1M4 19.5h1M11 20.5h1M16 20.5h1M2 21.5h1M3 23.5h1M45 25.5h1M6 26.5h1M25 27.5h1M39 27.5h1M17 28.5h1M42 28.5h1M2 29.5h1M16 29.5h1M40 29.5h2M50 29.5h1M3 30.5h2M28 30.5h1M49 30.5h1M3 31.5h1M13 31.5h1M28 31.5h1M4 32.5h2M7 32.5h1M7 33.5h1M13 33.5h1M20 33.5h1M36 33.5h1M42 33.5h1M15 34.5h1M21 34.5h2M1 35.5h1M22 35.5h1M0 36.5h1M16 36.5h1M40 36.5h1M5 37.5h2M30 37.5h1M49 37.5h1M22 38.5h1M29 38.5h1M26 39.5h1M15 41.5h1M13 42.5h1M22 42.5h1M49 42.5h1M5 43.5h1M10 44.5h1M16 44.5h1M15 45.5h2M22 45.5h1M44 45.5h1M0 46.5h1M10 46.5h1M16 46.5h1M19 46.5h1M37 46.5h1M34 47.5h1M6 48.5h1M28 48.5h1M0 49.5h1M46 49.5h1M12 50.5h1M50 50.5h1M0 51.5h1M2 51.5h1M4 51.5h1M0 52.5h1M49 52.5h1M17 53.5h1M38 53.5h1M49 53.5h1M1 54.5h3M15 54.5h1M18 54.5h1M14 55.5h1M16 55.5h1M22 55.5h1M28 55.5h1M13 56.5h1M1 57.5h1M6 57.5h1M19 57.5h1M23 57.5h1M31 57.5h1M0 58.5h1M4 58.5h2M24 58.5h1M41 58.5h1M3 59.5h1M15 59.5h1M39 59.5h1"/><path stroke="#d8cbe3" d="M4 0.5h1M22 1.5h1M20 2.5h1M47 2.5h1M0 3.5h1M2 3.5h1M45 3.5h1M10 4.5h1M33 4.5h1M0 5.5h2M11 5.5h1M32 5.5h1M10 6.5h1M30 6.5h1M41 6.5h2M13 7.5h1M32 7.5h1M36 7.5h1M28 10.5h1M46 10.5h1M48 10.5h1M11 11.5h1M2 12.5h1M34 12.5h1M29 13.5h1M12 16.5h1M22 16.5h1M32 16.5h1M48 16.5h1M28 17.5h1M2 18.5h1M16 18.5h1M47 18.5h1M21 20.5h1M32 20.5h1M36 21.5h1M0 22.5h1M7 22.5h1M16 22.5h1M23 22.5h1M32 22.5h1M48 22.5h1M16 23.5h1M21 23.5h1M32 23.5h2M7 24.5h1M10 24.5h1M2 25.5h1M42 25.5h1M14 26.5h1M20 26.5h1M29 26.5h1M16 27.5h1M15 28.5h2M18 28.5h1M21 28.5h1M23 28.5h1M29 28.5h1M5 29.5h2M35 29.5h1M39 29.5h1M0 30.5h1M7 30.5h2M16 30.5h1M6 31.5h1M23 31.5h1M27 31.5h1M12 32.5h1M23 32.5h1M26 32.5h1M22 33.5h1M29 33.5h1M0 34.5h1M3 34.5h1M14 34.5h1M6 35.5h1M14 35.5h1M11 36.5h2M49 36.5h1M34 37.5h1M3 38.5h1M38 38.5h1M4 39.5h1M22 39.5h1M6 40.5h1M16 40.5h2M23 40.5h1M25 40.5h1M39 40.5h1M49 40.5h1M2 41.5h1M5 41.5h1M18 41.5h2M29 41.5h1M10 42.5h1M12 42.5h1M19 42.5h1M25 42.5h1M8 43.5h1M11 43.5h1M13 43.5h2M18 44.5h1M2 45.5h1M10 45.5h1M13 45.5h1M26 45.5h1M29 45.5h1M3 46.5h1M9 46.5h1M49 46.5h1M3 47.5h2M14 47.5h1M2 48.5h1M7 48.5h1M12 48.5h1M22 48.5h1M26 48.5h1M46 48.5h1M13 49.5h1M0 50.5h2M3 50.5h1M6 50.5h1M9 50.5h1M15 50.5h1M17 50.5h1M27 50.5h1M42 50.5h1M49 50.5h1M27 52.5h1M17 54.5h1M39 54.5h1M49 54.5h1M4 55.5h1M15 55.5h1M35 55.5h1M24 56.5h2M4 57.5h1M6 58.5h1M11 58.5h1M22 58.5h1M9 59.5h1M25 59.5h1M50 59.5h1"/><path stroke="#f2e4ea" d="M30 0.5h1M46 0.5h1M42 1.5h1M0 2.5h1M11 2.5h1M27 2.5h1M33 2.5h1M37 2.5h1M38 3.5h1M0 4.5h1M20 4.5h1M17 5.5h1M19 6.5h1M16 7.5h1M23 9.5h1M16 10.5h1M0 11.5h1M35 11.5h1M28 12.5h1M32 12.5h1M48 12.5h1M30 13.5h1M36 13.5h1M44 13.5h1M46 13.5h1M48 13.5h1M21 14.5h1M28 14.5h1M31 14.5h2M34 14.5h1M46 14.5h1M21 15.5h1M41 15.5h1M46 15.5h1M48 15.5h2M14 17.5h1M41 17.5h1M44 17.5h1M50 17.5h1M1 18.5h1M21 18.5h1M32 18.5h1M35 18.5h1M39 18.5h1M46 18.5h1M0 20.5h1M29 20.5h1M4 21.5h2M12 21.5h1M15 21.5h2M35 21.5h1M38 21.5h2M5 22.5h1M8 22.5h1M13 22.5h1M17 22.5h1M19 22.5h3M9 23.5h2M12 23.5h3M17 23.5h1M30 23.5h1M4 24.5h1M12 24.5h2M15 24.5h2M32 24.5h1M8 25.5h1M10 25.5h1M14 25.5h1M16 25.5h1M18 25.5h1M21 25.5h1M33 25.5h1M38 25.5h1M23 26.5h1M27 26.5h1M41 26.5h1M4 27.5h1M6 27.5h2M12 27.5h1M27 27.5h1M41 27.5h1M47 27.5h1M5 28.5h1M11 28.5h3M27 28.5h1M39 28.5h1M28 29.5h1M9 30.5h2M25 30.5h1M29 30.5h1M5 31.5h1M7 31.5h2M14 31.5h1M41 31.5h1M6 32.5h1M24 32.5h1M28 32.5h1M8 33.5h1M1 34.5h1M7 34.5h1M18 34.5h1M4 35.5h1M15 35.5h1M17 35.5h1M41 35.5h1M10 36.5h1M25 36.5h1M36 36.5h1M8 37.5h1M15 37.5h1M18 37.5h1M4 38.5h1M18 38.5h1M28 38.5h1M6 39.5h1M9 39.5h2M14 39.5h1M29 39.5h1M4 40.5h1M9 40.5h1M18 40.5h1M21 40.5h1M4 41.5h1M9 41.5h1M13 41.5h1M25 41.5h1M28 41.5h1M8 42.5h1M17 42.5h1M20 42.5h1M35 42.5h1M12 43.5h1M16 43.5h3M3 44.5h1M12 44.5h1M15 44.5h1M0 45.5h1M8 45.5h1M17 45.5h2M24 45.5h1M2 46.5h1M5 46.5h1M7 46.5h1M34 46.5h1M10 47.5h2M17 47.5h1M25 47.5h1M5 48.5h1M9 48.5h1M14 48.5h2M29 48.5h1M7 49.5h1M10 49.5h1M8 50.5h1M10 50.5h1M19 50.5h1M24 50.5h1M5 51.5h1M16 51.5h1M25 51.5h1M29 51.5h1M46 51.5h1M19 52.5h1M23 52.5h1M7 53.5h1M9 53.5h1M27 53.5h1M32 53.5h2M37 53.5h1M42 53.5h1M6 54.5h1M9 54.5h3M24 54.5h1M44 54.5h1M46 54.5h1M6 55.5h1M12 55.5h2M0 56.5h1M4 56.5h1M7 56.5h1M11 56.5h1M14 56.5h1M19 56.5h3M34 56.5h1M41 56.5h1M43 56.5h1M8 57.5h1M17 58.5h1M25 58.5h1M30 58.5h1M46 58.5h1M5 59.5h1M13 59.5h1M41 59.5h1M47 59.5h1"/><path stroke="#f1cbcf" d="M28 0.5h1M33 0.5h1M36 0.5h1M40 0.5h1M49 0.5h2M25 1.5h1M30 1.5h1M38 1.5h2M41 1.5h1M25 2.5h1M36 2.5h1M39 2.5h1M15 3.5h1M21 3.5h1M27 3.5h1M29 4.5h1M34 4.5h1M48 4.5h1M40 5.5h1M28 6.5h1M44 6.5h1M33 7.5h1M38 7.5h1M43 7.5h1M48 7.5h1M27 8.5h1M31 8.5h2M34 8.5h2M48 8.5h1M15 9.5h1M32 9.5h1M34 9.5h1M41 9.5h1M45 9.5h1M47 9.5h2M22 10.5h1M34 10.5h2M37 10.5h1M42 10.5h1M8 11.5h1M31 11.5h1M36 11.5h2M37 12.5h1M16 13.5h1M31 13.5h1M33 13.5h1M35 13.5h1M47 13.5h1M0 14.5h1M36 14.5h2M0 15.5h1M24 15.5h1M32 15.5h2M36 15.5h3M40 15.5h1M45 15.5h1M47 15.5h1M19 16.5h1M23 16.5h1M29 16.5h1M34 16.5h1M41 16.5h2M50 16.5h1M31 17.5h2M47 17.5h1M0 18.5h1M28 18.5h3M34 18.5h1M41 18.5h2M48 18.5h1M25 19.5h1M30 19.5h2M34 19.5h1M41 19.5h1M4 20.5h3M13 20.5h1M19 20.5h1M23 20.5h1M25 20.5h1M31 20.5h1M43 20.5h1M49 20.5h1M0 21.5h1M14 21.5h1M18 21.5h1M23 21.5h1M29 21.5h1M31 21.5h1M41 21.5h1M50 21.5h1M11 22.5h1M18 22.5h1M42 22.5h1M44 22.5h1M6 23.5h1M35 23.5h2M49 23.5h1M34 24.5h1M41 24.5h1M45 24.5h1M48 24.5h1M5 25.5h2M29 25.5h1M34 25.5h1M37 25.5h1M41 25.5h1M43 25.5h1M48 25.5h1M10 26.5h1M25 26.5h1M33 26.5h1M46 26.5h2M8 27.5h1M23 27.5h1M26 28.5h1M41 28.5h1M47 28.5h1M11 29.5h1M13 29.5h1M44 29.5h1M13 30.5h1M21 30.5h1M23 30.5h1M38 30.5h1M46 30.5h1M11 31.5h1M19 31.5h1M33 31.5h1M37 31.5h1M10 32.5h2M17 32.5h2M27 32.5h1M2 33.5h1M9 33.5h1M12 33.5h1M14 33.5h1M17 33.5h2M26 33.5h1M28 33.5h1M10 34.5h1M13 34.5h1M19 34.5h1M23 34.5h1M32 34.5h1M37 34.5h1M46 34.5h1M2 35.5h1M16 35.5h1M19 35.5h1M24 35.5h1M40 35.5h1M14 36.5h1M18 36.5h3M26 36.5h2M12 37.5h1M25 37.5h2M36 37.5h1M40 37.5h1M46 37.5h1M48 37.5h1M6 38.5h1M9 38.5h1M17 38.5h1M27 38.5h1M19 39.5h3M24 39.5h1M32 39.5h1M40 39.5h1M12 40.5h1M19 40.5h1M24 40.5h1M28 40.5h1M47 40.5h1M10 41.5h1M14 41.5h1M26 41.5h1M30 41.5h1M35 41.5h2M43 41.5h1M2 42.5h1M9 42.5h1M11 42.5h1M14 42.5h1M26 42.5h1M32 42.5h1M36 42.5h1M39 42.5h1M6 43.5h1M35 43.5h1M4 44.5h3M8 44.5h1M11 44.5h1M17 44.5h1M48 44.5h1M14 45.5h1M20 45.5h1M35 45.5h1M27 46.5h1M46 46.5h1M1 47.5h1M19 47.5h1M37 47.5h1M50 47.5h1M8 48.5h1M16 48.5h1M32 48.5h1M39 48.5h1M11 49.5h1M29 49.5h1M35 49.5h2M43 49.5h1M48 49.5h1M13 50.5h1M25 50.5h1M48 50.5h1M6 51.5h1M10 51.5h1M21 51.5h1M23 51.5h1M26 51.5h1M32 51.5h1M5 52.5h1M4 53.5h1M12 53.5h1M25 53.5h1M29 53.5h1M8 54.5h1M19 54.5h1M25 55.5h1M29 55.5h1M34 55.5h1M5 56.5h1M18 56.5h1M22 56.5h1M38 56.5h1M3 57.5h1M11 57.5h1M17 57.5h2M27 57.5h1M29 57.5h1M41 57.5h1M48 57.5h1M20 58.5h1M31 58.5h1M34 58.5h1M40 58.5h1M10 59.5h1M27 59.5h2M35 59.5h1M46 59.5h1M49 59.5h1"/><path stroke="#f1b2b5" d="M7 0.5h1M16 0.5h1M29 0.5h1M44 0.5h1M13 1.5h1M16 1.5h1M34 1.5h2M50 1.5h1M42 2.5h1M44 2.5h1M48 2.5h1M50 2.5h1M8 3.5h2M34 3.5h1M36 3.5h2M23 4.5h1M28 4.5h1M30 4.5h1M32 4.5h1M37 4.5h2M22 5.5h1M35 5.5h1M50 5.5h1M0 6.5h1M31 6.5h1M23 7.5h1M27 7.5h1M45 7.5h1M16 8.5h1M30 8.5h1M36 8.5h1M38 8.5h1M41 8.5h1M44 8.5h1M49 8.5h2M5 9.5h1M12 9.5h1M16 9.5h2M20 9.5h1M29 9.5h1M42 9.5h1M44 9.5h1M0 10.5h1M5 10.5h1M7 10.5h1M12 10.5h2M24 10.5h1M32 10.5h1M39 10.5h1M44 10.5h1M47 10.5h1M13 11.5h1M22 11.5h1M27 11.5h2M34 11.5h1M43 11.5h1M49 11.5h1M16 12.5h1M21 12.5h3M33 12.5h1M14 13.5h1M21 13.5h1M25 13.5h1M39 13.5h1M49 13.5h1M13 14.5h1M26 14.5h1M30 14.5h1M33 14.5h1M50 14.5h1M13 15.5h1M20 15.5h1M22 15.5h1M8 16.5h1M16 16.5h1M25 16.5h1M27 16.5h1M37 16.5h1M0 17.5h1M5 17.5h1M21 17.5h1M27 17.5h1M30 17.5h1M42 17.5h2M4 18.5h1M8 18.5h1M14 18.5h1M23 18.5h1M38 18.5h1M50 18.5h1M1 19.5h1M22 19.5h1M33 19.5h1M42 19.5h1M36 20.5h1M39 20.5h1M42 20.5h1M50 20.5h1M10 21.5h1M44 21.5h1M4 22.5h1M10 22.5h1M30 22.5h1M36 22.5h1M50 22.5h1M34 23.5h1M37 23.5h1M48 23.5h1M23 24.5h1M37 24.5h2M4 25.5h1M15 25.5h1M44 25.5h1M49 25.5h2M12 26.5h1M16 26.5h2M19 26.5h1M40 26.5h1M43 26.5h1M17 27.5h1M26 27.5h1M33 27.5h1M45 27.5h1M49 27.5h1M32 28.5h1M50 28.5h1M8 29.5h1M18 29.5h1M20 29.5h1M26 29.5h1M37 29.5h1M47 29.5h1M1 30.5h1M14 30.5h1M32 31.5h1M46 31.5h1M31 32.5h2M35 32.5h1M45 32.5h2M33 33.5h1M27 34.5h1M36 34.5h1M18 35.5h1M37 35.5h2M46 35.5h1M48 35.5h1M13 36.5h1M31 36.5h2M9 37.5h1M20 37.5h1M43 37.5h1M47 37.5h1M1 38.5h1M8 38.5h1M26 38.5h1M40 38.5h1M11 39.5h1M18 39.5h1M43 39.5h2M47 39.5h1M50 39.5h1M35 40.5h1M37 40.5h1M33 41.5h1M48 41.5h1M1 42.5h1M23 42.5h1M38 42.5h1M50 42.5h1M1 43.5h1M9 43.5h1M24 43.5h2M36 43.5h2M39 43.5h1M42 43.5h1M48 43.5h1M23 44.5h1M45 44.5h1M7 45.5h1M21 45.5h1M23 45.5h1M31 45.5h1M34 45.5h1M37 45.5h1M43 45.5h1M48 45.5h1M11 46.5h1M14 46.5h1M21 46.5h2M29 46.5h1M33 46.5h1M36 46.5h1M39 46.5h1M44 46.5h1M9 47.5h1M13 47.5h1M24 47.5h1M32 47.5h1M44 47.5h1M11 48.5h1M23 48.5h1M25 48.5h1M34 48.5h1M3 49.5h1M25 49.5h1M41 49.5h1M29 50.5h1M31 50.5h1M36 50.5h1M47 50.5h1M9 51.5h1M41 51.5h1M45 51.5h1M1 52.5h1M22 52.5h1M30 52.5h1M37 52.5h1M8 53.5h1M34 53.5h1M48 53.5h1M50 53.5h1M7 54.5h1M33 54.5h1M7 55.5h1M9 55.5h1M19 55.5h1M37 55.5h1M46 55.5h2M8 56.5h1M17 56.5h1M31 56.5h1M37 57.5h1M40 57.5h1M42 57.5h1M9 58.5h2M26 58.5h1M32 58.5h1M4 59.5h1M26 59.5h1M31 59.5h1M40 59.5h1M43 59.5h1"/><path stroke="#f0999a" d="M6 0.5h1M10 0.5h1M12 0.5h1M21 0.5h1M23 0.5h1M25 0.5h1M31 0.5h1M38 0.5h1M42 0.5h1M17 1.5h2M40 1.5h1M14 2.5h1M18 2.5h1M26 2.5h1M13 3.5h2M16 3.5h1M39 3.5h1M17 4.5h1M21 4.5h1M26 4.5h1M43 4.5h1M45 4.5h1M49 4.5h1M4 5.5h1M13 5.5h1M39 5.5h1M44 5.5h2M4 6.5h2M14 6.5h1M16 6.5h1M27 6.5h1M39 6.5h1M21 7.5h1M40 7.5h1M42 7.5h1M44 7.5h1M49 7.5h1M4 8.5h1M9 8.5h1M17 8.5h1M26 8.5h1M29 8.5h1M6 9.5h1M8 9.5h1M13 9.5h1M30 9.5h1M39 9.5h1M18 10.5h2M25 10.5h2M43 10.5h1M49 10.5h1M6 11.5h2M18 11.5h1M21 11.5h1M40 11.5h1M48 11.5h1M0 12.5h1M6 12.5h1M12 12.5h1M14 12.5h2M20 12.5h1M25 12.5h1M27 12.5h1M30 12.5h1M39 12.5h2M43 12.5h1M6 13.5h1M10 13.5h1M12 13.5h1M26 13.5h1M38 13.5h1M4 14.5h1M18 14.5h1M35 14.5h1M47 14.5h1M6 15.5h1M14 15.5h2M7 16.5h1M26 16.5h1M36 16.5h1M38 16.5h1M40 16.5h1M43 16.5h1M4 17.5h1M6 17.5h1M12 17.5h1M17 17.5h1M35 17.5h1M48 17.5h1M7 18.5h1M26 18.5h2M43 18.5h1M5 19.5h1M7 19.5h1M9 19.5h2M12 19.5h1M21 19.5h1M27 19.5h1M37 19.5h1M39 19.5h2M44 19.5h1M47 19.5h1M50 19.5h1M14 20.5h1M35 20.5h1M7 21.5h1M13 21.5h1M19 21.5h3M27 21.5h1M43 21.5h1M46 21.5h2M49 21.5h1M9 22.5h1M12 22.5h1M14 22.5h2M31 22.5h1M34 22.5h2M47 22.5h1M4 23.5h2M7 23.5h2M11 23.5h1M15 23.5h1M18 23.5h3M50 23.5h1M6 24.5h1M9 24.5h1M17 24.5h2M50 24.5h1M9 25.5h1M11 25.5h2M17 25.5h1M19 25.5h2M23 25.5h1M36 25.5h1M31 26.5h1M35 26.5h1M45 26.5h1M11 27.5h1M30 27.5h1M34 27.5h1M31 28.5h1M31 29.5h1M46 29.5h1M49 29.5h1M18 30.5h2M1 31.5h1M44 31.5h2M30 32.5h1M36 32.5h2M39 32.5h1M42 32.5h1M44 32.5h1M50 32.5h1M32 33.5h1M40 33.5h1M34 34.5h1M43 34.5h1M47 34.5h1M49 34.5h1M8 35.5h1M34 35.5h1M44 35.5h1M47 35.5h1M22 36.5h1M30 36.5h1M35 36.5h1M41 36.5h1M48 36.5h1M32 37.5h1M39 37.5h1M31 38.5h1M38 39.5h1M41 39.5h1M46 39.5h1M36 40.5h1M40 40.5h1M31 41.5h1M37 41.5h1M24 42.5h1M43 42.5h1M47 42.5h1M40 43.5h2M44 43.5h1M47 43.5h1M49 43.5h1M9 44.5h1M22 44.5h1M26 44.5h1M29 44.5h2M33 44.5h1M38 44.5h1M41 44.5h2M1 45.5h1M32 45.5h1M36 45.5h1M40 45.5h2M49 45.5h2M40 46.5h2M47 46.5h1M31 47.5h1M38 47.5h1M41 47.5h2M46 47.5h1M10 48.5h1M33 48.5h1M36 48.5h1M41 48.5h1M43 48.5h1M47 48.5h1M31 49.5h1M33 49.5h1M44 49.5h1M49 49.5h1M34 50.5h1M39 50.5h1M35 51.5h1M44 51.5h1M24 52.5h1M34 52.5h1M38 52.5h1M46 52.5h1M19 53.5h1M28 53.5h1M44 53.5h1M43 54.5h1M47 54.5h1M30 56.5h1M36 56.5h2M46 56.5h1M48 56.5h1M24 57.5h1M33 57.5h1M35 57.5h2M35 58.5h1M43 58.5h1M45 58.5h1M33 59.5h2M45 59.5h1"/><path stroke="#ee8281" d="M11 0.5h1M10 1.5h1M12 1.5h1M49 1.5h1M35 2.5h1M38 2.5h1M1 3.5h1M4 3.5h1M17 3.5h1M7 4.5h1M15 4.5h1M18 4.5h1M6 5.5h2M18 5.5h1M20 5.5h2M24 5.5h1M13 6.5h1M21 6.5h1M24 6.5h1M4 7.5h3M14 7.5h1M31 7.5h1M11 8.5h1M21 8.5h1M9 9.5h1M14 9.5h1M38 9.5h1M10 10.5h1M17 10.5h1M4 11.5h1M19 11.5h1M26 11.5h1M38 11.5h1M1 12.5h1M4 12.5h1M9 12.5h1M19 13.5h2M24 13.5h1M34 13.5h1M1 14.5h1M14 14.5h1M17 14.5h1M38 14.5h1M18 15.5h1M25 15.5h1M9 16.5h1M11 16.5h1M14 16.5h1M11 17.5h1M20 17.5h1M5 18.5h1M15 18.5h1M17 18.5h1M19 18.5h1M36 18.5h1M8 19.5h1M14 19.5h1M17 19.5h1M36 19.5h1M9 20.5h1M20 20.5h1M26 20.5h1M40 20.5h1M6 21.5h1M8 21.5h2M11 21.5h1M17 21.5h1M24 21.5h2M48 21.5h1M1 22.5h1M6 22.5h1M23 23.5h1M39 23.5h4M5 24.5h1M8 24.5h1M11 24.5h1M14 24.5h1M19 24.5h3M7 25.5h1M13 25.5h1M40 25.5h1M22 26.5h1M39 26.5h1M48 26.5h1M22 27.5h1M35 27.5h1M42 27.5h1M44 27.5h1M33 28.5h1M35 28.5h1M37 28.5h1M43 28.5h2M25 29.5h1M24 30.5h1M34 30.5h1M39 30.5h1M38 31.5h2M40 32.5h1M31 33.5h1M35 34.5h1M42 34.5h1M44 34.5h1M9 36.5h1M42 36.5h1M45 36.5h1M33 37.5h1M50 37.5h1M35 38.5h1M43 38.5h2M31 39.5h1M42 39.5h1M33 40.5h1M48 40.5h1M22 41.5h1M38 41.5h1M45 41.5h1M49 41.5h1M27 42.5h1M31 42.5h1M0 44.5h1M12 46.5h1M48 46.5h1M50 46.5h1M35 47.5h1M43 47.5h1M45 47.5h1M0 48.5h1M27 48.5h1M42 48.5h1M30 49.5h1M42 49.5h1M41 50.5h1M1 51.5h1M30 51.5h1M39 51.5h1M48 51.5h1M47 52.5h1M0 53.5h1M35 53.5h1M39 53.5h1M23 55.5h1M36 55.5h1M49 55.5h1M1 56.5h1M39 56.5h1M38 57.5h1M47 57.5h1M49 57.5h1M1 59.5h1M29 59.5h1M42 59.5h1M44 59.5h1"/><path stroke="#eb6c6a" d="M8 0.5h1M43 0.5h1M8 1.5h1M14 1.5h1M8 2.5h1M24 2.5h1M45 2.5h1M18 3.5h1M9 4.5h1M11 4.5h2M14 4.5h1M19 4.5h1M8 5.5h1M10 5.5h1M12 5.5h1M14 5.5h1M25 5.5h1M7 7.5h1M13 8.5h1M43 8.5h1M19 9.5h1M21 9.5h1M11 10.5h1M21 10.5h1M30 10.5h1M17 11.5h1M10 12.5h1M7 13.5h1M18 13.5h1M6 14.5h2M10 14.5h1M12 14.5h1M49 14.5h1M1 15.5h1M23 15.5h1M18 16.5h1M9 17.5h1M40 17.5h1M11 18.5h1M6 19.5h1M1 20.5h1M10 20.5h1M15 20.5h1M1 21.5h1M1 27.5h1M0 28.5h1M49 28.5h1M1 29.5h1M27 30.5h1M45 30.5h1M40 31.5h1M43 32.5h1M1 33.5h1M44 33.5h2M47 33.5h1M50 33.5h1M26 34.5h1M0 37.5h1M22 37.5h1M46 38.5h1M27 39.5h1M0 40.5h1M45 40.5h1M1 41.5h1M39 41.5h1M50 41.5h1M42 42.5h1M48 42.5h1M27 43.5h1M25 45.5h1M0 47.5h1M38 48.5h1M49 48.5h1M45 49.5h1M30 50.5h1M22 51.5h1M40 51.5h1M42 54.5h1M40 55.5h1M45 55.5h1M32 56.5h2M44 56.5h1M50 56.5h1M22 57.5h1"/><path stroke="#e85752" d="M0 0.5h1M13 0.5h1M1 1.5h1M7 2.5h1M9 2.5h1M1 4.5h1M22 6.5h1M0 7.5h1M9 7.5h1M7 8.5h1M12 8.5h1M17 12.5h1M8 13.5h1M6 16.5h1M18 19.5h2M18 20.5h1M22 20.5h1M0 23.5h1M0 26.5h1M0 27.5h1M27 29.5h1M40 30.5h1M44 30.5h1M0 31.5h1M22 31.5h1M25 31.5h1M24 33.5h1M49 33.5h1M25 34.5h1M24 36.5h1M0 38.5h1M0 39.5h1M0 43.5h1M27 45.5h1M25 46.5h1M49 47.5h1M22 49.5h1M22 50.5h1M27 51.5h1M26 54.5h2M26 56.5h2M25 57.5h2M0 59.5h1"/><path stroke="#e5443f" d="M22 7.5h1M0 8.5h1M24 8.5h1M0 9.5h1M0 13.5h1M22 13.5h1M22 14.5h1M9 15.5h1M0 16.5h1M22 18.5h1M0 19.5h1M24 26.5h1M26 26.5h1M24 27.5h1M24 28.5h2M0 29.5h1M26 31.5h1M0 32.5h1M25 32.5h1M0 33.5h1M43 33.5h1M0 35.5h1M26 35.5h2M27 37.5h1M25 38.5h1M25 39.5h1M27 40.5h1M27 41.5h1M0 42.5h1M25 44.5h1M27 44.5h1M24 51.5h1M26 52.5h1M27 55.5h1M39 57.5h1M27 58.5h1"/><path stroke="#e13936" d="M26 0.5h1M24 3.5h1M26 3.5h1M25 4.5h1M26 5.5h1M25 6.5h1M25 8.5h1M22 9.5h1M27 9.5h1M26 15.5h1M22 17.5h1M24 17.5h1M27 20.5h1M0 24.5h1M24 29.5h1M26 30.5h1M25 33.5h1M25 35.5h1M24 37.5h1M24 38.5h1M26 40.5h1M26 43.5h1M24 46.5h1M26 46.5h1M27 47.5h1M24 49.5h1M26 49.5h1M26 50.5h1M0 54.5h1M25 54.5h1M26 55.5h1M24 59.5h1"/><path stroke="#de2e2c" d="M22 0.5h1M27 0.5h1M0 1.5h1M26 1.5h1M22 3.5h1M27 4.5h1M26 7.5h1M25 11.5h1M26 12.5h1M24 18.5h1M22 22.5h1M24 24.5h2M28 24.5h1M0 25.5h1M24 31.5h1M27 49.5h1M26 53.5h1M24 55.5h1"/><path stroke="#da2323" d="M24 0.5h1M24 1.5h1M27 1.5h1M22 2.5h1M25 3.5h1M22 4.5h1M24 4.5h1M27 5.5h1M26 6.5h1M24 7.5h2M22 8.5h1M24 9.5h3M27 10.5h1M24 11.5h1M24 12.5h1M27 13.5h1M24 14.5h2M27 14.5h1M27 15.5h1M24 16.5h1M25 17.5h2M25 18.5h1M24 19.5h1M26 19.5h1M24 20.5h1M22 21.5h1M26 21.5h1M24 22.5h5M22 23.5h1M24 23.5h5M22 24.5h1M26 24.5h2M22 25.5h1M24 25.5h5M27 33.5h1M24 34.5h1M24 44.5h1M24 48.5h1M24 53.5h1M0 55.5h1"/></g></g>
<rect x="40.8" y="400.6" width="153.1" height="4.8" fill="#93cc86"/>
<rect x="193.9" y="400.6" width="76.5" height="4.8" fill="#4a2491"/>
<text x="19.2" y="404.6" font-size="7.0" text-anchor="start" textLength="21.0" lengthAdjust="spacingAndGlyphs" fill="#262626" stroke="#262626" stroke-width="0.18">Cluster</text>
<text x="64.4" y="170.6" font-size="7.0" text-anchor="start" textLength="20.9" lengthAdjust="spacingAndGlyphs" fill="#262626" stroke="#262626" stroke-width="0.18">Cluster</text>
<rect x="64.7" y="174.5" width="4.1" height="4.4" fill="#27a3dc"/>
<text x="72.5" y="179.0" font-size="6.6" text-anchor="start" textLength="11.5" lengthAdjust="spacingAndGlyphs" fill="#262626" stroke="#262626" stroke-width="0.18">EC1</text>
<rect x="91.2" y="174.5" width="4.3" height="4.4" fill="#f0952c"/>
<text x="99.0" y="179.0" font-size="6.6" text-anchor="start" textLength="11.5" lengthAdjust="spacingAndGlyphs" fill="#262626" stroke="#262626" stroke-width="0.18">EC2</text>
<defs><linearGradient id="cb0" x1="0" x2="1" y1="0" y2="0"><stop offset="0" stop-color="#2a226e"/><stop offset="0.25" stop-color="#5a55a8"/><stop offset="0.5" stop-color="#f6f2f4"/><stop offset="0.75" stop-color="#ee9a74"/><stop offset="1" stop-color="#e04a1e"/></linearGradient></defs>
<rect x="128.3" y="164.4" width="53.6" height="5.4" fill="url(#cb0)" stroke="#333" stroke-width="0.4"/>
<text x="125.4" y="179.0" font-size="6.6" text-anchor="start" textLength="6.8" lengthAdjust="spacingAndGlyphs" fill="#262626" stroke="#262626" stroke-width="0.18">−2</text>
<text x="138.0" y="179.0" font-size="6.6" text-anchor="start" textLength="7.0" lengthAdjust="spacingAndGlyphs" fill="#262626" stroke="#262626" stroke-width="0.18">−1</text>
<text x="154.0" y="179.0" font-size="6.6" text-anchor="start" textLength="4.0" lengthAdjust="spacingAndGlyphs" fill="#262626" stroke="#262626" stroke-width="0.18">0</text>
<text x="166.6" y="179.0" font-size="6.6" text-anchor="start" textLength="2.8" lengthAdjust="spacingAndGlyphs" fill="#262626" stroke="#262626" stroke-width="0.18">1</text>
<text x="179.8" y="179.0" font-size="6.6" text-anchor="start" textLength="3.6" lengthAdjust="spacingAndGlyphs" fill="#262626" stroke="#262626" stroke-width="0.18">2</text>
<text x="64.4" y="531.6" font-size="7.0" text-anchor="start" textLength="20.9" lengthAdjust="spacingAndGlyphs" fill="#262626" stroke="#262626" stroke-width="0.18">Cluster</text>
<rect x="64.7" y="535.5" width="4.1" height="4.4" fill="#93cc86"/>
<text x="72.5" y="540.0" font-size="6.6" text-anchor="start" textLength="11.5" lengthAdjust="spacingAndGlyphs" fill="#262626" stroke="#262626" stroke-width="0.18">VC1</text>
<rect x="91.2" y="535.5" width="4.3" height="4.4" fill="#4a2491"/>
<text x="99.0" y="540.0" font-size="6.6" text-anchor="start" textLength="11.5" lengthAdjust="spacingAndGlyphs" fill="#262626" stroke="#262626" stroke-width="0.18">VC2</text>
<defs><linearGradient id="cb361" x1="0" x2="1" y1="0" y2="0"><stop offset="0" stop-color="#2a226e"/><stop offset="0.25" stop-color="#5a55a8"/><stop offset="0.5" stop-color="#f6f2f4"/><stop offset="0.75" stop-color="#ee9a74"/><stop offset="1" stop-color="#e04a1e"/></linearGradient></defs>
<rect x="128.3" y="525.4" width="53.6" height="5.4" fill="url(#cb361)" stroke="#333" stroke-width="0.4"/>
<text x="125.4" y="540.0" font-size="6.6" text-anchor="start" textLength="6.8" lengthAdjust="spacingAndGlyphs" fill="#262626" stroke="#262626" stroke-width="0.18">−2</text>
<text x="138.0" y="540.0" font-size="6.6" text-anchor="start" textLength="7.0" lengthAdjust="spacingAndGlyphs" fill="#262626" stroke="#262626" stroke-width="0.18">−1</text>
<text x="154.0" y="540.0" font-size="6.6" text-anchor="start" textLength="4.0" lengthAdjust="spacingAndGlyphs" fill="#262626" stroke="#262626" stroke-width="0.18">0</text>
<text x="166.6" y="540.0" font-size="6.6" text-anchor="start" textLength="2.8" lengthAdjust="spacingAndGlyphs" fill="#262626" stroke="#262626" stroke-width="0.18">1</text>
<text x="179.8" y="540.0" font-size="6.6" text-anchor="start" textLength="3.6" lengthAdjust="spacingAndGlyphs" fill="#262626" stroke="#262626" stroke-width="0.18">2</text>
<rect x="0.5" y="0.5" width="519" height="714" fill="none" stroke="#595959" stroke-width="1"/>
</svg></body></html>
